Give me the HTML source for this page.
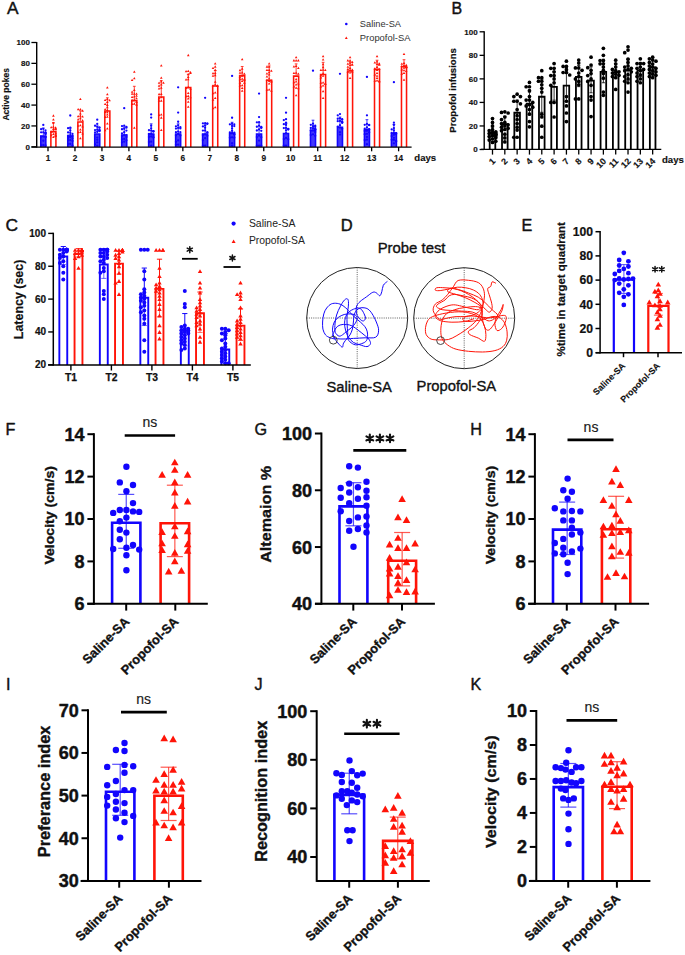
<!DOCTYPE html>
<html><head><meta charset="utf-8"><style>
html,body{margin:0;padding:0;background:#fff;}
svg{display:block;}
text{font-family:"Liberation Sans", sans-serif;}
</style></head><body>
<svg width="685" height="955" viewBox="0 0 685 955">
<rect width="685" height="955" fill="#fff"/>
<text x="6.9" y="14.2" font-size="17.3" font-weight="normal" text-anchor="start" fill="#111" stroke="#111" stroke-width="0.45" stroke-linejoin="round">A</text>
<line x1="36.7" y1="42" x2="36.7" y2="147.4" stroke="#000" stroke-width="1.4"/>
<line x1="31.4" y1="146.8" x2="36.7" y2="146.8" stroke="#000" stroke-width="1.3"/>
<text x="29.9" y="149.5" font-size="8" font-weight="bold" text-anchor="end" fill="#111" stroke="#111" stroke-width="0.15" stroke-linejoin="round">0</text>
<line x1="31.4" y1="125.94" x2="36.7" y2="125.94" stroke="#000" stroke-width="1.3"/>
<text x="29.9" y="128.64" font-size="8" font-weight="bold" text-anchor="end" fill="#111" stroke="#111" stroke-width="0.15" stroke-linejoin="round">20</text>
<line x1="31.4" y1="105.08" x2="36.7" y2="105.08" stroke="#000" stroke-width="1.3"/>
<text x="29.9" y="107.78" font-size="8" font-weight="bold" text-anchor="end" fill="#111" stroke="#111" stroke-width="0.15" stroke-linejoin="round">40</text>
<line x1="31.4" y1="84.22" x2="36.7" y2="84.22" stroke="#000" stroke-width="1.3"/>
<text x="29.9" y="86.92" font-size="8" font-weight="bold" text-anchor="end" fill="#111" stroke="#111" stroke-width="0.15" stroke-linejoin="round">60</text>
<line x1="31.4" y1="63.36" x2="36.7" y2="63.36" stroke="#000" stroke-width="1.3"/>
<text x="29.9" y="66.06" font-size="8" font-weight="bold" text-anchor="end" fill="#111" stroke="#111" stroke-width="0.15" stroke-linejoin="round">80</text>
<line x1="31.4" y1="42.5" x2="36.7" y2="42.5" stroke="#000" stroke-width="1.3"/>
<text x="29.9" y="45.2" font-size="8" font-weight="bold" text-anchor="end" fill="#111" stroke="#111" stroke-width="0.15" stroke-linejoin="round">100</text>
<text x="9.2" y="94.3" font-size="8.5" font-weight="bold" text-anchor="middle" fill="#111" transform="rotate(-90 9.2 94.3)" stroke="#111" stroke-width="0.15" stroke-linejoin="round">Active pokes</text>
<line x1="48" y1="147.1" x2="48" y2="151.3" stroke="#000" stroke-width="1.3"/>
<text x="48" y="160.8" font-size="8.3" font-weight="bold" text-anchor="middle" fill="#111" stroke="#111" stroke-width="0.15" stroke-linejoin="round">1</text>
<rect x="40.77" y="136.1" width="5.05" height="11" fill="#1205fd" fill-opacity="0.8"/>
<path d="M40.77 147.1V136.1H45.82V147.1" fill="none" stroke="#1205fd" stroke-width="1.55" stroke-linejoin="miter"/>
<circle cx="43.3" cy="124.9" r="1.15" fill="#1205fd"/>
<circle cx="43.3" cy="128.83" r="1.15" fill="#1205fd"/>
<circle cx="41.1" cy="129.27" r="1.15" fill="#1205fd"/>
<circle cx="45.5" cy="130.33" r="1.15" fill="#1205fd"/>
<circle cx="43.3" cy="132.34" r="1.15" fill="#1205fd"/>
<circle cx="41.1" cy="132.37" r="1.15" fill="#1205fd"/>
<circle cx="45.5" cy="132.41" r="1.15" fill="#1205fd"/>
<circle cx="45.5" cy="132.85" r="1.15" fill="#1205fd"/>
<circle cx="45.5" cy="133.02" r="1.15" fill="#1205fd"/>
<circle cx="45.5" cy="133.87" r="1.15" fill="#1205fd"/>
<circle cx="45.5" cy="134.24" r="1.15" fill="#1205fd"/>
<circle cx="43.3" cy="136.57" r="1.15" fill="#1205fd"/>
<circle cx="41.1" cy="136.65" r="1.15" fill="#1205fd"/>
<circle cx="45.5" cy="136.82" r="1.15" fill="#1205fd"/>
<circle cx="45.5" cy="137.17" r="1.15" fill="#1205fd"/>
<circle cx="43.3" cy="140.76" r="1.15" fill="#1205fd"/>
<circle cx="43.3" cy="145.06" r="1.15" fill="#1205fd"/>
<circle cx="41.1" cy="145.21" r="1.15" fill="#1205fd"/>
<circle cx="45.5" cy="145.51" r="1.15" fill="#1205fd"/>
<line x1="43.3" y1="135.33" x2="43.3" y2="128.03" stroke="#1205fd" stroke-width="0.8"/>
<line x1="41.9" y1="128.03" x2="44.7" y2="128.03" stroke="#1205fd" stroke-width="0.8"/>
<path d="M52.1 116.65L53.4 114.37L54.7 116.65Z" fill="#ff1408"/>
<path d="M52.1 120.52L53.4 118.23L54.7 120.52Z" fill="#ff1408"/>
<path d="M52.1 124L53.4 121.71L54.7 124Z" fill="#ff1408"/>
<path d="M52.1 127.77L53.4 125.48L54.7 127.77Z" fill="#ff1408"/>
<path d="M49.9 128.27L51.2 125.98L52.5 128.27Z" fill="#ff1408"/>
<path d="M54.3 128.51L55.6 126.22L56.9 128.51Z" fill="#ff1408"/>
<path d="M54.3 129.36L55.6 127.07L56.9 129.36Z" fill="#ff1408"/>
<path d="M52.1 129.93L53.4 127.64L54.7 129.93Z" fill="#ff1408"/>
<path d="M54.3 129.95L55.6 127.66L56.9 129.95Z" fill="#ff1408"/>
<path d="M54.3 130.33L55.6 128.04L56.9 130.33Z" fill="#ff1408"/>
<path d="M52.1 132.29L53.4 130L54.7 132.29Z" fill="#ff1408"/>
<path d="M49.9 132.7L51.2 130.41L52.5 132.7Z" fill="#ff1408"/>
<path d="M54.3 134.28L55.6 131.99L56.9 134.28Z" fill="#ff1408"/>
<path d="M52.1 135.11L53.4 132.82L54.7 135.11Z" fill="#ff1408"/>
<path d="M49.9 136.13L51.2 133.84L52.5 136.13Z" fill="#ff1408"/>
<path d="M54.3 136.27L55.6 133.99L56.9 136.27Z" fill="#ff1408"/>
<path d="M54.3 136.4L55.6 134.11L56.9 136.4Z" fill="#ff1408"/>
<path d="M54.3 136.92L55.6 134.63L56.9 136.92Z" fill="#ff1408"/>
<path d="M52.1 137.92L53.4 135.64L54.7 137.92Z" fill="#ff1408"/>
<path d="M50.88 147.1V131.62H55.92V147.1" fill="none" stroke="#ff1408" stroke-width="1.55" stroke-linejoin="miter"/>
<line x1="53.4" y1="130.84" x2="53.4" y2="122.5" stroke="#ff1408" stroke-width="0.8"/>
<line x1="52" y1="122.5" x2="54.8" y2="122.5" stroke="#ff1408" stroke-width="0.8"/>
<line x1="74.97" y1="147.1" x2="74.97" y2="151.3" stroke="#000" stroke-width="1.3"/>
<text x="74.97" y="160.8" font-size="8.3" font-weight="bold" text-anchor="middle" fill="#111" stroke="#111" stroke-width="0.15" stroke-linejoin="round">2</text>
<rect x="67.75" y="136.1" width="5.05" height="11" fill="#1205fd" fill-opacity="0.8"/>
<path d="M67.75 147.1V136.1H72.79V147.1" fill="none" stroke="#1205fd" stroke-width="1.55" stroke-linejoin="miter"/>
<circle cx="70.27" cy="115.51" r="1.15" fill="#1205fd"/>
<circle cx="70.27" cy="127.7" r="1.15" fill="#1205fd"/>
<circle cx="68.07" cy="128.2" r="1.15" fill="#1205fd"/>
<circle cx="70.27" cy="130.49" r="1.15" fill="#1205fd"/>
<circle cx="68.07" cy="132.42" r="1.15" fill="#1205fd"/>
<circle cx="70.27" cy="132.84" r="1.15" fill="#1205fd"/>
<circle cx="72.47" cy="133.9" r="1.15" fill="#1205fd"/>
<circle cx="70.27" cy="135.04" r="1.15" fill="#1205fd"/>
<circle cx="68.07" cy="135.69" r="1.15" fill="#1205fd"/>
<circle cx="72.47" cy="135.95" r="1.15" fill="#1205fd"/>
<circle cx="70.27" cy="137.21" r="1.15" fill="#1205fd"/>
<circle cx="68.07" cy="137.94" r="1.15" fill="#1205fd"/>
<circle cx="72.47" cy="138.37" r="1.15" fill="#1205fd"/>
<circle cx="70.27" cy="140.05" r="1.15" fill="#1205fd"/>
<circle cx="68.07" cy="140.1" r="1.15" fill="#1205fd"/>
<circle cx="72.47" cy="140.92" r="1.15" fill="#1205fd"/>
<circle cx="70.27" cy="143.88" r="1.15" fill="#1205fd"/>
<circle cx="68.07" cy="144.03" r="1.15" fill="#1205fd"/>
<circle cx="72.47" cy="145.76" r="1.15" fill="#1205fd"/>
<line x1="70.27" y1="135.33" x2="70.27" y2="128.03" stroke="#1205fd" stroke-width="0.8"/>
<line x1="68.87" y1="128.03" x2="71.67" y2="128.03" stroke="#1205fd" stroke-width="0.8"/>
<path d="M79.07 99.97L80.37 97.68L81.67 99.97Z" fill="#ff1408"/>
<path d="M79.07 110.35L80.37 108.06L81.67 110.35Z" fill="#ff1408"/>
<path d="M76.87 110.37L78.17 108.08L79.47 110.37Z" fill="#ff1408"/>
<path d="M81.27 111.64L82.57 109.35L83.87 111.64Z" fill="#ff1408"/>
<path d="M79.07 114.5L80.37 112.21L81.67 114.5Z" fill="#ff1408"/>
<path d="M79.07 116.81L80.37 114.52L81.67 116.81Z" fill="#ff1408"/>
<path d="M76.87 117.26L78.17 114.97L79.47 117.26Z" fill="#ff1408"/>
<path d="M81.27 117.56L82.57 115.28L83.87 117.56Z" fill="#ff1408"/>
<path d="M79.07 119.37L80.37 117.08L81.67 119.37Z" fill="#ff1408"/>
<path d="M76.87 120.39L78.17 118.11L79.47 120.39Z" fill="#ff1408"/>
<path d="M81.27 121.4L82.57 119.11L83.87 121.4Z" fill="#ff1408"/>
<path d="M79.07 126.17L80.37 123.88L81.67 126.17Z" fill="#ff1408"/>
<path d="M76.87 126.82L78.17 124.53L79.47 126.82Z" fill="#ff1408"/>
<path d="M81.27 127.5L82.57 125.21L83.87 127.5Z" fill="#ff1408"/>
<path d="M79.07 130.46L80.37 128.18L81.67 130.46Z" fill="#ff1408"/>
<path d="M79.07 132.94L80.37 130.66L81.67 132.94Z" fill="#ff1408"/>
<path d="M76.87 133.23L78.17 130.94L79.47 133.23Z" fill="#ff1408"/>
<path d="M81.27 134.55L82.57 132.27L83.87 134.55Z" fill="#ff1408"/>
<path d="M79.07 139.34L80.37 137.06L81.67 139.34Z" fill="#ff1408"/>
<path d="M77.85 147.1V122.02H82.89V147.1" fill="none" stroke="#ff1408" stroke-width="1.55" stroke-linejoin="miter"/>
<line x1="80.37" y1="121.25" x2="80.37" y2="110.82" stroke="#ff1408" stroke-width="0.8"/>
<line x1="78.97" y1="110.82" x2="81.77" y2="110.82" stroke="#ff1408" stroke-width="0.8"/>
<line x1="101.94" y1="147.1" x2="101.94" y2="151.3" stroke="#000" stroke-width="1.3"/>
<text x="101.94" y="160.8" font-size="8.3" font-weight="bold" text-anchor="middle" fill="#111" stroke="#111" stroke-width="0.15" stroke-linejoin="round">3</text>
<rect x="94.72" y="134.02" width="5.05" height="13.08" fill="#1205fd" fill-opacity="0.8"/>
<path d="M94.72 147.1V134.02H99.76V147.1" fill="none" stroke="#1205fd" stroke-width="1.55" stroke-linejoin="miter"/>
<circle cx="97.24" cy="119.68" r="1.15" fill="#1205fd"/>
<circle cx="97.24" cy="123.93" r="1.15" fill="#1205fd"/>
<circle cx="95.04" cy="125.75" r="1.15" fill="#1205fd"/>
<circle cx="97.24" cy="126.81" r="1.15" fill="#1205fd"/>
<circle cx="99.44" cy="127.53" r="1.15" fill="#1205fd"/>
<circle cx="99.44" cy="127.66" r="1.15" fill="#1205fd"/>
<circle cx="97.24" cy="129.63" r="1.15" fill="#1205fd"/>
<circle cx="95.04" cy="130.04" r="1.15" fill="#1205fd"/>
<circle cx="99.44" cy="130.15" r="1.15" fill="#1205fd"/>
<circle cx="99.44" cy="130.21" r="1.15" fill="#1205fd"/>
<circle cx="99.44" cy="130.7" r="1.15" fill="#1205fd"/>
<circle cx="99.44" cy="131.15" r="1.15" fill="#1205fd"/>
<circle cx="97.24" cy="131.81" r="1.15" fill="#1205fd"/>
<circle cx="95.04" cy="132.32" r="1.15" fill="#1205fd"/>
<circle cx="97.24" cy="137.54" r="1.15" fill="#1205fd"/>
<circle cx="97.24" cy="139.78" r="1.15" fill="#1205fd"/>
<circle cx="97.24" cy="142.4" r="1.15" fill="#1205fd"/>
<circle cx="95.04" cy="144.34" r="1.15" fill="#1205fd"/>
<circle cx="97.24" cy="145.76" r="1.15" fill="#1205fd"/>
<line x1="97.24" y1="133.24" x2="97.24" y2="125.94" stroke="#1205fd" stroke-width="0.8"/>
<line x1="95.84" y1="125.94" x2="98.64" y2="125.94" stroke="#1205fd" stroke-width="0.8"/>
<path d="M106.04 88.49L107.34 86.21L108.64 88.49Z" fill="#ff1408"/>
<path d="M106.04 95.32L107.34 93.03L108.64 95.32Z" fill="#ff1408"/>
<path d="M106.04 99.97L107.34 97.68L108.64 99.97Z" fill="#ff1408"/>
<path d="M103.84 101.01L105.14 98.72L106.44 101.01Z" fill="#ff1408"/>
<path d="M108.24 101.23L109.54 98.94L110.84 101.23Z" fill="#ff1408"/>
<path d="M106.04 103.01L107.34 100.72L108.64 103.01Z" fill="#ff1408"/>
<path d="M103.84 104.93L105.14 102.64L106.44 104.93Z" fill="#ff1408"/>
<path d="M106.04 105.91L107.34 103.62L108.64 105.91Z" fill="#ff1408"/>
<path d="M106.04 108.19L107.34 105.9L108.64 108.19Z" fill="#ff1408"/>
<path d="M103.84 110.23L105.14 107.95L106.44 110.23Z" fill="#ff1408"/>
<path d="M106.04 111.17L107.34 108.88L108.64 111.17Z" fill="#ff1408"/>
<path d="M103.84 112.94L105.14 110.65L106.44 112.94Z" fill="#ff1408"/>
<path d="M106.04 113.28L107.34 110.99L108.64 113.28Z" fill="#ff1408"/>
<path d="M106.04 115.59L107.34 113.3L108.64 115.59Z" fill="#ff1408"/>
<path d="M106.04 117.78L107.34 115.5L108.64 117.78Z" fill="#ff1408"/>
<path d="M103.84 118.06L105.14 115.77L106.44 118.06Z" fill="#ff1408"/>
<path d="M106.04 124.57L107.34 122.28L108.64 124.57Z" fill="#ff1408"/>
<path d="M106.04 129.57L107.34 127.29L108.64 129.57Z" fill="#ff1408"/>
<path d="M103.84 131.2L105.14 128.92L106.44 131.2Z" fill="#ff1408"/>
<path d="M104.82 147.1V111.07H109.86V147.1" fill="none" stroke="#ff1408" stroke-width="1.55" stroke-linejoin="miter"/>
<line x1="107.34" y1="110.3" x2="107.34" y2="97.78" stroke="#ff1408" stroke-width="0.8"/>
<line x1="105.94" y1="97.78" x2="108.74" y2="97.78" stroke="#ff1408" stroke-width="0.8"/>
<line x1="128.91" y1="147.1" x2="128.91" y2="151.3" stroke="#000" stroke-width="1.3"/>
<text x="128.91" y="160.8" font-size="8.3" font-weight="bold" text-anchor="middle" fill="#111" stroke="#111" stroke-width="0.15" stroke-linejoin="round">4</text>
<rect x="121.69" y="135.06" width="5.05" height="12.04" fill="#1205fd" fill-opacity="0.8"/>
<path d="M121.69 147.1V135.06H126.73V147.1" fill="none" stroke="#1205fd" stroke-width="1.55" stroke-linejoin="miter"/>
<circle cx="124.21" cy="108.21" r="1.15" fill="#1205fd"/>
<circle cx="124.21" cy="125.72" r="1.15" fill="#1205fd"/>
<circle cx="122.01" cy="126.08" r="1.15" fill="#1205fd"/>
<circle cx="126.41" cy="126.92" r="1.15" fill="#1205fd"/>
<circle cx="126.41" cy="127.69" r="1.15" fill="#1205fd"/>
<circle cx="124.21" cy="128.76" r="1.15" fill="#1205fd"/>
<circle cx="122.01" cy="129.27" r="1.15" fill="#1205fd"/>
<circle cx="126.41" cy="130.6" r="1.15" fill="#1205fd"/>
<circle cx="124.21" cy="132.27" r="1.15" fill="#1205fd"/>
<circle cx="122.01" cy="133.45" r="1.15" fill="#1205fd"/>
<circle cx="124.21" cy="135.07" r="1.15" fill="#1205fd"/>
<circle cx="126.41" cy="135.15" r="1.15" fill="#1205fd"/>
<circle cx="122.01" cy="136.02" r="1.15" fill="#1205fd"/>
<circle cx="126.41" cy="136.88" r="1.15" fill="#1205fd"/>
<circle cx="124.21" cy="138.88" r="1.15" fill="#1205fd"/>
<circle cx="122.01" cy="139.43" r="1.15" fill="#1205fd"/>
<circle cx="126.41" cy="140.28" r="1.15" fill="#1205fd"/>
<circle cx="124.21" cy="141.69" r="1.15" fill="#1205fd"/>
<circle cx="122.01" cy="142.34" r="1.15" fill="#1205fd"/>
<line x1="124.21" y1="134.28" x2="124.21" y2="126.98" stroke="#1205fd" stroke-width="0.8"/>
<line x1="122.81" y1="126.98" x2="125.61" y2="126.98" stroke="#1205fd" stroke-width="0.8"/>
<path d="M133.01 72.85L134.31 70.56L135.61 72.85Z" fill="#ff1408"/>
<path d="M133.01 79.2L134.31 76.91L135.61 79.2Z" fill="#ff1408"/>
<path d="M130.81 81.08L132.11 78.79L133.41 81.08Z" fill="#ff1408"/>
<path d="M133.01 90.99L134.31 88.7L135.61 90.99Z" fill="#ff1408"/>
<path d="M130.81 92.72L132.11 90.43L133.41 92.72Z" fill="#ff1408"/>
<path d="M133.01 94.77L134.31 92.48L135.61 94.77Z" fill="#ff1408"/>
<path d="M135.21 94.8L136.51 92.51L137.81 94.8Z" fill="#ff1408"/>
<path d="M130.81 94.87L132.11 92.58L133.41 94.87Z" fill="#ff1408"/>
<path d="M135.21 96.82L136.51 94.54L137.81 96.82Z" fill="#ff1408"/>
<path d="M133.01 97.48L134.31 95.2L135.61 97.48Z" fill="#ff1408"/>
<path d="M130.81 98L132.11 95.71L133.41 98Z" fill="#ff1408"/>
<path d="M135.21 99.35L136.51 97.07L137.81 99.35Z" fill="#ff1408"/>
<path d="M133.01 101L134.31 98.71L135.61 101Z" fill="#ff1408"/>
<path d="M130.81 101.15L132.11 98.86L133.41 101.15Z" fill="#ff1408"/>
<path d="M135.21 102.92L136.51 100.63L137.81 102.92Z" fill="#ff1408"/>
<path d="M133.01 104.66L134.31 102.37L135.61 104.66Z" fill="#ff1408"/>
<path d="M130.81 105.05L132.11 102.76L133.41 105.05Z" fill="#ff1408"/>
<path d="M135.21 105.65L136.51 103.36L137.81 105.65Z" fill="#ff1408"/>
<path d="M133.01 128.83L134.31 126.54L135.61 128.83Z" fill="#ff1408"/>
<path d="M131.78 147.1V100.64H136.84V147.1" fill="none" stroke="#ff1408" stroke-width="1.55" stroke-linejoin="miter"/>
<line x1="134.31" y1="99.87" x2="134.31" y2="86.31" stroke="#ff1408" stroke-width="0.8"/>
<line x1="132.91" y1="86.31" x2="135.71" y2="86.31" stroke="#ff1408" stroke-width="0.8"/>
<line x1="155.88" y1="147.1" x2="155.88" y2="151.3" stroke="#000" stroke-width="1.3"/>
<text x="155.88" y="160.8" font-size="8.3" font-weight="bold" text-anchor="middle" fill="#111" stroke="#111" stroke-width="0.15" stroke-linejoin="round">5</text>
<rect x="148.66" y="134.02" width="5.05" height="13.08" fill="#1205fd" fill-opacity="0.8"/>
<path d="M148.66 147.1V134.02H153.71V147.1" fill="none" stroke="#1205fd" stroke-width="1.55" stroke-linejoin="miter"/>
<circle cx="151.18" cy="114.47" r="1.15" fill="#1205fd"/>
<circle cx="151.18" cy="117.6" r="1.15" fill="#1205fd"/>
<circle cx="151.18" cy="125.67" r="1.15" fill="#1205fd"/>
<circle cx="151.18" cy="128.32" r="1.15" fill="#1205fd"/>
<circle cx="148.98" cy="130.25" r="1.15" fill="#1205fd"/>
<circle cx="151.18" cy="130.57" r="1.15" fill="#1205fd"/>
<circle cx="153.38" cy="131.12" r="1.15" fill="#1205fd"/>
<circle cx="153.38" cy="131.41" r="1.15" fill="#1205fd"/>
<circle cx="153.38" cy="131.45" r="1.15" fill="#1205fd"/>
<circle cx="151.18" cy="133.71" r="1.15" fill="#1205fd"/>
<circle cx="148.98" cy="133.99" r="1.15" fill="#1205fd"/>
<circle cx="153.38" cy="134.94" r="1.15" fill="#1205fd"/>
<circle cx="151.18" cy="136.48" r="1.15" fill="#1205fd"/>
<circle cx="148.98" cy="136.9" r="1.15" fill="#1205fd"/>
<circle cx="153.38" cy="137.16" r="1.15" fill="#1205fd"/>
<circle cx="153.38" cy="137.4" r="1.15" fill="#1205fd"/>
<circle cx="151.18" cy="141.68" r="1.15" fill="#1205fd"/>
<circle cx="148.98" cy="142.02" r="1.15" fill="#1205fd"/>
<circle cx="151.18" cy="145.76" r="1.15" fill="#1205fd"/>
<line x1="151.18" y1="133.24" x2="151.18" y2="123.85" stroke="#1205fd" stroke-width="0.8"/>
<line x1="149.78" y1="123.85" x2="152.58" y2="123.85" stroke="#1205fd" stroke-width="0.8"/>
<path d="M159.98 66.59L161.28 64.3L162.58 66.59Z" fill="#ff1408"/>
<path d="M159.98 78.7L161.28 76.41L162.58 78.7Z" fill="#ff1408"/>
<path d="M159.98 82.41L161.28 80.12L162.58 82.41Z" fill="#ff1408"/>
<path d="M157.78 83.69L159.08 81.41L160.38 83.69Z" fill="#ff1408"/>
<path d="M162.18 83.73L163.48 81.44L164.78 83.73Z" fill="#ff1408"/>
<path d="M159.98 85.42L161.28 83.14L162.58 85.42Z" fill="#ff1408"/>
<path d="M157.78 86.64L159.08 84.35L160.38 86.64Z" fill="#ff1408"/>
<path d="M159.98 88.81L161.28 86.52L162.58 88.81Z" fill="#ff1408"/>
<path d="M157.78 89.56L159.08 87.27L160.38 89.56Z" fill="#ff1408"/>
<path d="M159.98 94.97L161.28 92.68L162.58 94.97Z" fill="#ff1408"/>
<path d="M157.78 95.16L159.08 92.87L160.38 95.16Z" fill="#ff1408"/>
<path d="M159.98 98.19L161.28 95.91L162.58 98.19Z" fill="#ff1408"/>
<path d="M157.78 99.23L159.08 96.94L160.38 99.23Z" fill="#ff1408"/>
<path d="M159.98 101.63L161.28 99.34L162.58 101.63Z" fill="#ff1408"/>
<path d="M157.78 101.78L159.08 99.49L160.38 101.78Z" fill="#ff1408"/>
<path d="M159.98 115.48L161.28 113.19L162.58 115.48Z" fill="#ff1408"/>
<path d="M157.78 116.03L159.08 113.75L160.38 116.03Z" fill="#ff1408"/>
<path d="M159.98 118.65L161.28 116.37L162.58 118.65Z" fill="#ff1408"/>
<path d="M159.98 130.94L161.28 128.65L162.58 130.94Z" fill="#ff1408"/>
<path d="M158.75 147.1V96.99H163.81V147.1" fill="none" stroke="#ff1408" stroke-width="1.55" stroke-linejoin="miter"/>
<line x1="161.28" y1="96.21" x2="161.28" y2="80.57" stroke="#ff1408" stroke-width="0.8"/>
<line x1="159.88" y1="80.57" x2="162.68" y2="80.57" stroke="#ff1408" stroke-width="0.8"/>
<line x1="182.85" y1="147.1" x2="182.85" y2="151.3" stroke="#000" stroke-width="1.3"/>
<text x="182.85" y="160.8" font-size="8.3" font-weight="bold" text-anchor="middle" fill="#111" stroke="#111" stroke-width="0.15" stroke-linejoin="round">6</text>
<rect x="175.62" y="134.02" width="5.05" height="13.08" fill="#1205fd" fill-opacity="0.8"/>
<path d="M175.62 147.1V134.02H180.68V147.1" fill="none" stroke="#1205fd" stroke-width="1.55" stroke-linejoin="miter"/>
<circle cx="178.15" cy="87.35" r="1.15" fill="#1205fd"/>
<circle cx="178.15" cy="112.62" r="1.15" fill="#1205fd"/>
<circle cx="178.15" cy="121.73" r="1.15" fill="#1205fd"/>
<circle cx="178.15" cy="125.37" r="1.15" fill="#1205fd"/>
<circle cx="175.95" cy="126.37" r="1.15" fill="#1205fd"/>
<circle cx="180.35" cy="127.25" r="1.15" fill="#1205fd"/>
<circle cx="178.15" cy="127.95" r="1.15" fill="#1205fd"/>
<circle cx="180.35" cy="128.45" r="1.15" fill="#1205fd"/>
<circle cx="175.95" cy="128.62" r="1.15" fill="#1205fd"/>
<circle cx="178.15" cy="131.57" r="1.15" fill="#1205fd"/>
<circle cx="175.95" cy="132.18" r="1.15" fill="#1205fd"/>
<circle cx="180.35" cy="132.25" r="1.15" fill="#1205fd"/>
<circle cx="178.15" cy="133.91" r="1.15" fill="#1205fd"/>
<circle cx="175.95" cy="135.24" r="1.15" fill="#1205fd"/>
<circle cx="180.35" cy="135.45" r="1.15" fill="#1205fd"/>
<circle cx="178.15" cy="140.47" r="1.15" fill="#1205fd"/>
<circle cx="175.95" cy="141.85" r="1.15" fill="#1205fd"/>
<circle cx="178.15" cy="144.58" r="1.15" fill="#1205fd"/>
<circle cx="175.95" cy="144.71" r="1.15" fill="#1205fd"/>
<line x1="178.15" y1="133.24" x2="178.15" y2="123.85" stroke="#1205fd" stroke-width="0.8"/>
<line x1="176.75" y1="123.85" x2="179.55" y2="123.85" stroke="#1205fd" stroke-width="0.8"/>
<path d="M186.95 56.16L188.25 53.87L189.55 56.16Z" fill="#ff1408"/>
<path d="M186.95 72.06L188.25 69.77L189.55 72.06Z" fill="#ff1408"/>
<path d="M184.75 72.35L186.05 70.06L187.35 72.35Z" fill="#ff1408"/>
<path d="M189.15 73.22L190.45 70.93L191.75 73.22Z" fill="#ff1408"/>
<path d="M189.15 73.89L190.45 71.6L191.75 73.89Z" fill="#ff1408"/>
<path d="M186.95 75.29L188.25 73L189.55 75.29Z" fill="#ff1408"/>
<path d="M186.95 78.08L188.25 75.79L189.55 78.08Z" fill="#ff1408"/>
<path d="M186.95 80.3L188.25 78.01L189.55 80.3Z" fill="#ff1408"/>
<path d="M184.75 80.5L186.05 78.21L187.35 80.5Z" fill="#ff1408"/>
<path d="M186.95 87.96L188.25 85.67L189.55 87.96Z" fill="#ff1408"/>
<path d="M184.75 88.94L186.05 86.65L187.35 88.94Z" fill="#ff1408"/>
<path d="M189.15 89.75L190.45 87.46L191.75 89.75Z" fill="#ff1408"/>
<path d="M186.95 94.01L188.25 91.72L189.55 94.01Z" fill="#ff1408"/>
<path d="M186.95 96.89L188.25 94.6L189.55 96.89Z" fill="#ff1408"/>
<path d="M184.75 97.36L186.05 95.07L187.35 97.36Z" fill="#ff1408"/>
<path d="M189.15 98.25L190.45 95.96L191.75 98.25Z" fill="#ff1408"/>
<path d="M186.95 99.39L188.25 97.1L189.55 99.39Z" fill="#ff1408"/>
<path d="M186.95 102.69L188.25 100.4L189.55 102.69Z" fill="#ff1408"/>
<path d="M186.95 107.72L188.25 105.43L189.55 107.72Z" fill="#ff1408"/>
<path d="M185.72 147.1V87.6H190.78V147.1" fill="none" stroke="#ff1408" stroke-width="1.55" stroke-linejoin="miter"/>
<line x1="188.25" y1="86.83" x2="188.25" y2="74.31" stroke="#ff1408" stroke-width="0.8"/>
<line x1="186.85" y1="74.31" x2="189.65" y2="74.31" stroke="#ff1408" stroke-width="0.8"/>
<line x1="209.82" y1="147.1" x2="209.82" y2="151.3" stroke="#000" stroke-width="1.3"/>
<text x="209.82" y="160.8" font-size="8.3" font-weight="bold" text-anchor="middle" fill="#111" stroke="#111" stroke-width="0.15" stroke-linejoin="round">7</text>
<rect x="202.59" y="134.02" width="5.05" height="13.08" fill="#1205fd" fill-opacity="0.8"/>
<path d="M202.59 147.1V134.02H207.65V147.1" fill="none" stroke="#1205fd" stroke-width="1.55" stroke-linejoin="miter"/>
<circle cx="205.12" cy="97.78" r="1.15" fill="#1205fd"/>
<circle cx="205.12" cy="123.24" r="1.15" fill="#1205fd"/>
<circle cx="202.92" cy="123.31" r="1.15" fill="#1205fd"/>
<circle cx="207.32" cy="123.55" r="1.15" fill="#1205fd"/>
<circle cx="207.32" cy="123.73" r="1.15" fill="#1205fd"/>
<circle cx="205.12" cy="125.66" r="1.15" fill="#1205fd"/>
<circle cx="202.92" cy="126.44" r="1.15" fill="#1205fd"/>
<circle cx="205.12" cy="127.78" r="1.15" fill="#1205fd"/>
<circle cx="205.12" cy="130.5" r="1.15" fill="#1205fd"/>
<circle cx="202.92" cy="130.57" r="1.15" fill="#1205fd"/>
<circle cx="207.32" cy="132.41" r="1.15" fill="#1205fd"/>
<circle cx="207.32" cy="132.47" r="1.15" fill="#1205fd"/>
<circle cx="205.12" cy="134.45" r="1.15" fill="#1205fd"/>
<circle cx="202.92" cy="135" r="1.15" fill="#1205fd"/>
<circle cx="207.32" cy="135.83" r="1.15" fill="#1205fd"/>
<circle cx="205.12" cy="138.21" r="1.15" fill="#1205fd"/>
<circle cx="202.92" cy="140.05" r="1.15" fill="#1205fd"/>
<circle cx="205.12" cy="145.62" r="1.15" fill="#1205fd"/>
<circle cx="202.92" cy="145.76" r="1.15" fill="#1205fd"/>
<line x1="205.12" y1="133.24" x2="205.12" y2="124.9" stroke="#1205fd" stroke-width="0.8"/>
<line x1="203.72" y1="124.9" x2="206.52" y2="124.9" stroke="#1205fd" stroke-width="0.8"/>
<path d="M213.92 64.5L215.22 62.22L216.52 64.5Z" fill="#ff1408"/>
<path d="M213.92 67.63L215.22 65.35L216.52 67.63Z" fill="#ff1408"/>
<path d="M211.72 68.98L213.02 66.7L214.32 68.98Z" fill="#ff1408"/>
<path d="M213.92 70.91L215.22 68.62L216.52 70.91Z" fill="#ff1408"/>
<path d="M213.92 73.92L215.22 71.63L216.52 73.92Z" fill="#ff1408"/>
<path d="M211.72 74.25L213.02 71.97L214.32 74.25Z" fill="#ff1408"/>
<path d="M213.92 76.13L215.22 73.84L216.52 76.13Z" fill="#ff1408"/>
<path d="M211.72 76.68L213.02 74.39L214.32 76.68Z" fill="#ff1408"/>
<path d="M213.92 82.7L215.22 80.42L216.52 82.7Z" fill="#ff1408"/>
<path d="M213.92 85.48L215.22 83.2L216.52 85.48Z" fill="#ff1408"/>
<path d="M211.72 86.52L213.02 84.23L214.32 86.52Z" fill="#ff1408"/>
<path d="M216.12 86.56L217.42 84.27L218.72 86.56Z" fill="#ff1408"/>
<path d="M216.12 87.12L217.42 84.83L218.72 87.12Z" fill="#ff1408"/>
<path d="M213.92 93.55L215.22 91.26L216.52 93.55Z" fill="#ff1408"/>
<path d="M211.72 94.25L213.02 91.97L214.32 94.25Z" fill="#ff1408"/>
<path d="M213.92 99.06L215.22 96.77L216.52 99.06Z" fill="#ff1408"/>
<path d="M211.72 100.8L213.02 98.51L214.32 100.8Z" fill="#ff1408"/>
<path d="M213.92 108.32L215.22 106.03L216.52 108.32Z" fill="#ff1408"/>
<path d="M211.72 109.34L213.02 107.05L214.32 109.34Z" fill="#ff1408"/>
<path d="M212.69 147.1V86.04H217.75V147.1" fill="none" stroke="#ff1408" stroke-width="1.55" stroke-linejoin="miter"/>
<line x1="215.22" y1="85.26" x2="215.22" y2="70.66" stroke="#ff1408" stroke-width="0.8"/>
<line x1="213.82" y1="70.66" x2="216.62" y2="70.66" stroke="#ff1408" stroke-width="0.8"/>
<line x1="236.79" y1="147.1" x2="236.79" y2="151.3" stroke="#000" stroke-width="1.3"/>
<text x="236.79" y="160.8" font-size="8.3" font-weight="bold" text-anchor="middle" fill="#111" stroke="#111" stroke-width="0.15" stroke-linejoin="round">8</text>
<rect x="229.56" y="133.49" width="5.05" height="13.61" fill="#1205fd" fill-opacity="0.8"/>
<path d="M229.56 147.1V133.49H234.62V147.1" fill="none" stroke="#1205fd" stroke-width="1.55" stroke-linejoin="miter"/>
<circle cx="232.09" cy="75.88" r="1.15" fill="#1205fd"/>
<circle cx="232.09" cy="117.77" r="1.15" fill="#1205fd"/>
<circle cx="232.09" cy="123.76" r="1.15" fill="#1205fd"/>
<circle cx="229.89" cy="124.31" r="1.15" fill="#1205fd"/>
<circle cx="234.29" cy="124.37" r="1.15" fill="#1205fd"/>
<circle cx="232.09" cy="126" r="1.15" fill="#1205fd"/>
<circle cx="234.29" cy="126.1" r="1.15" fill="#1205fd"/>
<circle cx="232.09" cy="128.29" r="1.15" fill="#1205fd"/>
<circle cx="232.09" cy="130.77" r="1.15" fill="#1205fd"/>
<circle cx="229.89" cy="132.35" r="1.15" fill="#1205fd"/>
<circle cx="234.29" cy="132.66" r="1.15" fill="#1205fd"/>
<circle cx="232.09" cy="132.96" r="1.15" fill="#1205fd"/>
<circle cx="234.29" cy="134.32" r="1.15" fill="#1205fd"/>
<circle cx="234.29" cy="134.37" r="1.15" fill="#1205fd"/>
<circle cx="232.09" cy="137.35" r="1.15" fill="#1205fd"/>
<circle cx="229.89" cy="137.66" r="1.15" fill="#1205fd"/>
<circle cx="234.29" cy="137.71" r="1.15" fill="#1205fd"/>
<circle cx="232.09" cy="143.23" r="1.15" fill="#1205fd"/>
<circle cx="232.09" cy="145.76" r="1.15" fill="#1205fd"/>
<line x1="232.09" y1="132.72" x2="232.09" y2="122.29" stroke="#1205fd" stroke-width="0.8"/>
<line x1="230.69" y1="122.29" x2="233.49" y2="122.29" stroke="#1205fd" stroke-width="0.8"/>
<path d="M240.89 60.33L242.19 58.04L243.49 60.33Z" fill="#ff1408"/>
<path d="M240.89 69.82L242.19 67.53L243.49 69.82Z" fill="#ff1408"/>
<path d="M238.69 71.14L239.99 68.85L241.29 71.14Z" fill="#ff1408"/>
<path d="M240.89 73.55L242.19 71.26L243.49 73.55Z" fill="#ff1408"/>
<path d="M238.69 73.79L239.99 71.5L241.29 73.79Z" fill="#ff1408"/>
<path d="M243.09 74.87L244.39 72.58L245.69 74.87Z" fill="#ff1408"/>
<path d="M240.89 76.76L242.19 74.47L243.49 76.76Z" fill="#ff1408"/>
<path d="M238.69 77.82L239.99 75.53L241.29 77.82Z" fill="#ff1408"/>
<path d="M240.89 79.75L242.19 77.46L243.49 79.75Z" fill="#ff1408"/>
<path d="M238.69 80.24L239.99 77.95L241.29 80.24Z" fill="#ff1408"/>
<path d="M243.09 80.26L244.39 77.97L245.69 80.26Z" fill="#ff1408"/>
<path d="M243.09 81.12L244.39 78.84L245.69 81.12Z" fill="#ff1408"/>
<path d="M240.89 82L242.19 79.71L243.49 82Z" fill="#ff1408"/>
<path d="M238.69 83.85L239.99 81.56L241.29 83.85Z" fill="#ff1408"/>
<path d="M243.09 83.85L244.39 81.56L245.69 83.85Z" fill="#ff1408"/>
<path d="M240.89 86.2L242.19 83.91L243.49 86.2Z" fill="#ff1408"/>
<path d="M238.69 86.42L239.99 84.13L241.29 86.42Z" fill="#ff1408"/>
<path d="M240.89 88.94L242.19 86.65L243.49 88.94Z" fill="#ff1408"/>
<path d="M240.89 91.73L242.19 89.44L243.49 91.73Z" fill="#ff1408"/>
<path d="M239.66 147.1V75.61H244.72V147.1" fill="none" stroke="#ff1408" stroke-width="1.55" stroke-linejoin="miter"/>
<line x1="242.19" y1="74.83" x2="242.19" y2="66.49" stroke="#ff1408" stroke-width="0.8"/>
<line x1="240.79" y1="66.49" x2="243.59" y2="66.49" stroke="#ff1408" stroke-width="0.8"/>
<line x1="263.76" y1="147.1" x2="263.76" y2="151.3" stroke="#000" stroke-width="1.3"/>
<text x="263.76" y="160.8" font-size="8.3" font-weight="bold" text-anchor="middle" fill="#111" stroke="#111" stroke-width="0.15" stroke-linejoin="round">9</text>
<rect x="256.53" y="134.02" width="5.05" height="13.08" fill="#1205fd" fill-opacity="0.8"/>
<path d="M256.53 147.1V134.02H261.59V147.1" fill="none" stroke="#1205fd" stroke-width="1.55" stroke-linejoin="miter"/>
<circle cx="259.06" cy="93.61" r="1.15" fill="#1205fd"/>
<circle cx="259.06" cy="117.05" r="1.15" fill="#1205fd"/>
<circle cx="259.06" cy="122.11" r="1.15" fill="#1205fd"/>
<circle cx="256.86" cy="122.32" r="1.15" fill="#1205fd"/>
<circle cx="259.06" cy="125.76" r="1.15" fill="#1205fd"/>
<circle cx="256.86" cy="126.73" r="1.15" fill="#1205fd"/>
<circle cx="261.26" cy="127" r="1.15" fill="#1205fd"/>
<circle cx="261.26" cy="127.68" r="1.15" fill="#1205fd"/>
<circle cx="261.26" cy="127.74" r="1.15" fill="#1205fd"/>
<circle cx="259.06" cy="129.48" r="1.15" fill="#1205fd"/>
<circle cx="256.86" cy="130.52" r="1.15" fill="#1205fd"/>
<circle cx="261.26" cy="130.81" r="1.15" fill="#1205fd"/>
<circle cx="259.06" cy="135.72" r="1.15" fill="#1205fd"/>
<circle cx="256.86" cy="137.07" r="1.15" fill="#1205fd"/>
<circle cx="261.26" cy="137.16" r="1.15" fill="#1205fd"/>
<circle cx="259.06" cy="140.54" r="1.15" fill="#1205fd"/>
<circle cx="259.06" cy="145.76" r="1.15" fill="#1205fd"/>
<circle cx="256.86" cy="145.76" r="1.15" fill="#1205fd"/>
<circle cx="261.26" cy="145.76" r="1.15" fill="#1205fd"/>
<line x1="259.06" y1="133.24" x2="259.06" y2="122.81" stroke="#1205fd" stroke-width="0.8"/>
<line x1="257.66" y1="122.81" x2="260.46" y2="122.81" stroke="#1205fd" stroke-width="0.8"/>
<path d="M267.86 64.5L269.16 62.22L270.46 64.5Z" fill="#ff1408"/>
<path d="M267.86 67.63L269.16 65.35L270.46 67.63Z" fill="#ff1408"/>
<path d="M265.66 67.63L266.96 65.35L268.26 67.63Z" fill="#ff1408"/>
<path d="M267.86 70.88L269.16 68.59L270.46 70.88Z" fill="#ff1408"/>
<path d="M265.66 71L266.96 68.71L268.26 71Z" fill="#ff1408"/>
<path d="M270.06 71.72L271.36 69.43L272.66 71.72Z" fill="#ff1408"/>
<path d="M267.86 73.19L269.16 70.9L270.46 73.19Z" fill="#ff1408"/>
<path d="M265.66 74.58L266.96 72.3L268.26 74.58Z" fill="#ff1408"/>
<path d="M267.86 75.58L269.16 73.3L270.46 75.58Z" fill="#ff1408"/>
<path d="M265.66 77.49L266.96 75.21L268.26 77.49Z" fill="#ff1408"/>
<path d="M267.86 79.57L269.16 77.28L270.46 79.57Z" fill="#ff1408"/>
<path d="M265.66 81.05L266.96 78.76L268.26 81.05Z" fill="#ff1408"/>
<path d="M270.06 81.64L271.36 79.35L272.66 81.64Z" fill="#ff1408"/>
<path d="M267.86 81.97L269.16 79.69L270.46 81.97Z" fill="#ff1408"/>
<path d="M270.06 82.79L271.36 80.5L272.66 82.79Z" fill="#ff1408"/>
<path d="M267.86 84.56L269.16 82.28L270.46 84.56Z" fill="#ff1408"/>
<path d="M267.86 90.5L269.16 88.21L270.46 90.5Z" fill="#ff1408"/>
<path d="M265.66 90.73L266.96 88.44L268.26 90.73Z" fill="#ff1408"/>
<path d="M270.06 91.69L271.36 89.4L272.66 91.69Z" fill="#ff1408"/>
<path d="M266.63 147.1V80.3H271.69V147.1" fill="none" stroke="#ff1408" stroke-width="1.55" stroke-linejoin="miter"/>
<line x1="269.16" y1="79.53" x2="269.16" y2="65.97" stroke="#ff1408" stroke-width="0.8"/>
<line x1="267.76" y1="65.97" x2="270.56" y2="65.97" stroke="#ff1408" stroke-width="0.8"/>
<line x1="290.73" y1="147.1" x2="290.73" y2="151.3" stroke="#000" stroke-width="1.3"/>
<text x="290.73" y="160.8" font-size="8.3" font-weight="bold" text-anchor="middle" fill="#111" stroke="#111" stroke-width="0.15" stroke-linejoin="round">10</text>
<rect x="283.5" y="133.49" width="5.05" height="13.61" fill="#1205fd" fill-opacity="0.8"/>
<path d="M283.5 147.1V133.49H288.56V147.1" fill="none" stroke="#1205fd" stroke-width="1.55" stroke-linejoin="miter"/>
<circle cx="286.03" cy="97.78" r="1.15" fill="#1205fd"/>
<circle cx="286.03" cy="112.69" r="1.15" fill="#1205fd"/>
<circle cx="286.03" cy="119.13" r="1.15" fill="#1205fd"/>
<circle cx="283.83" cy="120.07" r="1.15" fill="#1205fd"/>
<circle cx="286.03" cy="122.76" r="1.15" fill="#1205fd"/>
<circle cx="283.83" cy="124.16" r="1.15" fill="#1205fd"/>
<circle cx="286.03" cy="124.96" r="1.15" fill="#1205fd"/>
<circle cx="286.03" cy="127.93" r="1.15" fill="#1205fd"/>
<circle cx="283.83" cy="128.05" r="1.15" fill="#1205fd"/>
<circle cx="288.23" cy="128.8" r="1.15" fill="#1205fd"/>
<circle cx="288.23" cy="129.11" r="1.15" fill="#1205fd"/>
<circle cx="288.23" cy="129.51" r="1.15" fill="#1205fd"/>
<circle cx="286.03" cy="130.28" r="1.15" fill="#1205fd"/>
<circle cx="286.03" cy="133.23" r="1.15" fill="#1205fd"/>
<circle cx="286.03" cy="137.99" r="1.15" fill="#1205fd"/>
<circle cx="283.83" cy="139.04" r="1.15" fill="#1205fd"/>
<circle cx="288.23" cy="139.13" r="1.15" fill="#1205fd"/>
<circle cx="286.03" cy="145.76" r="1.15" fill="#1205fd"/>
<circle cx="283.83" cy="145.76" r="1.15" fill="#1205fd"/>
<line x1="286.03" y1="132.72" x2="286.03" y2="123.33" stroke="#1205fd" stroke-width="0.8"/>
<line x1="284.63" y1="123.33" x2="287.43" y2="123.33" stroke="#1205fd" stroke-width="0.8"/>
<path d="M294.83 58.25L296.13 55.96L297.43 58.25Z" fill="#ff1408"/>
<path d="M294.83 61.38L296.13 59.09L297.43 61.38Z" fill="#ff1408"/>
<path d="M292.63 61.38L293.93 59.09L295.23 61.38Z" fill="#ff1408"/>
<path d="M297.03 61.38L298.33 59.09L299.63 61.38Z" fill="#ff1408"/>
<path d="M294.83 66.98L296.13 64.69L297.43 66.98Z" fill="#ff1408"/>
<path d="M292.63 67.42L293.93 65.13L295.23 67.42Z" fill="#ff1408"/>
<path d="M297.03 69.06L298.33 66.77L299.63 69.06Z" fill="#ff1408"/>
<path d="M294.83 73.83L296.13 71.54L297.43 73.83Z" fill="#ff1408"/>
<path d="M292.63 74.11L293.93 71.82L295.23 74.11Z" fill="#ff1408"/>
<path d="M297.03 74.81L298.33 72.53L299.63 74.81Z" fill="#ff1408"/>
<path d="M294.83 80.16L296.13 77.87L297.43 80.16Z" fill="#ff1408"/>
<path d="M294.83 82.61L296.13 80.33L297.43 82.61Z" fill="#ff1408"/>
<path d="M292.63 83.37L293.93 81.08L295.23 83.37Z" fill="#ff1408"/>
<path d="M297.03 84.5L298.33 82.21L299.63 84.5Z" fill="#ff1408"/>
<path d="M294.83 85.44L296.13 83.15L297.43 85.44Z" fill="#ff1408"/>
<path d="M292.63 87.46L293.93 85.17L295.23 87.46Z" fill="#ff1408"/>
<path d="M294.83 88.84L296.13 86.56L297.43 88.84Z" fill="#ff1408"/>
<path d="M297.03 89.37L298.33 87.08L299.63 89.37Z" fill="#ff1408"/>
<path d="M294.83 96.32L296.13 94.04L297.43 96.32Z" fill="#ff1408"/>
<path d="M293.6 147.1V76.13H298.66V147.1" fill="none" stroke="#ff1408" stroke-width="1.55" stroke-linejoin="miter"/>
<line x1="296.13" y1="75.35" x2="296.13" y2="63.88" stroke="#ff1408" stroke-width="0.8"/>
<line x1="294.73" y1="63.88" x2="297.53" y2="63.88" stroke="#ff1408" stroke-width="0.8"/>
<line x1="317.7" y1="147.1" x2="317.7" y2="151.3" stroke="#000" stroke-width="1.3"/>
<text x="317.7" y="160.8" font-size="8.3" font-weight="bold" text-anchor="middle" fill="#111" stroke="#111" stroke-width="0.15" stroke-linejoin="round">11</text>
<rect x="310.47" y="130.37" width="5.05" height="16.73" fill="#1205fd" fill-opacity="0.8"/>
<path d="M310.47 147.1V130.37H315.53V147.1" fill="none" stroke="#1205fd" stroke-width="1.55" stroke-linejoin="miter"/>
<circle cx="313" cy="70.66" r="1.15" fill="#1205fd"/>
<circle cx="313" cy="123.66" r="1.15" fill="#1205fd"/>
<circle cx="310.8" cy="124.8" r="1.15" fill="#1205fd"/>
<circle cx="315.2" cy="125.66" r="1.15" fill="#1205fd"/>
<circle cx="313" cy="126.15" r="1.15" fill="#1205fd"/>
<circle cx="315.2" cy="126.76" r="1.15" fill="#1205fd"/>
<circle cx="310.8" cy="128.02" r="1.15" fill="#1205fd"/>
<circle cx="313" cy="128.27" r="1.15" fill="#1205fd"/>
<circle cx="315.2" cy="128.41" r="1.15" fill="#1205fd"/>
<circle cx="315.2" cy="129.22" r="1.15" fill="#1205fd"/>
<circle cx="315.2" cy="129.59" r="1.15" fill="#1205fd"/>
<circle cx="315.2" cy="129.59" r="1.15" fill="#1205fd"/>
<circle cx="315.2" cy="130.03" r="1.15" fill="#1205fd"/>
<circle cx="313" cy="130.41" r="1.15" fill="#1205fd"/>
<circle cx="310.8" cy="130.52" r="1.15" fill="#1205fd"/>
<circle cx="315.2" cy="132.02" r="1.15" fill="#1205fd"/>
<circle cx="313" cy="134.29" r="1.15" fill="#1205fd"/>
<circle cx="310.8" cy="135.05" r="1.15" fill="#1205fd"/>
<circle cx="315.2" cy="135.79" r="1.15" fill="#1205fd"/>
<line x1="313" y1="129.59" x2="313" y2="120.2" stroke="#1205fd" stroke-width="0.8"/>
<line x1="311.6" y1="120.2" x2="314.4" y2="120.2" stroke="#1205fd" stroke-width="0.8"/>
<path d="M321.8 57.2L323.1 54.92L324.4 57.2Z" fill="#ff1408"/>
<path d="M321.8 60.45L323.1 58.16L324.4 60.45Z" fill="#ff1408"/>
<path d="M321.8 65.26L323.1 62.97L324.4 65.26Z" fill="#ff1408"/>
<path d="M321.8 68.14L323.1 65.86L324.4 68.14Z" fill="#ff1408"/>
<path d="M321.8 70.84L323.1 68.55L324.4 70.84Z" fill="#ff1408"/>
<path d="M319.6 70.94L320.9 68.66L322.2 70.94Z" fill="#ff1408"/>
<path d="M324 71.07L325.3 68.78L326.6 71.07Z" fill="#ff1408"/>
<path d="M321.8 74.39L323.1 72.1L324.4 74.39Z" fill="#ff1408"/>
<path d="M319.6 76.17L320.9 73.88L322.2 76.17Z" fill="#ff1408"/>
<path d="M321.8 76.67L323.1 74.38L324.4 76.67Z" fill="#ff1408"/>
<path d="M319.6 78.44L320.9 76.15L322.2 78.44Z" fill="#ff1408"/>
<path d="M321.8 83.47L323.1 81.19L324.4 83.47Z" fill="#ff1408"/>
<path d="M319.6 83.8L320.9 81.51L322.2 83.8Z" fill="#ff1408"/>
<path d="M324 84.48L325.3 82.19L326.6 84.48Z" fill="#ff1408"/>
<path d="M324 84.88L325.3 82.6L326.6 84.88Z" fill="#ff1408"/>
<path d="M321.8 86.48L323.1 84.2L324.4 86.48Z" fill="#ff1408"/>
<path d="M319.6 87.5L320.9 85.22L322.2 87.5Z" fill="#ff1408"/>
<path d="M321.8 92.34L323.1 90.05L324.4 92.34Z" fill="#ff1408"/>
<path d="M321.8 99.06L323.1 96.77L324.4 99.06Z" fill="#ff1408"/>
<path d="M320.57 147.1V74.57H325.62V147.1" fill="none" stroke="#ff1408" stroke-width="1.55" stroke-linejoin="miter"/>
<line x1="323.1" y1="73.79" x2="323.1" y2="62.32" stroke="#ff1408" stroke-width="0.8"/>
<line x1="321.7" y1="62.32" x2="324.5" y2="62.32" stroke="#ff1408" stroke-width="0.8"/>
<line x1="344.67" y1="147.1" x2="344.67" y2="151.3" stroke="#000" stroke-width="1.3"/>
<text x="344.67" y="160.8" font-size="8.3" font-weight="bold" text-anchor="middle" fill="#111" stroke="#111" stroke-width="0.15" stroke-linejoin="round">12</text>
<rect x="337.44" y="127.24" width="5.05" height="19.86" fill="#1205fd" fill-opacity="0.8"/>
<path d="M337.44 147.1V127.24H342.5V147.1" fill="none" stroke="#1205fd" stroke-width="1.55" stroke-linejoin="miter"/>
<circle cx="339.97" cy="73.79" r="1.15" fill="#1205fd"/>
<circle cx="339.97" cy="114.04" r="1.15" fill="#1205fd"/>
<circle cx="337.77" cy="115.32" r="1.15" fill="#1205fd"/>
<circle cx="339.97" cy="118.43" r="1.15" fill="#1205fd"/>
<circle cx="337.77" cy="118.77" r="1.15" fill="#1205fd"/>
<circle cx="342.17" cy="119.17" r="1.15" fill="#1205fd"/>
<circle cx="342.17" cy="119.64" r="1.15" fill="#1205fd"/>
<circle cx="339.97" cy="120.98" r="1.15" fill="#1205fd"/>
<circle cx="337.77" cy="121.16" r="1.15" fill="#1205fd"/>
<circle cx="342.17" cy="121.98" r="1.15" fill="#1205fd"/>
<circle cx="342.17" cy="121.98" r="1.15" fill="#1205fd"/>
<circle cx="342.17" cy="122.55" r="1.15" fill="#1205fd"/>
<circle cx="342.17" cy="122.73" r="1.15" fill="#1205fd"/>
<circle cx="339.97" cy="125.13" r="1.15" fill="#1205fd"/>
<circle cx="337.77" cy="126.62" r="1.15" fill="#1205fd"/>
<circle cx="339.97" cy="127.58" r="1.15" fill="#1205fd"/>
<circle cx="342.17" cy="128.69" r="1.15" fill="#1205fd"/>
<circle cx="339.97" cy="132.19" r="1.15" fill="#1205fd"/>
<circle cx="339.97" cy="134.59" r="1.15" fill="#1205fd"/>
<line x1="339.97" y1="126.46" x2="339.97" y2="117.07" stroke="#1205fd" stroke-width="0.8"/>
<line x1="338.57" y1="117.07" x2="341.37" y2="117.07" stroke="#1205fd" stroke-width="0.8"/>
<path d="M348.77 58.25L350.07 55.96L351.37 58.25Z" fill="#ff1408"/>
<path d="M348.77 61.38L350.07 59.09L351.37 61.38Z" fill="#ff1408"/>
<path d="M346.57 61.38L347.87 59.09L349.17 61.38Z" fill="#ff1408"/>
<path d="M350.97 63.01L352.27 60.72L353.57 63.01Z" fill="#ff1408"/>
<path d="M348.77 63.74L350.07 61.45L351.37 63.74Z" fill="#ff1408"/>
<path d="M346.57 64.74L347.87 62.45L349.17 64.74Z" fill="#ff1408"/>
<path d="M350.97 65.45L352.27 63.16L353.57 65.45Z" fill="#ff1408"/>
<path d="M350.97 65.59L352.27 63.3L353.57 65.59Z" fill="#ff1408"/>
<path d="M348.77 66.06L350.07 63.77L351.37 66.06Z" fill="#ff1408"/>
<path d="M346.57 67.68L347.87 65.39L349.17 67.68Z" fill="#ff1408"/>
<path d="M348.77 68.88L350.07 66.6L351.37 68.88Z" fill="#ff1408"/>
<path d="M346.57 70.03L347.87 67.74L349.17 70.03Z" fill="#ff1408"/>
<path d="M350.97 70.68L352.27 68.39L353.57 70.68Z" fill="#ff1408"/>
<path d="M348.77 71.12L350.07 68.83L351.37 71.12Z" fill="#ff1408"/>
<path d="M350.97 71.24L352.27 68.95L353.57 71.24Z" fill="#ff1408"/>
<path d="M346.57 72.7L347.87 70.41L349.17 72.7Z" fill="#ff1408"/>
<path d="M350.97 72.72L352.27 70.43L353.57 72.72Z" fill="#ff1408"/>
<path d="M348.77 73.57L350.07 71.29L351.37 73.57Z" fill="#ff1408"/>
<path d="M348.77 79.07L350.07 76.79L351.37 79.07Z" fill="#ff1408"/>
<path d="M347.54 147.1V70.91H352.59V147.1" fill="none" stroke="#ff1408" stroke-width="1.55" stroke-linejoin="miter"/>
<line x1="350.07" y1="70.14" x2="350.07" y2="61.8" stroke="#ff1408" stroke-width="0.8"/>
<line x1="348.67" y1="61.8" x2="351.47" y2="61.8" stroke="#ff1408" stroke-width="0.8"/>
<line x1="371.64" y1="147.1" x2="371.64" y2="151.3" stroke="#000" stroke-width="1.3"/>
<text x="371.64" y="160.8" font-size="8.3" font-weight="bold" text-anchor="middle" fill="#111" stroke="#111" stroke-width="0.15" stroke-linejoin="round">13</text>
<rect x="364.41" y="129.84" width="5.05" height="17.26" fill="#1205fd" fill-opacity="0.8"/>
<path d="M364.41 147.1V129.84H369.47V147.1" fill="none" stroke="#1205fd" stroke-width="1.55" stroke-linejoin="miter"/>
<circle cx="366.94" cy="76.92" r="1.15" fill="#1205fd"/>
<circle cx="366.94" cy="115.34" r="1.15" fill="#1205fd"/>
<circle cx="366.94" cy="123.92" r="1.15" fill="#1205fd"/>
<circle cx="364.74" cy="124.8" r="1.15" fill="#1205fd"/>
<circle cx="369.14" cy="124.82" r="1.15" fill="#1205fd"/>
<circle cx="369.14" cy="125.19" r="1.15" fill="#1205fd"/>
<circle cx="366.94" cy="127.52" r="1.15" fill="#1205fd"/>
<circle cx="364.74" cy="128.65" r="1.15" fill="#1205fd"/>
<circle cx="369.14" cy="129.03" r="1.15" fill="#1205fd"/>
<circle cx="369.14" cy="129.48" r="1.15" fill="#1205fd"/>
<circle cx="366.94" cy="130.81" r="1.15" fill="#1205fd"/>
<circle cx="364.74" cy="130.9" r="1.15" fill="#1205fd"/>
<circle cx="369.14" cy="132.34" r="1.15" fill="#1205fd"/>
<circle cx="366.94" cy="133.79" r="1.15" fill="#1205fd"/>
<circle cx="364.74" cy="134.2" r="1.15" fill="#1205fd"/>
<circle cx="366.94" cy="136.99" r="1.15" fill="#1205fd"/>
<circle cx="366.94" cy="139.71" r="1.15" fill="#1205fd"/>
<circle cx="364.74" cy="140.06" r="1.15" fill="#1205fd"/>
<circle cx="366.94" cy="144.15" r="1.15" fill="#1205fd"/>
<line x1="366.94" y1="129.07" x2="366.94" y2="119.68" stroke="#1205fd" stroke-width="0.8"/>
<line x1="365.54" y1="119.68" x2="368.34" y2="119.68" stroke="#1205fd" stroke-width="0.8"/>
<path d="M375.74 57.2L377.04 54.92L378.34 57.2Z" fill="#ff1408"/>
<path d="M375.74 62.42L377.04 60.13L378.34 62.42Z" fill="#ff1408"/>
<path d="M373.54 63.48L374.84 61.19L376.14 63.48Z" fill="#ff1408"/>
<path d="M377.94 64.51L379.24 62.22L380.54 64.51Z" fill="#ff1408"/>
<path d="M375.74 65.03L377.04 62.74L378.34 65.03Z" fill="#ff1408"/>
<path d="M377.94 65.49L379.24 63.2L380.54 65.49Z" fill="#ff1408"/>
<path d="M377.94 65.51L379.24 63.22L380.54 65.51Z" fill="#ff1408"/>
<path d="M375.74 68.05L377.04 65.76L378.34 68.05Z" fill="#ff1408"/>
<path d="M373.54 69.51L374.84 67.22L376.14 69.51Z" fill="#ff1408"/>
<path d="M377.94 70.07L379.24 67.78L380.54 70.07Z" fill="#ff1408"/>
<path d="M375.74 70.96L377.04 68.67L378.34 70.96Z" fill="#ff1408"/>
<path d="M375.74 73.92L377.04 71.63L378.34 73.92Z" fill="#ff1408"/>
<path d="M373.54 75.61L374.84 73.32L376.14 75.61Z" fill="#ff1408"/>
<path d="M375.74 76.83L377.04 74.54L378.34 76.83Z" fill="#ff1408"/>
<path d="M375.74 79.08L377.04 76.8L378.34 79.08Z" fill="#ff1408"/>
<path d="M375.74 81.48L377.04 79.19L378.34 81.48Z" fill="#ff1408"/>
<path d="M373.54 81.86L374.84 79.58L376.14 81.86Z" fill="#ff1408"/>
<path d="M377.94 81.9L379.24 79.62L380.54 81.9Z" fill="#ff1408"/>
<path d="M377.94 82.38L379.24 80.1L380.54 82.38Z" fill="#ff1408"/>
<path d="M374.51 147.1V69.35H379.56V147.1" fill="none" stroke="#ff1408" stroke-width="1.55" stroke-linejoin="miter"/>
<line x1="377.04" y1="68.58" x2="377.04" y2="60.23" stroke="#ff1408" stroke-width="0.8"/>
<line x1="375.64" y1="60.23" x2="378.44" y2="60.23" stroke="#ff1408" stroke-width="0.8"/>
<line x1="398.61" y1="147.1" x2="398.61" y2="151.3" stroke="#000" stroke-width="1.3"/>
<text x="398.61" y="160.8" font-size="8.3" font-weight="bold" text-anchor="middle" fill="#111" stroke="#111" stroke-width="0.15" stroke-linejoin="round">14</text>
<rect x="391.38" y="133.49" width="5.05" height="13.61" fill="#1205fd" fill-opacity="0.8"/>
<path d="M391.38 147.1V133.49H396.44V147.1" fill="none" stroke="#1205fd" stroke-width="1.55" stroke-linejoin="miter"/>
<circle cx="393.91" cy="82.13" r="1.15" fill="#1205fd"/>
<circle cx="393.91" cy="122.69" r="1.15" fill="#1205fd"/>
<circle cx="393.91" cy="124.95" r="1.15" fill="#1205fd"/>
<circle cx="393.91" cy="128.04" r="1.15" fill="#1205fd"/>
<circle cx="391.71" cy="129.45" r="1.15" fill="#1205fd"/>
<circle cx="393.91" cy="130.35" r="1.15" fill="#1205fd"/>
<circle cx="393.91" cy="132.68" r="1.15" fill="#1205fd"/>
<circle cx="391.71" cy="132.87" r="1.15" fill="#1205fd"/>
<circle cx="396.11" cy="133.14" r="1.15" fill="#1205fd"/>
<circle cx="396.11" cy="133.26" r="1.15" fill="#1205fd"/>
<circle cx="396.11" cy="134.05" r="1.15" fill="#1205fd"/>
<circle cx="393.91" cy="134.8" r="1.15" fill="#1205fd"/>
<circle cx="391.71" cy="136.09" r="1.15" fill="#1205fd"/>
<circle cx="393.91" cy="137.79" r="1.15" fill="#1205fd"/>
<circle cx="391.71" cy="139.8" r="1.15" fill="#1205fd"/>
<circle cx="393.91" cy="139.91" r="1.15" fill="#1205fd"/>
<circle cx="396.11" cy="140.98" r="1.15" fill="#1205fd"/>
<circle cx="396.11" cy="141.48" r="1.15" fill="#1205fd"/>
<circle cx="393.91" cy="143.31" r="1.15" fill="#1205fd"/>
<line x1="393.91" y1="132.72" x2="393.91" y2="124.38" stroke="#1205fd" stroke-width="0.8"/>
<line x1="392.51" y1="124.38" x2="395.31" y2="124.38" stroke="#1205fd" stroke-width="0.8"/>
<path d="M402.71 55.12L404.01 52.83L405.31 55.12Z" fill="#ff1408"/>
<path d="M402.71 64.05L404.01 61.76L405.31 64.05Z" fill="#ff1408"/>
<path d="M400.51 64.81L401.81 62.52L403.11 64.81Z" fill="#ff1408"/>
<path d="M404.91 66.11L406.21 63.82L407.51 66.11Z" fill="#ff1408"/>
<path d="M402.71 66.37L404.01 64.09L405.31 66.37Z" fill="#ff1408"/>
<path d="M400.51 66.92L401.81 64.64L403.11 66.92Z" fill="#ff1408"/>
<path d="M404.91 67.29L406.21 65.01L407.51 67.29Z" fill="#ff1408"/>
<path d="M404.91 67.44L406.21 65.15L407.51 67.44Z" fill="#ff1408"/>
<path d="M404.91 67.55L406.21 65.26L407.51 67.55Z" fill="#ff1408"/>
<path d="M404.91 67.83L406.21 65.55L407.51 67.83Z" fill="#ff1408"/>
<path d="M404.91 67.98L406.21 65.7L407.51 67.98Z" fill="#ff1408"/>
<path d="M404.91 68.37L406.21 66.08L407.51 68.37Z" fill="#ff1408"/>
<path d="M402.71 68.68L404.01 66.39L405.31 68.68Z" fill="#ff1408"/>
<path d="M400.51 70.48L401.81 68.19L403.11 70.48Z" fill="#ff1408"/>
<path d="M402.71 71.37L404.01 69.09L405.31 71.37Z" fill="#ff1408"/>
<path d="M404.91 72.02L406.21 69.74L407.51 72.02Z" fill="#ff1408"/>
<path d="M402.71 74.01L404.01 71.72L405.31 74.01Z" fill="#ff1408"/>
<path d="M400.51 74.64L401.81 72.35L403.11 74.64Z" fill="#ff1408"/>
<path d="M402.71 80.74L404.01 78.45L405.31 80.74Z" fill="#ff1408"/>
<path d="M401.48 147.1V66.74H406.54V147.1" fill="none" stroke="#ff1408" stroke-width="1.55" stroke-linejoin="miter"/>
<line x1="404.01" y1="65.97" x2="404.01" y2="59.71" stroke="#ff1408" stroke-width="0.8"/>
<line x1="402.61" y1="59.71" x2="405.41" y2="59.71" stroke="#ff1408" stroke-width="0.8"/>
<line x1="31.4" y1="147.1" x2="411.6" y2="147.1" stroke="#000" stroke-width="1.4"/>
<text x="414.3" y="160.6" font-size="9.6" font-weight="bold" text-anchor="start" fill="#111" stroke="#111" stroke-width="0.15" stroke-linejoin="round">days</text>
<circle cx="346.3" cy="24" r="1.3" fill="#1205fd"/>
<text x="359.8" y="27.3" font-size="9.4" font-weight="normal" text-anchor="start" fill="#333" textLength="41.2" lengthAdjust="spacingAndGlyphs">Saline-SA</text>
<path d="M344.9 39.03L346.3 36.57L347.7 39.03Z" fill="#ff1408"/>
<text x="359.8" y="40.8" font-size="9.4" font-weight="normal" text-anchor="start" fill="#333" textLength="50.6" lengthAdjust="spacingAndGlyphs">Propofol-SA</text>
<text x="451.6" y="14.4" font-size="16" font-weight="normal" text-anchor="start" fill="#111" stroke="#111" stroke-width="0.4" stroke-linejoin="round">B</text>
<line x1="484.2" y1="31.3" x2="484.2" y2="150.1" stroke="#000" stroke-width="1.4"/>
<line x1="479.6" y1="149.5" x2="484.2" y2="149.5" stroke="#000" stroke-width="1.3"/>
<text x="477.6" y="152.3" font-size="8" font-weight="bold" text-anchor="end" fill="#111" stroke="#111" stroke-width="0.15" stroke-linejoin="round">0</text>
<line x1="479.6" y1="125.96" x2="484.2" y2="125.96" stroke="#000" stroke-width="1.3"/>
<text x="477.6" y="128.76" font-size="8" font-weight="bold" text-anchor="end" fill="#111" stroke="#111" stroke-width="0.15" stroke-linejoin="round">20</text>
<line x1="479.6" y1="102.42" x2="484.2" y2="102.42" stroke="#000" stroke-width="1.3"/>
<text x="477.6" y="105.22" font-size="8" font-weight="bold" text-anchor="end" fill="#111" stroke="#111" stroke-width="0.15" stroke-linejoin="round">40</text>
<line x1="479.6" y1="78.88" x2="484.2" y2="78.88" stroke="#000" stroke-width="1.3"/>
<text x="477.6" y="81.68" font-size="8" font-weight="bold" text-anchor="end" fill="#111" stroke="#111" stroke-width="0.15" stroke-linejoin="round">60</text>
<line x1="479.6" y1="55.34" x2="484.2" y2="55.34" stroke="#000" stroke-width="1.3"/>
<text x="477.6" y="58.14" font-size="8" font-weight="bold" text-anchor="end" fill="#111" stroke="#111" stroke-width="0.15" stroke-linejoin="round">80</text>
<line x1="479.6" y1="31.8" x2="484.2" y2="31.8" stroke="#000" stroke-width="1.3"/>
<text x="477.6" y="34.6" font-size="8" font-weight="bold" text-anchor="end" fill="#111" stroke="#111" stroke-width="0.15" stroke-linejoin="round">100</text>
<text x="456.2" y="90.4" font-size="9.3" font-weight="bold" text-anchor="middle" fill="#111" transform="rotate(-90 456.2 90.4)" textLength="84.5" lengthAdjust="spacingAndGlyphs" stroke="#111" stroke-width="0.2" stroke-linejoin="round">Propofol infusions</text>
<line x1="492.5" y1="149.4" x2="492.5" y2="154.6" stroke="#000" stroke-width="1.3"/>
<text x="495.9" y="161.8" font-size="8.8" font-weight="bold" text-anchor="end" fill="#111" transform="rotate(-45 495.9 161.8)" stroke="#111" stroke-width="0.15" stroke-linejoin="round">1</text>
<circle cx="492.5" cy="118.54" r="1.85" fill="#000"/>
<circle cx="492.5" cy="122.43" r="1.85" fill="#000"/>
<circle cx="492.5" cy="125.96" r="1.85" fill="#000"/>
<circle cx="492.5" cy="129.49" r="1.85" fill="#000"/>
<circle cx="489.2" cy="130.67" r="1.85" fill="#000"/>
<circle cx="495.8" cy="131.84" r="1.85" fill="#000"/>
<circle cx="492.5" cy="132.43" r="1.85" fill="#000"/>
<circle cx="495.8" cy="133.02" r="1.85" fill="#000"/>
<circle cx="489.2" cy="133.61" r="1.85" fill="#000"/>
<circle cx="495.8" cy="134.2" r="1.85" fill="#000"/>
<circle cx="495.8" cy="134.79" r="1.85" fill="#000"/>
<circle cx="492.5" cy="135.38" r="1.85" fill="#000"/>
<circle cx="495.8" cy="135.96" r="1.85" fill="#000"/>
<circle cx="489.2" cy="136.55" r="1.85" fill="#000"/>
<circle cx="495.8" cy="137.73" r="1.85" fill="#000"/>
<circle cx="492.5" cy="138.91" r="1.85" fill="#000"/>
<circle cx="489.2" cy="140.08" r="1.85" fill="#000"/>
<circle cx="495.8" cy="141.26" r="1.85" fill="#000"/>
<circle cx="492.5" cy="142.44" r="1.85" fill="#000"/>
<path d="M489.7 149.4V132.86H495.3V149.4" fill="none" stroke="#000" stroke-width="1.8" stroke-linejoin="miter"/>
<line x1="492.5" y1="136.67" x2="492.5" y2="127.25" stroke="#000" stroke-width="0.8"/>
<line x1="490.9" y1="127.25" x2="494.1" y2="127.25" stroke="#000" stroke-width="0.8"/>
<line x1="490.9" y1="136.67" x2="494.1" y2="136.67" stroke="#000" stroke-width="0.8"/>
<line x1="504.82" y1="149.4" x2="504.82" y2="154.6" stroke="#000" stroke-width="1.3"/>
<text x="508.22" y="161.8" font-size="8.8" font-weight="bold" text-anchor="end" fill="#111" transform="rotate(-45 508.22 161.8)" stroke="#111" stroke-width="0.15" stroke-linejoin="round">2</text>
<circle cx="504.82" cy="111.84" r="1.85" fill="#000"/>
<circle cx="501.52" cy="112.42" r="1.85" fill="#000"/>
<circle cx="508.12" cy="113.01" r="1.85" fill="#000"/>
<circle cx="504.82" cy="117.01" r="1.85" fill="#000"/>
<circle cx="501.52" cy="119.6" r="1.85" fill="#000"/>
<circle cx="504.82" cy="122.43" r="1.85" fill="#000"/>
<circle cx="501.52" cy="123.61" r="1.85" fill="#000"/>
<circle cx="508.12" cy="124.78" r="1.85" fill="#000"/>
<circle cx="504.82" cy="125.96" r="1.85" fill="#000"/>
<circle cx="501.52" cy="127.14" r="1.85" fill="#000"/>
<circle cx="508.12" cy="128.31" r="1.85" fill="#000"/>
<circle cx="504.82" cy="129.49" r="1.85" fill="#000"/>
<circle cx="501.52" cy="130.67" r="1.85" fill="#000"/>
<circle cx="504.82" cy="134.2" r="1.85" fill="#000"/>
<circle cx="504.82" cy="137.97" r="1.85" fill="#000"/>
<circle cx="504.82" cy="141.97" r="1.85" fill="#000"/>
<path d="M502.02 149.4V124.15H507.62V149.4" fill="none" stroke="#000" stroke-width="1.8" stroke-linejoin="miter"/>
<line x1="504.82" y1="130.31" x2="504.82" y2="116.19" stroke="#000" stroke-width="0.8"/>
<line x1="503.22" y1="116.19" x2="506.42" y2="116.19" stroke="#000" stroke-width="0.8"/>
<line x1="503.22" y1="130.31" x2="506.42" y2="130.31" stroke="#000" stroke-width="0.8"/>
<line x1="517.14" y1="149.4" x2="517.14" y2="154.6" stroke="#000" stroke-width="1.3"/>
<text x="520.54" y="161.8" font-size="8.8" font-weight="bold" text-anchor="end" fill="#111" transform="rotate(-45 520.54 161.8)" stroke="#111" stroke-width="0.15" stroke-linejoin="round">3</text>
<circle cx="517.14" cy="94.18" r="1.85" fill="#000"/>
<circle cx="513.84" cy="96.53" r="1.85" fill="#000"/>
<circle cx="520.44" cy="96.53" r="1.85" fill="#000"/>
<circle cx="517.14" cy="101.24" r="1.85" fill="#000"/>
<circle cx="513.84" cy="101.24" r="1.85" fill="#000"/>
<circle cx="520.44" cy="103.83" r="1.85" fill="#000"/>
<circle cx="517.14" cy="109.48" r="1.85" fill="#000"/>
<circle cx="517.14" cy="115.72" r="1.85" fill="#000"/>
<circle cx="517.14" cy="119.6" r="1.85" fill="#000"/>
<circle cx="517.14" cy="123.61" r="1.85" fill="#000"/>
<circle cx="517.14" cy="127.14" r="1.85" fill="#000"/>
<circle cx="517.14" cy="130.08" r="1.85" fill="#000"/>
<circle cx="517.14" cy="137.26" r="1.85" fill="#000"/>
<circle cx="513.84" cy="137.26" r="1.85" fill="#000"/>
<path d="M514.34 149.4V112.74H519.94V149.4" fill="none" stroke="#000" stroke-width="1.8" stroke-linejoin="miter"/>
<line x1="517.14" y1="123.61" x2="517.14" y2="100.07" stroke="#000" stroke-width="0.8"/>
<line x1="515.54" y1="100.07" x2="518.74" y2="100.07" stroke="#000" stroke-width="0.8"/>
<line x1="515.54" y1="123.61" x2="518.74" y2="123.61" stroke="#000" stroke-width="0.8"/>
<line x1="529.46" y1="149.4" x2="529.46" y2="154.6" stroke="#000" stroke-width="1.3"/>
<text x="532.86" y="161.8" font-size="8.8" font-weight="bold" text-anchor="end" fill="#111" transform="rotate(-45 532.86 161.8)" stroke="#111" stroke-width="0.15" stroke-linejoin="round">4</text>
<circle cx="529.46" cy="82.41" r="1.85" fill="#000"/>
<circle cx="529.46" cy="86.77" r="1.85" fill="#000"/>
<circle cx="526.16" cy="86.77" r="1.85" fill="#000"/>
<circle cx="529.46" cy="90.65" r="1.85" fill="#000"/>
<circle cx="529.46" cy="96.53" r="1.85" fill="#000"/>
<circle cx="529.46" cy="100.07" r="1.85" fill="#000"/>
<circle cx="526.16" cy="100.07" r="1.85" fill="#000"/>
<circle cx="532.76" cy="102.42" r="1.85" fill="#000"/>
<circle cx="529.46" cy="104.77" r="1.85" fill="#000"/>
<circle cx="526.16" cy="105.95" r="1.85" fill="#000"/>
<circle cx="532.76" cy="107.13" r="1.85" fill="#000"/>
<circle cx="529.46" cy="109.48" r="1.85" fill="#000"/>
<circle cx="529.46" cy="114.19" r="1.85" fill="#000"/>
<circle cx="529.46" cy="121.61" r="1.85" fill="#000"/>
<circle cx="529.46" cy="126.78" r="1.85" fill="#000"/>
<path d="M526.66 149.4V103.56H532.26V149.4" fill="none" stroke="#000" stroke-width="1.8" stroke-linejoin="miter"/>
<line x1="529.46" y1="113.25" x2="529.46" y2="92.06" stroke="#000" stroke-width="0.8"/>
<line x1="527.86" y1="92.06" x2="531.06" y2="92.06" stroke="#000" stroke-width="0.8"/>
<line x1="527.86" y1="113.25" x2="531.06" y2="113.25" stroke="#000" stroke-width="0.8"/>
<line x1="541.78" y1="149.4" x2="541.78" y2="154.6" stroke="#000" stroke-width="1.3"/>
<text x="545.18" y="161.8" font-size="8.8" font-weight="bold" text-anchor="end" fill="#111" transform="rotate(-45 545.18 161.8)" stroke="#111" stroke-width="0.15" stroke-linejoin="round">5</text>
<circle cx="541.78" cy="70.64" r="1.85" fill="#000"/>
<circle cx="541.78" cy="77.7" r="1.85" fill="#000"/>
<circle cx="538.48" cy="77.7" r="1.85" fill="#000"/>
<circle cx="541.78" cy="81.23" r="1.85" fill="#000"/>
<circle cx="538.48" cy="81.23" r="1.85" fill="#000"/>
<circle cx="541.78" cy="84.77" r="1.85" fill="#000"/>
<circle cx="541.78" cy="88.3" r="1.85" fill="#000"/>
<circle cx="541.78" cy="92.06" r="1.85" fill="#000"/>
<circle cx="541.78" cy="114.19" r="1.85" fill="#000"/>
<circle cx="541.78" cy="117.01" r="1.85" fill="#000"/>
<circle cx="541.78" cy="126.2" r="1.85" fill="#000"/>
<circle cx="541.78" cy="137.26" r="1.85" fill="#000"/>
<path d="M538.98 149.4V96.73H544.58V149.4" fill="none" stroke="#000" stroke-width="1.8" stroke-linejoin="miter"/>
<line x1="541.78" y1="112.31" x2="541.78" y2="79.35" stroke="#000" stroke-width="0.8"/>
<line x1="540.18" y1="79.35" x2="543.38" y2="79.35" stroke="#000" stroke-width="0.8"/>
<line x1="540.18" y1="112.31" x2="543.38" y2="112.31" stroke="#000" stroke-width="0.8"/>
<line x1="554.1" y1="149.4" x2="554.1" y2="154.6" stroke="#000" stroke-width="1.3"/>
<text x="557.5" y="161.8" font-size="8.8" font-weight="bold" text-anchor="end" fill="#111" transform="rotate(-45 557.5 161.8)" stroke="#111" stroke-width="0.15" stroke-linejoin="round">6</text>
<circle cx="554.1" cy="63.58" r="1.85" fill="#000"/>
<circle cx="554.1" cy="68.29" r="1.85" fill="#000"/>
<circle cx="550.8" cy="68.29" r="1.85" fill="#000"/>
<circle cx="554.1" cy="71.82" r="1.85" fill="#000"/>
<circle cx="554.1" cy="75.58" r="1.85" fill="#000"/>
<circle cx="550.8" cy="75.58" r="1.85" fill="#000"/>
<circle cx="554.1" cy="78.88" r="1.85" fill="#000"/>
<circle cx="554.1" cy="82.76" r="1.85" fill="#000"/>
<circle cx="550.8" cy="85.35" r="1.85" fill="#000"/>
<circle cx="554.1" cy="102.42" r="1.85" fill="#000"/>
<circle cx="550.8" cy="102.42" r="1.85" fill="#000"/>
<circle cx="554.1" cy="117.01" r="1.85" fill="#000"/>
<path d="M551.3 149.4V86.96H556.9V149.4" fill="none" stroke="#000" stroke-width="1.8" stroke-linejoin="miter"/>
<line x1="554.1" y1="100.18" x2="554.1" y2="71.94" stroke="#000" stroke-width="0.8"/>
<line x1="552.5" y1="71.94" x2="555.7" y2="71.94" stroke="#000" stroke-width="0.8"/>
<line x1="552.5" y1="100.18" x2="555.7" y2="100.18" stroke="#000" stroke-width="0.8"/>
<line x1="566.42" y1="149.4" x2="566.42" y2="154.6" stroke="#000" stroke-width="1.3"/>
<text x="569.82" y="161.8" font-size="8.8" font-weight="bold" text-anchor="end" fill="#111" transform="rotate(-45 569.82 161.8)" stroke="#111" stroke-width="0.15" stroke-linejoin="round">7</text>
<circle cx="566.42" cy="61.22" r="1.85" fill="#000"/>
<circle cx="566.42" cy="66.4" r="1.85" fill="#000"/>
<circle cx="563.12" cy="66.4" r="1.85" fill="#000"/>
<circle cx="566.42" cy="69.7" r="1.85" fill="#000"/>
<circle cx="566.42" cy="72.52" r="1.85" fill="#000"/>
<circle cx="563.12" cy="72.52" r="1.85" fill="#000"/>
<circle cx="569.72" cy="75" r="1.85" fill="#000"/>
<circle cx="566.42" cy="96.53" r="1.85" fill="#000"/>
<circle cx="566.42" cy="101.24" r="1.85" fill="#000"/>
<circle cx="566.42" cy="105.95" r="1.85" fill="#000"/>
<circle cx="566.42" cy="113.01" r="1.85" fill="#000"/>
<circle cx="566.42" cy="121.61" r="1.85" fill="#000"/>
<path d="M563.62 149.4V85.67H569.22V149.4" fill="none" stroke="#000" stroke-width="1.8" stroke-linejoin="miter"/>
<line x1="566.42" y1="101.24" x2="566.42" y2="68.29" stroke="#000" stroke-width="0.8"/>
<line x1="564.82" y1="68.29" x2="568.02" y2="68.29" stroke="#000" stroke-width="0.8"/>
<line x1="564.82" y1="101.24" x2="568.02" y2="101.24" stroke="#000" stroke-width="0.8"/>
<line x1="578.74" y1="149.4" x2="578.74" y2="154.6" stroke="#000" stroke-width="1.3"/>
<text x="582.14" y="161.8" font-size="8.8" font-weight="bold" text-anchor="end" fill="#111" transform="rotate(-45 582.14 161.8)" stroke="#111" stroke-width="0.15" stroke-linejoin="round">8</text>
<circle cx="578.74" cy="60.05" r="1.85" fill="#000"/>
<circle cx="578.74" cy="63.11" r="1.85" fill="#000"/>
<circle cx="578.74" cy="67.93" r="1.85" fill="#000"/>
<circle cx="575.44" cy="67.93" r="1.85" fill="#000"/>
<circle cx="582.04" cy="70.29" r="1.85" fill="#000"/>
<circle cx="578.74" cy="72.99" r="1.85" fill="#000"/>
<circle cx="578.74" cy="76.53" r="1.85" fill="#000"/>
<circle cx="575.44" cy="78.88" r="1.85" fill="#000"/>
<circle cx="578.74" cy="81.47" r="1.85" fill="#000"/>
<circle cx="578.74" cy="84.77" r="1.85" fill="#000"/>
<circle cx="578.74" cy="98.89" r="1.85" fill="#000"/>
<circle cx="575.44" cy="98.89" r="1.85" fill="#000"/>
<path d="M575.94 149.4V76.96H581.54V149.4" fill="none" stroke="#000" stroke-width="1.8" stroke-linejoin="miter"/>
<line x1="578.74" y1="86.65" x2="578.74" y2="65.46" stroke="#000" stroke-width="0.8"/>
<line x1="577.14" y1="65.46" x2="580.34" y2="65.46" stroke="#000" stroke-width="0.8"/>
<line x1="577.14" y1="86.65" x2="580.34" y2="86.65" stroke="#000" stroke-width="0.8"/>
<line x1="591.06" y1="149.4" x2="591.06" y2="154.6" stroke="#000" stroke-width="1.3"/>
<text x="594.46" y="161.8" font-size="8.8" font-weight="bold" text-anchor="end" fill="#111" transform="rotate(-45 594.46 161.8)" stroke="#111" stroke-width="0.15" stroke-linejoin="round">9</text>
<circle cx="591.06" cy="57.22" r="1.85" fill="#000"/>
<circle cx="591.06" cy="64.99" r="1.85" fill="#000"/>
<circle cx="587.76" cy="67.7" r="1.85" fill="#000"/>
<circle cx="591.06" cy="70.29" r="1.85" fill="#000"/>
<circle cx="591.06" cy="73.58" r="1.85" fill="#000"/>
<circle cx="587.76" cy="75.58" r="1.85" fill="#000"/>
<circle cx="591.06" cy="78.88" r="1.85" fill="#000"/>
<circle cx="587.76" cy="81.47" r="1.85" fill="#000"/>
<circle cx="591.06" cy="85.35" r="1.85" fill="#000"/>
<circle cx="591.06" cy="96.53" r="1.85" fill="#000"/>
<circle cx="591.06" cy="100.07" r="1.85" fill="#000"/>
<circle cx="591.06" cy="116.54" r="1.85" fill="#000"/>
<path d="M588.26 149.4V80.72H593.86V149.4" fill="none" stroke="#000" stroke-width="1.8" stroke-linejoin="miter"/>
<line x1="591.06" y1="92.77" x2="591.06" y2="66.87" stroke="#000" stroke-width="0.8"/>
<line x1="589.46" y1="66.87" x2="592.66" y2="66.87" stroke="#000" stroke-width="0.8"/>
<line x1="589.46" y1="92.77" x2="592.66" y2="92.77" stroke="#000" stroke-width="0.8"/>
<line x1="603.38" y1="149.4" x2="603.38" y2="154.6" stroke="#000" stroke-width="1.3"/>
<text x="606.78" y="161.8" font-size="8.8" font-weight="bold" text-anchor="end" fill="#111" transform="rotate(-45 606.78 161.8)" stroke="#111" stroke-width="0.15" stroke-linejoin="round">10</text>
<circle cx="603.38" cy="48.28" r="1.85" fill="#000"/>
<circle cx="603.38" cy="55.34" r="1.85" fill="#000"/>
<circle cx="603.38" cy="60.52" r="1.85" fill="#000"/>
<circle cx="600.08" cy="60.52" r="1.85" fill="#000"/>
<circle cx="603.38" cy="63.81" r="1.85" fill="#000"/>
<circle cx="600.08" cy="63.81" r="1.85" fill="#000"/>
<circle cx="603.38" cy="67.11" r="1.85" fill="#000"/>
<circle cx="603.38" cy="70.29" r="1.85" fill="#000"/>
<circle cx="603.38" cy="73.58" r="1.85" fill="#000"/>
<circle cx="603.38" cy="78.17" r="1.85" fill="#000"/>
<circle cx="603.38" cy="92.06" r="1.85" fill="#000"/>
<circle cx="603.38" cy="95.36" r="1.85" fill="#000"/>
<path d="M600.58 149.4V71.89H606.18V149.4" fill="none" stroke="#000" stroke-width="1.8" stroke-linejoin="miter"/>
<line x1="603.38" y1="82.76" x2="603.38" y2="59.22" stroke="#000" stroke-width="0.8"/>
<line x1="601.78" y1="59.22" x2="604.98" y2="59.22" stroke="#000" stroke-width="0.8"/>
<line x1="601.78" y1="82.76" x2="604.98" y2="82.76" stroke="#000" stroke-width="0.8"/>
<line x1="615.7" y1="149.4" x2="615.7" y2="154.6" stroke="#000" stroke-width="1.3"/>
<text x="619.1" y="161.8" font-size="8.8" font-weight="bold" text-anchor="end" fill="#111" transform="rotate(-45 619.1 161.8)" stroke="#111" stroke-width="0.15" stroke-linejoin="round">11</text>
<circle cx="615.7" cy="60.17" r="1.85" fill="#000"/>
<circle cx="615.7" cy="63.81" r="1.85" fill="#000"/>
<circle cx="615.7" cy="67.11" r="1.85" fill="#000"/>
<circle cx="612.4" cy="69.46" r="1.85" fill="#000"/>
<circle cx="615.7" cy="70.64" r="1.85" fill="#000"/>
<circle cx="619" cy="71.82" r="1.85" fill="#000"/>
<circle cx="612.4" cy="72.99" r="1.85" fill="#000"/>
<circle cx="615.7" cy="74.17" r="1.85" fill="#000"/>
<circle cx="619" cy="75.35" r="1.85" fill="#000"/>
<circle cx="612.4" cy="76.53" r="1.85" fill="#000"/>
<circle cx="615.7" cy="77.7" r="1.85" fill="#000"/>
<circle cx="615.7" cy="89.47" r="1.85" fill="#000"/>
<path d="M612.9 149.4V72.13H618.5V149.4" fill="none" stroke="#000" stroke-width="1.8" stroke-linejoin="miter"/>
<line x1="615.7" y1="78.29" x2="615.7" y2="64.17" stroke="#000" stroke-width="0.8"/>
<line x1="614.1" y1="64.17" x2="617.3" y2="64.17" stroke="#000" stroke-width="0.8"/>
<line x1="614.1" y1="78.29" x2="617.3" y2="78.29" stroke="#000" stroke-width="0.8"/>
<line x1="628.02" y1="149.4" x2="628.02" y2="154.6" stroke="#000" stroke-width="1.3"/>
<text x="631.42" y="161.8" font-size="8.8" font-weight="bold" text-anchor="end" fill="#111" transform="rotate(-45 631.42 161.8)" stroke="#111" stroke-width="0.15" stroke-linejoin="round">12</text>
<circle cx="628.02" cy="46.75" r="1.85" fill="#000"/>
<circle cx="628.02" cy="50.04" r="1.85" fill="#000"/>
<circle cx="624.72" cy="52.63" r="1.85" fill="#000"/>
<circle cx="628.02" cy="59.22" r="1.85" fill="#000"/>
<circle cx="628.02" cy="62.4" r="1.85" fill="#000"/>
<circle cx="628.02" cy="65.93" r="1.85" fill="#000"/>
<circle cx="624.72" cy="67.11" r="1.85" fill="#000"/>
<circle cx="631.32" cy="68.29" r="1.85" fill="#000"/>
<circle cx="628.02" cy="69.46" r="1.85" fill="#000"/>
<circle cx="624.72" cy="70.64" r="1.85" fill="#000"/>
<circle cx="631.32" cy="71.82" r="1.85" fill="#000"/>
<circle cx="628.02" cy="74.64" r="1.85" fill="#000"/>
<circle cx="624.72" cy="76.53" r="1.85" fill="#000"/>
<circle cx="628.02" cy="78.88" r="1.85" fill="#000"/>
<circle cx="624.72" cy="81.23" r="1.85" fill="#000"/>
<circle cx="628.02" cy="82.76" r="1.85" fill="#000"/>
<circle cx="628.02" cy="92.06" r="1.85" fill="#000"/>
<path d="M625.22 149.4V70.36H630.82V149.4" fill="none" stroke="#000" stroke-width="1.8" stroke-linejoin="miter"/>
<line x1="628.02" y1="80.06" x2="628.02" y2="58.87" stroke="#000" stroke-width="0.8"/>
<line x1="626.42" y1="58.87" x2="629.62" y2="58.87" stroke="#000" stroke-width="0.8"/>
<line x1="626.42" y1="80.06" x2="629.62" y2="80.06" stroke="#000" stroke-width="0.8"/>
<line x1="640.34" y1="149.4" x2="640.34" y2="154.6" stroke="#000" stroke-width="1.3"/>
<text x="643.74" y="161.8" font-size="8.8" font-weight="bold" text-anchor="end" fill="#111" transform="rotate(-45 643.74 161.8)" stroke="#111" stroke-width="0.15" stroke-linejoin="round">13</text>
<circle cx="640.34" cy="58.87" r="1.85" fill="#000"/>
<circle cx="640.34" cy="63.58" r="1.85" fill="#000"/>
<circle cx="637.04" cy="63.58" r="1.85" fill="#000"/>
<circle cx="643.64" cy="63.58" r="1.85" fill="#000"/>
<circle cx="640.34" cy="67.11" r="1.85" fill="#000"/>
<circle cx="637.04" cy="68.29" r="1.85" fill="#000"/>
<circle cx="643.64" cy="69.46" r="1.85" fill="#000"/>
<circle cx="640.34" cy="70.64" r="1.85" fill="#000"/>
<circle cx="637.04" cy="72.99" r="1.85" fill="#000"/>
<circle cx="640.34" cy="74.76" r="1.85" fill="#000"/>
<circle cx="637.04" cy="76.53" r="1.85" fill="#000"/>
<circle cx="640.34" cy="78.88" r="1.85" fill="#000"/>
<circle cx="637.04" cy="81.23" r="1.85" fill="#000"/>
<circle cx="640.34" cy="82.76" r="1.85" fill="#000"/>
<path d="M637.54 149.4V70.36H643.14V149.4" fill="none" stroke="#000" stroke-width="1.8" stroke-linejoin="miter"/>
<line x1="640.34" y1="76.53" x2="640.34" y2="62.4" stroke="#000" stroke-width="0.8"/>
<line x1="638.74" y1="62.4" x2="641.94" y2="62.4" stroke="#000" stroke-width="0.8"/>
<line x1="638.74" y1="76.53" x2="641.94" y2="76.53" stroke="#000" stroke-width="0.8"/>
<line x1="652.66" y1="149.4" x2="652.66" y2="154.6" stroke="#000" stroke-width="1.3"/>
<text x="656.06" y="161.8" font-size="8.8" font-weight="bold" text-anchor="end" fill="#111" transform="rotate(-45 656.06 161.8)" stroke="#111" stroke-width="0.15" stroke-linejoin="round">14</text>
<circle cx="652.66" cy="57.22" r="1.85" fill="#000"/>
<circle cx="649.36" cy="58.87" r="1.85" fill="#000"/>
<circle cx="652.66" cy="60.05" r="1.85" fill="#000"/>
<circle cx="655.96" cy="61.22" r="1.85" fill="#000"/>
<circle cx="649.36" cy="62.4" r="1.85" fill="#000"/>
<circle cx="652.66" cy="64.05" r="1.85" fill="#000"/>
<circle cx="649.36" cy="65.93" r="1.85" fill="#000"/>
<circle cx="652.66" cy="67.11" r="1.85" fill="#000"/>
<circle cx="655.96" cy="68.29" r="1.85" fill="#000"/>
<circle cx="649.36" cy="69.46" r="1.85" fill="#000"/>
<circle cx="652.66" cy="70.64" r="1.85" fill="#000"/>
<circle cx="655.96" cy="71.82" r="1.85" fill="#000"/>
<circle cx="649.36" cy="72.99" r="1.85" fill="#000"/>
<circle cx="652.66" cy="74.17" r="1.85" fill="#000"/>
<circle cx="655.96" cy="75.35" r="1.85" fill="#000"/>
<circle cx="649.36" cy="76.53" r="1.85" fill="#000"/>
<circle cx="652.66" cy="77.7" r="1.85" fill="#000"/>
<path d="M649.86 149.4V67.42H655.46V149.4" fill="none" stroke="#000" stroke-width="1.8" stroke-linejoin="miter"/>
<line x1="652.66" y1="72.41" x2="652.66" y2="60.64" stroke="#000" stroke-width="0.8"/>
<line x1="651.06" y1="60.64" x2="654.26" y2="60.64" stroke="#000" stroke-width="0.8"/>
<line x1="651.06" y1="72.41" x2="654.26" y2="72.41" stroke="#000" stroke-width="0.8"/>
<line x1="481" y1="149.4" x2="661.3" y2="149.4" stroke="#000" stroke-width="1.4"/>
<text x="662" y="163.2" font-size="9.6" font-weight="bold" text-anchor="start" fill="#111" stroke="#111" stroke-width="0.15" stroke-linejoin="round">days</text>
<text x="5.4" y="230.7" font-size="17.4" font-weight="normal" text-anchor="start" fill="#111" stroke="#111" stroke-width="0.45" stroke-linejoin="round">C</text>
<line x1="53.3" y1="232.7" x2="53.3" y2="365.6" stroke="#000" stroke-width="1.5"/>
<line x1="48.2" y1="364.8" x2="53.3" y2="364.8" stroke="#000" stroke-width="1.4"/>
<text x="46" y="368.3" font-size="10" font-weight="bold" text-anchor="end" fill="#111" stroke="#111" stroke-width="0.2" stroke-linejoin="round">20</text>
<line x1="48.2" y1="331.95" x2="53.3" y2="331.95" stroke="#000" stroke-width="1.4"/>
<text x="46" y="335.45" font-size="10" font-weight="bold" text-anchor="end" fill="#111" stroke="#111" stroke-width="0.2" stroke-linejoin="round">40</text>
<line x1="48.2" y1="299.1" x2="53.3" y2="299.1" stroke="#000" stroke-width="1.4"/>
<text x="46" y="302.6" font-size="10" font-weight="bold" text-anchor="end" fill="#111" stroke="#111" stroke-width="0.2" stroke-linejoin="round">60</text>
<line x1="48.2" y1="266.25" x2="53.3" y2="266.25" stroke="#000" stroke-width="1.4"/>
<text x="46" y="269.75" font-size="10" font-weight="bold" text-anchor="end" fill="#111" stroke="#111" stroke-width="0.2" stroke-linejoin="round">80</text>
<line x1="48.2" y1="233.4" x2="53.3" y2="233.4" stroke="#000" stroke-width="1.4"/>
<text x="46" y="236.9" font-size="10" font-weight="bold" text-anchor="end" fill="#111" stroke="#111" stroke-width="0.2" stroke-linejoin="round">100</text>
<text x="23" y="299.4" font-size="12" font-weight="bold" text-anchor="middle" fill="#111" transform="rotate(-90 23 299.4)" textLength="79.5" lengthAdjust="spacingAndGlyphs" stroke="#111" stroke-width="0.2" stroke-linejoin="round">Latency (sec)</text>
<line x1="70.9" y1="364.9" x2="70.9" y2="370.5" stroke="#000" stroke-width="1.4"/>
<text x="70.9" y="381.4" font-size="10.3" font-weight="bold" text-anchor="middle" fill="#111" stroke="#111" stroke-width="0.25" stroke-linejoin="round">T1</text>
<circle cx="63.3" cy="249.83" r="2" fill="#1205fd"/>
<circle cx="59.9" cy="249.83" r="2" fill="#1205fd"/>
<circle cx="66.7" cy="249.83" r="2" fill="#1205fd"/>
<circle cx="66.7" cy="249.83" r="2" fill="#1205fd"/>
<circle cx="66.7" cy="249.83" r="2" fill="#1205fd"/>
<circle cx="66.7" cy="249.83" r="2" fill="#1205fd"/>
<circle cx="66.7" cy="249.83" r="2" fill="#1205fd"/>
<circle cx="66.7" cy="249.83" r="2" fill="#1205fd"/>
<circle cx="66.7" cy="251.47" r="2" fill="#1205fd"/>
<circle cx="63.3" cy="253.11" r="2" fill="#1205fd"/>
<circle cx="59.9" cy="254.75" r="2" fill="#1205fd"/>
<circle cx="63.3" cy="256.39" r="2" fill="#1205fd"/>
<circle cx="59.9" cy="258.04" r="2" fill="#1205fd"/>
<circle cx="63.3" cy="261.32" r="2" fill="#1205fd"/>
<circle cx="59.9" cy="262.97" r="2" fill="#1205fd"/>
<circle cx="63.3" cy="266.25" r="2" fill="#1205fd"/>
<circle cx="63.3" cy="272.82" r="2" fill="#1205fd"/>
<circle cx="63.3" cy="279.39" r="2" fill="#1205fd"/>
<path d="M59.35 364.9V256.52H67.25V364.9" fill="none" stroke="#1205fd" stroke-width="1.9" stroke-linejoin="miter"/>
<line x1="63.3" y1="255.57" x2="63.3" y2="246.54" stroke="#1205fd" stroke-width="1"/>
<line x1="60.7" y1="246.54" x2="65.9" y2="246.54" stroke="#1205fd" stroke-width="1"/>
<line x1="63.3" y1="255.57" x2="63.3" y2="264.61" stroke="#1205fd" stroke-width="1" opacity="0.6"/>
<line x1="60.7" y1="264.61" x2="65.9" y2="264.61" stroke="#1205fd" stroke-width="1" opacity="0.6"/>
<path d="M76.3 251.76L78.5 247.89L80.7 251.76Z" fill="#ff1408"/>
<path d="M72.9 251.76L75.1 247.89L77.3 251.76Z" fill="#ff1408"/>
<path d="M79.7 251.76L81.9 247.89L84.1 251.76Z" fill="#ff1408"/>
<path d="M79.7 251.76L81.9 247.89L84.1 251.76Z" fill="#ff1408"/>
<path d="M79.7 251.76L81.9 247.89L84.1 251.76Z" fill="#ff1408"/>
<path d="M79.7 251.76L81.9 247.89L84.1 251.76Z" fill="#ff1408"/>
<path d="M79.7 251.76L81.9 247.89L84.1 251.76Z" fill="#ff1408"/>
<path d="M79.7 251.76L81.9 247.89L84.1 251.76Z" fill="#ff1408"/>
<path d="M79.7 251.76L81.9 247.89L84.1 251.76Z" fill="#ff1408"/>
<path d="M79.7 251.76L81.9 247.89L84.1 251.76Z" fill="#ff1408"/>
<path d="M79.7 253.4L81.9 249.53L84.1 253.4Z" fill="#ff1408"/>
<path d="M76.3 255.05L78.5 251.17L80.7 255.05Z" fill="#ff1408"/>
<path d="M72.9 255.05L75.1 251.17L77.3 255.05Z" fill="#ff1408"/>
<path d="M79.7 256.69L81.9 252.82L84.1 256.69Z" fill="#ff1408"/>
<path d="M76.3 258.33L78.5 254.46L80.7 258.33Z" fill="#ff1408"/>
<path d="M72.9 259.97L75.1 256.1L77.3 259.97Z" fill="#ff1408"/>
<path d="M76.3 269.83L78.5 265.96L80.7 269.83Z" fill="#ff1408"/>
<path d="M74.55 364.9V253.73H82.45V364.9" fill="none" stroke="#ff1408" stroke-width="1.9" stroke-linejoin="miter"/>
<line x1="78.5" y1="252.78" x2="78.5" y2="248.68" stroke="#ff1408" stroke-width="1"/>
<line x1="75.9" y1="248.68" x2="81.1" y2="248.68" stroke="#ff1408" stroke-width="1"/>
<line x1="78.5" y1="252.78" x2="78.5" y2="256.89" stroke="#ff1408" stroke-width="1" opacity="0.6"/>
<line x1="75.9" y1="256.89" x2="81.1" y2="256.89" stroke="#ff1408" stroke-width="1" opacity="0.6"/>
<line x1="111.4" y1="364.9" x2="111.4" y2="370.5" stroke="#000" stroke-width="1.4"/>
<text x="111.4" y="381.4" font-size="10.3" font-weight="bold" text-anchor="middle" fill="#111" stroke="#111" stroke-width="0.25" stroke-linejoin="round">T2</text>
<circle cx="103.8" cy="249.83" r="2" fill="#1205fd"/>
<circle cx="100.4" cy="249.83" r="2" fill="#1205fd"/>
<circle cx="107.2" cy="249.83" r="2" fill="#1205fd"/>
<circle cx="107.2" cy="249.83" r="2" fill="#1205fd"/>
<circle cx="107.2" cy="249.83" r="2" fill="#1205fd"/>
<circle cx="107.2" cy="251.47" r="2" fill="#1205fd"/>
<circle cx="103.8" cy="253.11" r="2" fill="#1205fd"/>
<circle cx="100.4" cy="253.11" r="2" fill="#1205fd"/>
<circle cx="107.2" cy="254.75" r="2" fill="#1205fd"/>
<circle cx="103.8" cy="256.39" r="2" fill="#1205fd"/>
<circle cx="100.4" cy="256.39" r="2" fill="#1205fd"/>
<circle cx="107.2" cy="258.04" r="2" fill="#1205fd"/>
<circle cx="103.8" cy="259.68" r="2" fill="#1205fd"/>
<circle cx="100.4" cy="261.32" r="2" fill="#1205fd"/>
<circle cx="103.8" cy="262.97" r="2" fill="#1205fd"/>
<circle cx="103.8" cy="267.89" r="2" fill="#1205fd"/>
<circle cx="103.8" cy="271.18" r="2" fill="#1205fd"/>
<circle cx="100.4" cy="272.82" r="2" fill="#1205fd"/>
<circle cx="103.8" cy="290.89" r="2" fill="#1205fd"/>
<circle cx="103.8" cy="294.17" r="2" fill="#1205fd"/>
<circle cx="103.8" cy="299.1" r="2" fill="#1205fd"/>
<path d="M99.85 364.9V264.57H107.75V364.9" fill="none" stroke="#1205fd" stroke-width="1.9" stroke-linejoin="miter"/>
<line x1="103.8" y1="263.62" x2="103.8" y2="248.84" stroke="#1205fd" stroke-width="1"/>
<line x1="101.2" y1="248.84" x2="106.4" y2="248.84" stroke="#1205fd" stroke-width="1"/>
<line x1="103.8" y1="263.62" x2="103.8" y2="278.4" stroke="#1205fd" stroke-width="1" opacity="0.6"/>
<line x1="101.2" y1="278.4" x2="106.4" y2="278.4" stroke="#1205fd" stroke-width="1" opacity="0.6"/>
<path d="M116.8 251.76L119 247.89L121.2 251.76Z" fill="#ff1408"/>
<path d="M113.4 251.76L115.6 247.89L117.8 251.76Z" fill="#ff1408"/>
<path d="M120.2 251.76L122.4 247.89L124.6 251.76Z" fill="#ff1408"/>
<path d="M120.2 251.76L122.4 247.89L124.6 251.76Z" fill="#ff1408"/>
<path d="M120.2 251.76L122.4 247.89L124.6 251.76Z" fill="#ff1408"/>
<path d="M120.2 251.76L122.4 247.89L124.6 251.76Z" fill="#ff1408"/>
<path d="M120.2 253.4L122.4 249.53L124.6 253.4Z" fill="#ff1408"/>
<path d="M116.8 255.05L119 251.17L121.2 255.05Z" fill="#ff1408"/>
<path d="M113.4 256.69L115.6 252.82L117.8 256.69Z" fill="#ff1408"/>
<path d="M116.8 258.33L119 254.46L121.2 258.33Z" fill="#ff1408"/>
<path d="M113.4 259.97L115.6 256.1L117.8 259.97Z" fill="#ff1408"/>
<path d="M116.8 261.62L119 257.74L121.2 261.62Z" fill="#ff1408"/>
<path d="M116.8 264.9L119 261.03L121.2 264.9Z" fill="#ff1408"/>
<path d="M116.8 268.19L119 264.31L121.2 268.19Z" fill="#ff1408"/>
<path d="M116.8 274.76L119 270.88L121.2 274.76Z" fill="#ff1408"/>
<path d="M116.8 282.97L119 279.1L121.2 282.97Z" fill="#ff1408"/>
<path d="M113.4 284.61L115.6 280.74L117.8 284.61Z" fill="#ff1408"/>
<path d="M116.8 296.11L119 292.24L121.2 296.11Z" fill="#ff1408"/>
<path d="M115.05 364.9V263.59H122.95V364.9" fill="none" stroke="#ff1408" stroke-width="1.9" stroke-linejoin="miter"/>
<line x1="119" y1="262.64" x2="119" y2="251.14" stroke="#ff1408" stroke-width="1"/>
<line x1="116.4" y1="251.14" x2="121.6" y2="251.14" stroke="#ff1408" stroke-width="1"/>
<line x1="119" y1="262.64" x2="119" y2="274.13" stroke="#ff1408" stroke-width="1" opacity="0.6"/>
<line x1="116.4" y1="274.13" x2="121.6" y2="274.13" stroke="#ff1408" stroke-width="1" opacity="0.6"/>
<line x1="151.9" y1="364.9" x2="151.9" y2="370.5" stroke="#000" stroke-width="1.4"/>
<text x="151.9" y="381.4" font-size="10.3" font-weight="bold" text-anchor="middle" fill="#111" stroke="#111" stroke-width="0.25" stroke-linejoin="round">T3</text>
<circle cx="144.3" cy="249.83" r="2" fill="#1205fd"/>
<circle cx="140.9" cy="249.83" r="2" fill="#1205fd"/>
<circle cx="147.7" cy="249.83" r="2" fill="#1205fd"/>
<circle cx="144.3" cy="271.18" r="2" fill="#1205fd"/>
<circle cx="144.3" cy="279.39" r="2" fill="#1205fd"/>
<circle cx="144.3" cy="289.25" r="2" fill="#1205fd"/>
<circle cx="144.3" cy="292.53" r="2" fill="#1205fd"/>
<circle cx="140.9" cy="294.17" r="2" fill="#1205fd"/>
<circle cx="144.3" cy="295.81" r="2" fill="#1205fd"/>
<circle cx="140.9" cy="297.46" r="2" fill="#1205fd"/>
<circle cx="144.3" cy="299.1" r="2" fill="#1205fd"/>
<circle cx="140.9" cy="300.74" r="2" fill="#1205fd"/>
<circle cx="144.3" cy="302.38" r="2" fill="#1205fd"/>
<circle cx="144.3" cy="305.67" r="2" fill="#1205fd"/>
<circle cx="140.9" cy="307.31" r="2" fill="#1205fd"/>
<circle cx="144.3" cy="310.6" r="2" fill="#1205fd"/>
<circle cx="140.9" cy="312.24" r="2" fill="#1205fd"/>
<circle cx="144.3" cy="315.52" r="2" fill="#1205fd"/>
<circle cx="144.3" cy="318.81" r="2" fill="#1205fd"/>
<circle cx="144.3" cy="323.74" r="2" fill="#1205fd"/>
<circle cx="144.3" cy="340.16" r="2" fill="#1205fd"/>
<circle cx="144.3" cy="351.66" r="2" fill="#1205fd"/>
<path d="M140.35 364.9V297.75H148.25V364.9" fill="none" stroke="#1205fd" stroke-width="1.9" stroke-linejoin="miter"/>
<line x1="144.3" y1="296.8" x2="144.3" y2="268.06" stroke="#1205fd" stroke-width="1"/>
<line x1="141.7" y1="268.06" x2="146.9" y2="268.06" stroke="#1205fd" stroke-width="1"/>
<line x1="144.3" y1="296.8" x2="144.3" y2="325.54" stroke="#1205fd" stroke-width="1" opacity="0.6"/>
<line x1="141.7" y1="325.54" x2="146.9" y2="325.54" stroke="#1205fd" stroke-width="1" opacity="0.6"/>
<path d="M157.3 251.76L159.5 247.89L161.7 251.76Z" fill="#ff1408"/>
<path d="M153.9 251.76L156.1 247.89L158.3 251.76Z" fill="#ff1408"/>
<path d="M160.7 251.76L162.9 247.89L165.1 251.76Z" fill="#ff1408"/>
<path d="M160.7 251.76L162.9 247.89L165.1 251.76Z" fill="#ff1408"/>
<path d="M157.3 269.83L159.5 265.96L161.7 269.83Z" fill="#ff1408"/>
<path d="M157.3 278.04L159.5 274.17L161.7 278.04Z" fill="#ff1408"/>
<path d="M157.3 284.61L159.5 280.74L161.7 284.61Z" fill="#ff1408"/>
<path d="M153.9 286.25L156.1 282.38L158.3 286.25Z" fill="#ff1408"/>
<path d="M157.3 287.9L159.5 284.02L161.7 287.9Z" fill="#ff1408"/>
<path d="M153.9 289.54L156.1 285.67L158.3 289.54Z" fill="#ff1408"/>
<path d="M157.3 291.18L159.5 287.31L161.7 291.18Z" fill="#ff1408"/>
<path d="M153.9 292.82L156.1 288.95L158.3 292.82Z" fill="#ff1408"/>
<path d="M157.3 294.47L159.5 290.59L161.7 294.47Z" fill="#ff1408"/>
<path d="M157.3 297.75L159.5 293.88L161.7 297.75Z" fill="#ff1408"/>
<path d="M157.3 301.04L159.5 297.16L161.7 301.04Z" fill="#ff1408"/>
<path d="M157.3 305.96L159.5 302.09L161.7 305.96Z" fill="#ff1408"/>
<path d="M157.3 310.89L159.5 307.02L161.7 310.89Z" fill="#ff1408"/>
<path d="M157.3 317.46L159.5 313.59L161.7 317.46Z" fill="#ff1408"/>
<path d="M157.3 327.32L159.5 323.44L161.7 327.32Z" fill="#ff1408"/>
<path d="M157.3 333.89L159.5 330.01L161.7 333.89Z" fill="#ff1408"/>
<path d="M157.3 340.46L159.5 336.58L161.7 340.46Z" fill="#ff1408"/>
<path d="M155.55 364.9V288.88H163.45V364.9" fill="none" stroke="#ff1408" stroke-width="1.9" stroke-linejoin="miter"/>
<line x1="159.5" y1="287.93" x2="159.5" y2="259.19" stroke="#ff1408" stroke-width="1"/>
<line x1="156.9" y1="259.19" x2="162.1" y2="259.19" stroke="#ff1408" stroke-width="1"/>
<line x1="159.5" y1="287.93" x2="159.5" y2="316.67" stroke="#ff1408" stroke-width="1" opacity="0.6"/>
<line x1="156.9" y1="316.67" x2="162.1" y2="316.67" stroke="#ff1408" stroke-width="1" opacity="0.6"/>
<line x1="192.4" y1="364.9" x2="192.4" y2="370.5" stroke="#000" stroke-width="1.4"/>
<text x="192.4" y="381.4" font-size="10.3" font-weight="bold" text-anchor="middle" fill="#111" stroke="#111" stroke-width="0.25" stroke-linejoin="round">T4</text>
<circle cx="184.8" cy="290.89" r="2" fill="#1205fd"/>
<circle cx="184.8" cy="304.03" r="2" fill="#1205fd"/>
<circle cx="184.8" cy="307.31" r="2" fill="#1205fd"/>
<circle cx="184.8" cy="325.38" r="2" fill="#1205fd"/>
<circle cx="181.4" cy="327.02" r="2" fill="#1205fd"/>
<circle cx="184.8" cy="328.67" r="2" fill="#1205fd"/>
<circle cx="188.2" cy="328.67" r="2" fill="#1205fd"/>
<circle cx="181.4" cy="330.31" r="2" fill="#1205fd"/>
<circle cx="188.2" cy="330.31" r="2" fill="#1205fd"/>
<circle cx="184.8" cy="331.95" r="2" fill="#1205fd"/>
<circle cx="188.2" cy="331.95" r="2" fill="#1205fd"/>
<circle cx="181.4" cy="333.59" r="2" fill="#1205fd"/>
<circle cx="188.2" cy="333.59" r="2" fill="#1205fd"/>
<circle cx="184.8" cy="335.24" r="2" fill="#1205fd"/>
<circle cx="181.4" cy="336.88" r="2" fill="#1205fd"/>
<circle cx="184.8" cy="338.52" r="2" fill="#1205fd"/>
<circle cx="181.4" cy="340.16" r="2" fill="#1205fd"/>
<circle cx="184.8" cy="341.81" r="2" fill="#1205fd"/>
<circle cx="181.4" cy="343.45" r="2" fill="#1205fd"/>
<circle cx="184.8" cy="345.09" r="2" fill="#1205fd"/>
<circle cx="184.8" cy="348.38" r="2" fill="#1205fd"/>
<circle cx="181.4" cy="350.02" r="2" fill="#1205fd"/>
<path d="M180.85 364.9V330.6H188.75V364.9" fill="none" stroke="#1205fd" stroke-width="1.9" stroke-linejoin="miter"/>
<line x1="184.8" y1="329.65" x2="184.8" y2="313.55" stroke="#1205fd" stroke-width="1"/>
<line x1="182.2" y1="313.55" x2="187.4" y2="313.55" stroke="#1205fd" stroke-width="1"/>
<line x1="184.8" y1="329.65" x2="184.8" y2="345.75" stroke="#1205fd" stroke-width="1" opacity="0.6"/>
<line x1="182.2" y1="345.75" x2="187.4" y2="345.75" stroke="#1205fd" stroke-width="1" opacity="0.6"/>
<path d="M197.8 273.11L200 269.24L202.2 273.11Z" fill="#ff1408"/>
<path d="M197.8 284.61L200 280.74L202.2 284.61Z" fill="#ff1408"/>
<path d="M197.8 289.54L200 285.67L202.2 289.54Z" fill="#ff1408"/>
<path d="M197.8 294.47L200 290.59L202.2 294.47Z" fill="#ff1408"/>
<path d="M197.8 301.04L200 297.16L202.2 301.04Z" fill="#ff1408"/>
<path d="M197.8 304.32L200 300.45L202.2 304.32Z" fill="#ff1408"/>
<path d="M197.8 307.61L200 303.73L202.2 307.61Z" fill="#ff1408"/>
<path d="M194.4 309.25L196.6 305.38L198.8 309.25Z" fill="#ff1408"/>
<path d="M197.8 310.89L200 307.02L202.2 310.89Z" fill="#ff1408"/>
<path d="M194.4 312.53L196.6 308.66L198.8 312.53Z" fill="#ff1408"/>
<path d="M197.8 314.18L200 310.3L202.2 314.18Z" fill="#ff1408"/>
<path d="M194.4 315.82L196.6 311.95L198.8 315.82Z" fill="#ff1408"/>
<path d="M197.8 317.46L200 313.59L202.2 317.46Z" fill="#ff1408"/>
<path d="M194.4 319.1L196.6 315.23L198.8 319.1Z" fill="#ff1408"/>
<path d="M197.8 322.39L200 318.52L202.2 322.39Z" fill="#ff1408"/>
<path d="M194.4 324.03L196.6 320.16L198.8 324.03Z" fill="#ff1408"/>
<path d="M197.8 325.67L200 321.8L202.2 325.67Z" fill="#ff1408"/>
<path d="M194.4 327.32L196.6 323.44L198.8 327.32Z" fill="#ff1408"/>
<path d="M197.8 330.6L200 326.73L202.2 330.6Z" fill="#ff1408"/>
<path d="M197.8 338.81L200 334.94L202.2 338.81Z" fill="#ff1408"/>
<path d="M197.8 343.74L200 339.87L202.2 343.74Z" fill="#ff1408"/>
<path d="M196.05 364.9V313.19H203.95V364.9" fill="none" stroke="#ff1408" stroke-width="1.9" stroke-linejoin="miter"/>
<line x1="200" y1="312.24" x2="200" y2="292.04" stroke="#ff1408" stroke-width="1"/>
<line x1="197.4" y1="292.04" x2="202.6" y2="292.04" stroke="#ff1408" stroke-width="1"/>
<line x1="200" y1="312.24" x2="200" y2="332.44" stroke="#ff1408" stroke-width="1" opacity="0.6"/>
<line x1="197.4" y1="332.44" x2="202.6" y2="332.44" stroke="#ff1408" stroke-width="1" opacity="0.6"/>
<line x1="232.9" y1="364.9" x2="232.9" y2="370.5" stroke="#000" stroke-width="1.4"/>
<text x="232.9" y="381.4" font-size="10.3" font-weight="bold" text-anchor="middle" fill="#111" stroke="#111" stroke-width="0.25" stroke-linejoin="round">T5</text>
<circle cx="225.3" cy="328.67" r="2" fill="#1205fd"/>
<circle cx="221.9" cy="328.67" r="2" fill="#1205fd"/>
<circle cx="228.7" cy="330.31" r="2" fill="#1205fd"/>
<circle cx="225.3" cy="331.95" r="2" fill="#1205fd"/>
<circle cx="221.9" cy="333.59" r="2" fill="#1205fd"/>
<circle cx="225.3" cy="335.24" r="2" fill="#1205fd"/>
<circle cx="225.3" cy="338.52" r="2" fill="#1205fd"/>
<circle cx="221.9" cy="340.16" r="2" fill="#1205fd"/>
<circle cx="225.3" cy="343.45" r="2" fill="#1205fd"/>
<circle cx="225.3" cy="346.73" r="2" fill="#1205fd"/>
<circle cx="221.9" cy="348.38" r="2" fill="#1205fd"/>
<circle cx="225.3" cy="350.02" r="2" fill="#1205fd"/>
<circle cx="221.9" cy="351.66" r="2" fill="#1205fd"/>
<circle cx="225.3" cy="353.3" r="2" fill="#1205fd"/>
<circle cx="221.9" cy="354.94" r="2" fill="#1205fd"/>
<circle cx="225.3" cy="356.59" r="2" fill="#1205fd"/>
<circle cx="221.9" cy="358.23" r="2" fill="#1205fd"/>
<circle cx="225.3" cy="359.87" r="2" fill="#1205fd"/>
<circle cx="221.9" cy="361.51" r="2" fill="#1205fd"/>
<circle cx="225.3" cy="363.16" r="2" fill="#1205fd"/>
<circle cx="228.7" cy="363.16" r="2" fill="#1205fd"/>
<path d="M221.35 364.9V349.49H229.25V364.9" fill="none" stroke="#1205fd" stroke-width="1.9" stroke-linejoin="miter"/>
<line x1="225.3" y1="348.54" x2="225.3" y2="333.76" stroke="#1205fd" stroke-width="1"/>
<line x1="222.7" y1="333.76" x2="227.9" y2="333.76" stroke="#1205fd" stroke-width="1"/>
<line x1="225.3" y1="348.54" x2="225.3" y2="363.32" stroke="#1205fd" stroke-width="1" opacity="0.6"/>
<line x1="222.7" y1="363.32" x2="227.9" y2="363.32" stroke="#1205fd" stroke-width="1" opacity="0.6"/>
<path d="M238.3 284.61L240.5 280.74L242.7 284.61Z" fill="#ff1408"/>
<path d="M238.3 294.47L240.5 290.59L242.7 294.47Z" fill="#ff1408"/>
<path d="M234.9 296.11L237.1 292.24L239.3 296.11Z" fill="#ff1408"/>
<path d="M238.3 297.75L240.5 293.88L242.7 297.75Z" fill="#ff1408"/>
<path d="M238.3 301.04L240.5 297.16L242.7 301.04Z" fill="#ff1408"/>
<path d="M238.3 309.25L240.5 305.38L242.7 309.25Z" fill="#ff1408"/>
<path d="M238.3 317.46L240.5 313.59L242.7 317.46Z" fill="#ff1408"/>
<path d="M238.3 320.75L240.5 316.87L242.7 320.75Z" fill="#ff1408"/>
<path d="M234.9 322.39L237.1 318.52L239.3 322.39Z" fill="#ff1408"/>
<path d="M238.3 324.03L240.5 320.16L242.7 324.03Z" fill="#ff1408"/>
<path d="M234.9 325.67L237.1 321.8L239.3 325.67Z" fill="#ff1408"/>
<path d="M238.3 327.32L240.5 323.44L242.7 327.32Z" fill="#ff1408"/>
<path d="M234.9 328.96L237.1 325.09L239.3 328.96Z" fill="#ff1408"/>
<path d="M238.3 330.6L240.5 326.73L242.7 330.6Z" fill="#ff1408"/>
<path d="M234.9 332.24L237.1 328.37L239.3 332.24Z" fill="#ff1408"/>
<path d="M238.3 333.89L240.5 330.01L242.7 333.89Z" fill="#ff1408"/>
<path d="M234.9 335.53L237.1 331.66L239.3 335.53Z" fill="#ff1408"/>
<path d="M238.3 337.17L240.5 333.3L242.7 337.17Z" fill="#ff1408"/>
<path d="M234.9 338.81L237.1 334.94L239.3 338.81Z" fill="#ff1408"/>
<path d="M238.3 340.46L240.5 336.58L242.7 340.46Z" fill="#ff1408"/>
<path d="M238.3 345.38L240.5 341.51L242.7 345.38Z" fill="#ff1408"/>
<path d="M236.55 364.9V325.67H244.45V364.9" fill="none" stroke="#ff1408" stroke-width="1.9" stroke-linejoin="miter"/>
<line x1="240.5" y1="324.72" x2="240.5" y2="308.96" stroke="#ff1408" stroke-width="1"/>
<line x1="237.9" y1="308.96" x2="243.1" y2="308.96" stroke="#ff1408" stroke-width="1"/>
<line x1="240.5" y1="324.72" x2="240.5" y2="340.49" stroke="#ff1408" stroke-width="1" opacity="0.6"/>
<line x1="237.9" y1="340.49" x2="243.1" y2="340.49" stroke="#ff1408" stroke-width="1" opacity="0.6"/>
<line x1="48.1" y1="364.9" x2="250.8" y2="364.9" stroke="#000" stroke-width="1.5"/>
<path d="M189.8 246.7L189.8 252.7M187.2 248.2L192.4 251.2M192.4 248.2L187.2 251.2" stroke="#111" stroke-width="1.5" stroke-linecap="round" fill="none"/>
<line x1="182" y1="258.8" x2="197.7" y2="258.8" stroke="#000" stroke-width="1.8"/>
<path d="M232.4 255L232.4 261M229.8 256.5L235 259.5M235 256.5L229.8 259.5" stroke="#111" stroke-width="1.5" stroke-linecap="round" fill="none"/>
<line x1="223.5" y1="267" x2="240.6" y2="267" stroke="#000" stroke-width="1.8"/>
<circle cx="233.6" cy="223.6" r="2.1" fill="#1205fd"/>
<text x="248.9" y="227.3" font-size="10.6" font-weight="normal" text-anchor="start" fill="#222" textLength="46.5" lengthAdjust="spacingAndGlyphs">Saline-SA</text>
<path d="M231.6 242.96L233.6 239.44L235.6 242.96Z" fill="#ff1408"/>
<text x="248.9" y="244.4" font-size="10.6" font-weight="normal" text-anchor="start" fill="#222" textLength="56" lengthAdjust="spacingAndGlyphs">Propofol-SA</text>
<text x="340.8" y="231.1" font-size="16.5" font-weight="normal" text-anchor="start" fill="#111" stroke="#111" stroke-width="0.45" stroke-linejoin="round">D</text>
<text x="411.6" y="252.8" font-size="14.6" font-weight="normal" text-anchor="middle" fill="#111" textLength="67.8" lengthAdjust="spacingAndGlyphs" stroke="#111" stroke-width="0.35" stroke-linejoin="round">Probe test</text>
<circle cx="357.2" cy="318.0" r="50.5" fill="none" stroke="#222" stroke-width="1.0"/>
<line x1="306.7" y1="318" x2="407.7" y2="318" stroke="#333" stroke-width="0.8" stroke-dasharray="1 1.2"/>
<line x1="357.2" y1="267.5" x2="357.2" y2="368.5" stroke="#333" stroke-width="0.8" stroke-dasharray="1 1.2"/>
<circle cx="464.2" cy="318.2" r="50.5" fill="none" stroke="#222" stroke-width="1.0"/>
<line x1="413.7" y1="318.2" x2="514.7" y2="318.2" stroke="#333" stroke-width="0.8" stroke-dasharray="1 1.2"/>
<line x1="464.2" y1="267.7" x2="464.2" y2="368.7" stroke="#333" stroke-width="0.8" stroke-dasharray="1 1.2"/>
<text x="359.2" y="392.3" font-size="14.8" font-weight="normal" text-anchor="middle" fill="#111" textLength="65.5" lengthAdjust="spacingAndGlyphs" stroke="#111" stroke-width="0.35" stroke-linejoin="round">Saline-SA</text>
<text x="456.3" y="391.4" font-size="14.8" font-weight="normal" text-anchor="middle" fill="#111" textLength="79.5" lengthAdjust="spacingAndGlyphs" stroke="#111" stroke-width="0.35" stroke-linejoin="round">Propofol-SA</text>
<path d="M387.4 281.4C386.7 282.0 384.3 283.5 383.3 285.3C382.4 287.0 382.4 289.9 381.8 291.7C381.2 293.4 380.7 295.6 379.8 295.8C378.9 296.0 377.5 293.4 376.3 292.8C375.1 292.3 374.5 291.6 372.8 292.3C371.2 292.9 368.5 295.4 366.4 296.9C364.2 298.5 361.6 300.1 360.0 301.6C358.4 303.1 357.5 304.2 356.8 305.7C356.2 307.2 356.0 308.9 356.1 310.6C356.2 312.3 356.5 314.1 357.3 315.6C358.0 317.1 359.5 318.8 360.5 319.7C361.6 320.6 362.6 321.1 363.5 320.9C364.3 320.7 365.3 319.5 365.5 318.5C365.6 317.6 365.3 316.5 364.6 315.0C364.0 313.6 362.8 310.9 361.7 309.8C360.6 308.6 359.6 308.1 358.2 308.0C356.8 307.9 355.0 308.6 353.5 309.2C352.1 309.8 350.6 310.6 349.5 311.5C348.3 312.5 347.3 313.6 346.5 315.0C345.8 316.5 345.1 318.3 344.8 320.3C344.5 322.2 344.5 324.6 344.8 326.7C345.1 328.9 345.9 331.3 346.5 333.1C347.2 335.0 347.7 336.3 348.9 337.8C350.0 339.4 351.7 341.3 353.5 342.5C355.4 343.6 357.7 344.1 360.0 344.8C362.2 345.5 365.2 346.8 367.0 346.6C368.7 346.4 370.2 344.9 370.5 343.6C370.8 342.4 369.8 340.4 368.7 339.0C367.7 337.5 365.8 336.4 364.1 334.9C362.3 333.4 360.2 331.7 358.2 330.2C356.3 328.8 354.3 327.1 352.4 326.1C350.4 325.2 348.6 324.6 346.5 324.4C344.5 324.2 341.9 324.4 340.1 325.0C338.4 325.5 337.1 326.6 336.0 327.9C335.0 329.1 334.3 331.2 333.7 332.6C333.1 333.9 332.1 335.1 332.5 336.1C332.9 337.0 334.3 337.9 336.0 338.4C337.8 338.9 340.1 339.0 343.0 339.0C345.9 339.0 349.8 338.6 353.5 338.4C357.2 338.2 361.5 338.0 365.2 337.8C368.9 337.6 373.5 338.5 375.7 337.2C378.0 336.0 378.6 332.7 378.6 330.2C378.7 327.7 377.4 324.8 376.3 322.0C375.2 319.3 373.6 316.0 372.2 313.9C370.9 311.7 369.5 310.2 368.1 309.2C366.8 308.2 365.4 308.0 364.1 307.8C362.7 307.6 361.2 307.6 360.0 308.0C358.7 308.5 357.4 309.2 356.5 310.4C355.5 311.5 354.6 313.3 354.1 315.0C353.6 316.8 353.8 318.5 353.5 320.9C353.2 323.2 353.0 326.7 352.4 329.1C351.8 331.4 350.9 333.3 350.0 334.9C349.2 336.4 348.2 337.0 347.1 338.4C346.0 339.8 344.4 341.6 343.6 343.1C342.8 344.5 343.1 346.9 342.4 347.2C341.8 347.4 340.6 345.9 339.5 344.8C338.5 343.7 337.0 342.2 336.0 340.7C335.0 339.3 334.3 338.0 333.7 336.1C333.1 334.1 332.4 331.4 332.5 329.1C332.6 326.7 333.3 324.0 334.3 322.0C335.2 320.1 336.7 318.6 338.4 317.4C340.0 316.1 342.3 315.0 344.2 314.5C346.1 313.9 348.2 313.8 350.0 313.9C351.9 314.0 354.1 314.3 355.3 315.0C356.5 315.8 357.0 317.2 357.0 318.5C357.0 319.9 356.3 321.7 355.3 323.2C354.3 324.8 352.7 326.5 351.2 327.9C349.7 329.2 348.0 330.2 346.5 331.4C345.1 332.6 343.7 334.1 342.4 334.9C341.2 335.7 340.1 336.4 338.9 336.1C337.8 335.7 336.1 334.3 335.4 332.6C334.8 330.8 334.7 328.5 334.9 325.5C335.0 322.6 335.7 318.2 336.6 315.0C337.5 311.9 338.9 309.2 340.1 306.9C341.3 304.5 342.5 302.4 343.6 301.0C344.7 299.7 345.8 298.8 346.5 298.7C347.3 298.6 348.0 299.1 348.3 300.4C348.6 301.8 348.5 304.4 348.3 306.9C348.1 309.3 347.3 312.1 347.1 315.0C346.9 318.0 347.0 321.5 347.1 324.4C347.2 327.3 347.6 330.2 347.7 332.6C347.8 334.9 347.5 336.8 347.9 338.4C348.3 340.0 348.8 340.8 350.0 341.9C351.3 343.0 353.3 344.5 355.3 344.8C357.2 345.1 359.9 344.3 361.7 343.6C363.6 343.0 365.4 342.2 366.4 340.7C367.4 339.3 367.6 336.8 367.6 334.9C367.6 332.9 367.2 330.8 366.4 329.1C365.6 327.3 364.3 325.9 362.9 324.4C361.4 322.8 359.4 321.3 357.6 319.7C355.9 318.2 353.9 316.6 352.4 315.0C350.8 313.5 349.8 311.9 348.3 310.4C346.7 308.8 344.9 306.9 343.0 305.7C341.2 304.5 339.1 303.6 337.2 303.4C335.2 303.1 333.1 303.2 331.4 303.9C329.6 304.7 327.9 306.4 326.7 308.0C325.4 309.7 324.4 311.5 323.8 313.9C323.1 316.2 322.7 319.5 322.6 322.0C322.5 324.6 322.5 326.9 322.9 329.1C323.4 331.2 324.3 333.4 325.5 334.9C326.7 336.4 328.6 337.1 330.2 337.8C331.7 338.5 334.1 338.8 334.9 339.0" fill="none" stroke="#1205fd" stroke-width="1.0" stroke-linejoin="round"/>
<path d="M496.0 283.3C495.4 283.1 493.0 281.4 492.1 281.9C491.2 282.4 491.5 285.3 490.7 286.4C490.0 287.5 488.0 287.3 487.7 288.6C487.4 289.9 488.4 292.2 489.1 294.4C489.7 296.7 490.9 299.7 491.4 302.0C491.9 304.4 492.5 306.6 492.1 308.3C491.8 310.0 490.5 312.1 489.3 312.2C488.2 312.3 486.6 310.2 485.2 309.0C483.8 307.8 482.6 306.4 481.0 304.8C479.4 303.2 477.6 301.0 475.5 299.3C473.4 297.5 470.9 295.8 468.5 294.4C466.2 293.0 464.2 291.9 461.6 291.0C459.1 290.0 456.1 289.1 453.3 288.6C450.5 288.1 447.7 287.9 445.0 287.8C442.2 287.6 438.2 287.3 436.6 287.8C435.1 288.2 434.8 289.8 435.5 290.3C436.2 290.7 438.5 290.8 440.8 290.5C443.1 290.3 446.4 289.4 449.1 288.9C451.9 288.3 454.7 287.4 457.4 287.2C460.2 287.0 463.1 287.3 465.8 287.8C468.4 288.2 471.1 288.9 473.4 290.0C475.7 291.1 478.1 292.6 479.6 294.4C481.2 296.2 482.2 298.7 482.7 300.7C483.2 302.6 482.9 304.5 482.4 306.2C481.9 307.9 481.3 309.6 479.6 311.1C478.0 312.6 475.2 314.3 472.7 315.2C470.2 316.1 467.2 316.4 464.4 316.6C461.6 316.8 458.8 316.4 456.1 316.6C453.3 316.8 450.3 317.5 447.7 318.0C445.2 318.5 442.7 319.6 440.8 319.4C439.0 319.2 437.9 318.1 436.6 316.6C435.4 315.1 433.4 312.4 433.2 310.4C432.9 308.3 433.8 305.9 435.3 304.1C436.8 302.4 440.1 301.6 442.2 300.0C444.3 298.3 445.9 296.6 447.7 294.4C449.6 292.2 451.6 289.1 453.3 286.8C455.0 284.5 455.6 281.6 458.1 280.5C460.7 279.5 465.2 279.9 468.5 280.3C471.9 280.6 475.8 281.3 478.3 282.6C480.7 283.9 482.1 286.0 483.1 288.2C484.1 290.4 484.5 293.0 484.5 295.8C484.5 298.6 483.6 301.9 483.1 304.8C482.6 307.7 481.7 310.3 481.7 313.1C481.7 316.0 482.4 319.5 483.1 322.2C483.8 324.8 484.8 327.8 485.9 329.1C486.9 330.4 488.1 330.5 489.3 329.8C490.6 329.1 492.1 326.9 493.5 324.9C494.9 323.0 496.3 320.3 497.7 318.0C499.1 315.7 500.9 313.3 501.8 311.1C502.8 308.8 503.3 304.6 503.2 304.4C503.1 304.2 502.2 307.6 501.1 309.7C500.1 311.7 498.0 314.3 497.0 316.6C495.9 318.9 494.9 321.2 494.9 323.5C494.9 325.9 495.8 329.7 497.0 330.5C498.1 331.3 500.4 329.8 501.8 328.4C503.2 327.0 504.6 324.2 505.3 322.2C506.0 320.1 506.6 317.4 506.0 316.3C505.4 315.2 503.7 315.3 501.8 315.5C500.0 315.7 497.4 316.9 494.9 317.3C492.4 317.7 489.3 317.8 486.6 317.7C483.8 317.6 481.0 316.9 478.3 316.6C475.5 316.3 472.2 315.8 469.9 315.9C467.6 316.0 465.5 316.6 464.4 317.3C463.2 318.0 462.5 319.4 463.0 320.1C463.5 320.8 465.1 321.3 467.2 321.5C469.2 321.6 472.7 321.1 475.5 320.8C478.3 320.4 481.0 320.1 483.8 319.4C486.6 318.7 489.6 317.0 492.1 316.6C494.7 316.3 497.0 316.3 499.1 317.3C501.1 318.3 503.3 320.4 504.6 322.9C505.9 325.3 506.8 329.0 507.1 331.9C507.4 334.8 507.3 337.8 506.7 340.2C506.0 342.6 505.2 344.7 503.2 346.4C501.3 348.2 498.4 349.7 494.9 350.6C491.4 351.5 486.8 351.9 482.4 352.0C478.0 352.1 472.9 351.7 468.5 351.3C464.2 350.8 459.5 350.2 456.1 349.2C452.6 348.2 450.1 346.8 447.7 345.0C445.4 343.3 443.3 341.2 442.2 338.8C441.0 336.4 440.8 333.5 440.8 330.5C440.8 327.5 441.3 323.5 442.2 320.8C443.1 318.0 444.3 315.7 446.4 313.8C448.4 312.0 451.7 310.7 454.7 309.7C457.7 308.6 460.9 308.1 464.4 307.6C467.9 307.1 472.7 306.5 475.5 306.6C478.3 306.7 479.9 307.1 481.0 308.3C482.2 309.5 482.6 311.8 482.4 313.8C482.2 315.9 481.0 318.5 479.6 320.8C478.3 323.1 475.9 326.0 474.1 327.7C472.2 329.4 469.2 330.0 468.5 331.2C467.9 332.3 468.3 333.5 469.9 334.6C471.5 335.8 475.8 337.0 478.3 338.1C480.7 339.2 483.2 341.9 484.5 341.3C485.8 340.7 485.9 337.1 485.9 334.6C485.9 332.1 485.3 328.9 484.5 326.3C483.7 323.8 482.5 321.2 481.0 319.4C479.5 317.5 477.8 316.4 475.5 315.2C473.2 314.1 469.9 313.0 467.2 312.4C464.4 311.9 461.6 311.8 458.8 311.8C456.1 311.8 453.3 312.1 450.5 312.4C447.7 312.8 445.2 313.1 442.2 313.8C439.2 314.5 434.9 315.5 432.5 316.6C430.1 317.8 428.8 318.9 427.6 320.8C426.5 322.6 425.8 325.4 425.5 327.7C425.3 330.0 425.3 332.7 426.2 334.6C427.2 336.5 428.9 338.2 431.1 339.1C433.3 340.0 436.5 339.8 439.4 339.9C442.3 340.0 445.7 340.1 448.4 339.5C451.2 338.8 453.2 337.6 456.1 336.0C459.0 334.4 462.6 332.1 465.8 329.8C468.9 327.5 472.5 324.6 474.8 322.2C477.1 319.7 478.5 317.5 479.6 315.2C480.8 312.9 482.0 310.5 481.7 308.3C481.5 306.1 480.0 303.8 478.3 302.0C476.5 300.3 473.9 298.9 471.3 297.9C468.8 296.8 465.8 296.4 463.0 295.8C460.2 295.2 457.0 294.4 454.7 294.4C452.4 294.4 450.7 294.9 449.1 295.8C447.5 296.7 446.8 298.6 445.0 300.0C443.1 301.4 439.4 303.0 438.0 304.1C436.6 305.3 436.0 306.0 436.6 306.9C437.3 307.8 439.9 309.1 442.2 309.7C444.5 310.3 447.3 310.1 450.5 310.4C453.7 310.6 457.9 310.8 461.6 311.1C465.3 311.4 469.5 311.2 472.7 312.2C475.9 313.1 478.5 315.2 481.0 316.6C483.6 318.0 485.9 320.3 488.0 320.8C490.0 321.2 491.9 320.3 493.5 319.4C495.1 318.5 497.9 316.8 497.7 315.2C497.4 313.6 494.2 311.8 492.1 309.7C490.0 307.6 487.5 304.8 485.2 302.7C482.9 300.7 481.0 298.8 478.3 297.2C475.5 295.6 471.8 294.3 468.5 293.0C465.3 291.8 461.8 290.4 458.8 289.6C455.8 288.8 452.4 287.8 450.5 288.2C448.7 288.5 446.8 290.6 447.7 291.6C448.7 292.7 453.1 293.4 456.1 294.4C459.1 295.5 462.8 296.6 465.8 297.9C468.8 299.2 471.7 300.7 474.1 302.0C476.5 303.4 479.6 304.9 480.3 306.2C481.0 307.5 480.0 309.3 478.3 309.7C476.5 310.0 472.7 308.9 469.9 308.3C467.2 307.7 464.4 306.8 461.6 306.2C458.8 305.6 456.1 304.7 453.3 304.8C450.5 304.9 447.5 305.9 445.0 306.9C442.4 307.9 439.6 309.4 438.0 311.1C436.4 312.7 434.8 315.0 435.3 316.6C435.7 318.2 438.0 319.8 440.8 320.8C443.6 321.7 448.0 322.0 451.9 322.2C455.8 322.3 460.7 322.0 464.4 321.5C468.1 320.9 472.5 319.2 474.1 318.7" fill="none" stroke="#ff1408" stroke-width="1.0" stroke-linejoin="round"/>
<circle cx="333.3" cy="340.2" r="3.9" fill="none" stroke="#333" stroke-width="0.9"/>
<circle cx="440.6" cy="340.6" r="3.9" fill="none" stroke="#333" stroke-width="0.9"/>
<text x="521.4" y="230.7" font-size="16.2" font-weight="normal" text-anchor="start" fill="#111" stroke="#111" stroke-width="0.4" stroke-linejoin="round">E</text>
<line x1="600.1" y1="230.95" x2="600.1" y2="353.45" stroke="#000" stroke-width="1.5"/>
<line x1="595.5" y1="352.7" x2="600.1" y2="352.7" stroke="#000" stroke-width="1.5"/>
<text x="593.1" y="357.09" font-size="12.2" font-weight="bold" text-anchor="end" fill="#111" stroke="#111" stroke-width="0.2" stroke-linejoin="round">0</text>
<line x1="595.5" y1="328.5" x2="600.1" y2="328.5" stroke="#000" stroke-width="1.5"/>
<text x="593.1" y="332.89" font-size="12.2" font-weight="bold" text-anchor="end" fill="#111" stroke="#111" stroke-width="0.2" stroke-linejoin="round">20</text>
<line x1="595.5" y1="304.3" x2="600.1" y2="304.3" stroke="#000" stroke-width="1.5"/>
<text x="593.1" y="308.69" font-size="12.2" font-weight="bold" text-anchor="end" fill="#111" stroke="#111" stroke-width="0.2" stroke-linejoin="round">40</text>
<line x1="595.5" y1="280.1" x2="600.1" y2="280.1" stroke="#000" stroke-width="1.5"/>
<text x="593.1" y="284.49" font-size="12.2" font-weight="bold" text-anchor="end" fill="#111" stroke="#111" stroke-width="0.2" stroke-linejoin="round">60</text>
<line x1="595.5" y1="255.9" x2="600.1" y2="255.9" stroke="#000" stroke-width="1.5"/>
<text x="593.1" y="260.29" font-size="12.2" font-weight="bold" text-anchor="end" fill="#111" stroke="#111" stroke-width="0.2" stroke-linejoin="round">80</text>
<line x1="595.5" y1="231.7" x2="600.1" y2="231.7" stroke="#000" stroke-width="1.5"/>
<text x="593.1" y="236.09" font-size="12.2" font-weight="bold" text-anchor="end" fill="#111" stroke="#111" stroke-width="0.2" stroke-linejoin="round">100</text>
<text x="565.3" y="289.3" font-size="11.2" font-weight="bold" text-anchor="middle" fill="#111" transform="rotate(-90 565.3 289.3)" textLength="134.5" lengthAdjust="spacingAndGlyphs" stroke="#111" stroke-width="0.2" stroke-linejoin="round">%time in target quadrant</text>
<circle cx="623.8" cy="252.8" r="2.4" fill="#1205fd"/>
<circle cx="619.2" cy="260" r="2.4" fill="#1205fd"/>
<circle cx="628.4" cy="261.3" r="2.4" fill="#1205fd"/>
<circle cx="619.2" cy="265.5" r="2.4" fill="#1205fd"/>
<circle cx="628.4" cy="266.5" r="2.4" fill="#1205fd"/>
<circle cx="623.8" cy="268.9" r="2.4" fill="#1205fd"/>
<circle cx="619.2" cy="270.9" r="2.4" fill="#1205fd"/>
<circle cx="614.8" cy="274" r="2.4" fill="#1205fd"/>
<circle cx="628.4" cy="273.2" r="2.4" fill="#1205fd"/>
<circle cx="619.2" cy="278.4" r="2.4" fill="#1205fd"/>
<circle cx="623.8" cy="279.5" r="2.4" fill="#1205fd"/>
<circle cx="628.4" cy="279" r="2.4" fill="#1205fd"/>
<circle cx="633" cy="278.6" r="2.4" fill="#1205fd"/>
<circle cx="614.8" cy="280.1" r="2.4" fill="#1205fd"/>
<circle cx="619.2" cy="283.6" r="2.4" fill="#1205fd"/>
<circle cx="628.4" cy="285.3" r="2.4" fill="#1205fd"/>
<circle cx="623.8" cy="289.3" r="2.4" fill="#1205fd"/>
<circle cx="619.2" cy="292.8" r="2.4" fill="#1205fd"/>
<circle cx="628.4" cy="294.3" r="2.4" fill="#1205fd"/>
<circle cx="623.8" cy="296.8" r="2.4" fill="#1205fd"/>
<circle cx="623.8" cy="304.9" r="2.4" fill="#1205fd"/>
<path d="M613.8 352.7V279.6H634V352.7" fill="none" stroke="#1205fd" stroke-width="2.2" stroke-linejoin="miter"/>
<line x1="623.9" y1="264.6" x2="623.9" y2="293.4" stroke="#1205fd" stroke-width="1" opacity="0.7"/>
<line x1="619.4" y1="264.6" x2="628.4" y2="264.6" stroke="#1205fd" stroke-width="1" opacity="0.7"/>
<line x1="619.4" y1="293.4" x2="628.4" y2="293.4" stroke="#1205fd" stroke-width="1" opacity="0.7"/>
<path d="M655.5 286.56L658.3 281.64L661.1 286.56Z" fill="#ff1408"/>
<path d="M652.1 293.56L654.9 288.64L657.7 293.56Z" fill="#ff1408"/>
<path d="M655.5 292.36L658.3 287.44L661.1 292.36Z" fill="#ff1408"/>
<path d="M654.6 298.16L657.4 293.24L660.2 298.16Z" fill="#ff1408"/>
<path d="M657.2 295.86L660 290.94L662.8 295.86Z" fill="#ff1408"/>
<path d="M646.5 304.46L649.3 299.54L652.1 304.46Z" fill="#ff1408"/>
<path d="M664.9 304.46L667.7 299.54L670.5 304.46Z" fill="#ff1408"/>
<path d="M657.2 303.26L660 298.34L662.8 303.26Z" fill="#ff1408"/>
<path d="M652.1 307.36L654.9 302.44L657.7 307.36Z" fill="#ff1408"/>
<path d="M657.2 307.86L660 302.94L662.8 307.86Z" fill="#ff1408"/>
<path d="M657.2 311.36L660 306.44L662.8 311.36Z" fill="#ff1408"/>
<path d="M654.6 314.26L657.4 309.34L660.2 314.26Z" fill="#ff1408"/>
<path d="M657.2 317.66L660 312.74L662.8 317.66Z" fill="#ff1408"/>
<path d="M654.6 321.16L657.4 316.24L660.2 321.16Z" fill="#ff1408"/>
<path d="M657.2 326.86L660 321.94L662.8 326.86Z" fill="#ff1408"/>
<path d="M654.6 329.76L657.4 324.84L660.2 329.76Z" fill="#ff1408"/>
<path d="M648.3 352.7V305.9H668.5V352.7" fill="none" stroke="#ff1408" stroke-width="2.2" stroke-linejoin="miter"/>
<line x1="658.4" y1="293.4" x2="658.4" y2="315.2" stroke="#ff1408" stroke-width="1" opacity="0.7"/>
<line x1="653.9" y1="293.4" x2="662.9" y2="293.4" stroke="#ff1408" stroke-width="1" opacity="0.7"/>
<line x1="653.9" y1="315.2" x2="662.9" y2="315.2" stroke="#ff1408" stroke-width="1" opacity="0.7"/>
<line x1="595.7" y1="352.7" x2="682" y2="352.7" stroke="#000" stroke-width="1.5"/>
<line x1="623.5" y1="352.7" x2="623.5" y2="357.2" stroke="#000" stroke-width="1.5"/>
<line x1="658" y1="352.7" x2="658" y2="357.2" stroke="#000" stroke-width="1.5"/>
<path d="M655.05 266.5L655.05 272.1M652.63 267.9L657.47 270.7M657.47 267.9L652.63 270.7" stroke="#111" stroke-width="1.51" stroke-linecap="round" fill="none"/>
<path d="M661.75 266.5L661.75 272.1M659.33 267.9L664.17 270.7M664.17 267.9L659.33 270.7" stroke="#111" stroke-width="1.51" stroke-linecap="round" fill="none"/>
<text x="625.9" y="366.5" font-size="8.9" font-weight="bold" text-anchor="end" fill="#111" transform="rotate(-45 625.9 366.5)" stroke="#111" stroke-width="0.15" stroke-linejoin="round">Saline-SA</text>
<text x="660.6" y="366.5" font-size="8.9" font-weight="bold" text-anchor="end" fill="#111" transform="rotate(-45 660.6 366.5)" stroke="#111" stroke-width="0.15" stroke-linejoin="round">Propofol-SA</text>
<text x="5.5" y="434.8" font-size="16.2" font-weight="normal" text-anchor="start" fill="#111" stroke="#111" stroke-width="0.4" stroke-linejoin="round">F</text>
<line x1="93.9" y1="433.2" x2="93.9" y2="604.8" stroke="#000" stroke-width="2"/>
<line x1="87.4" y1="603.8" x2="93.9" y2="603.8" stroke="#000" stroke-width="2"/>
<text x="84.6" y="610.28" font-size="18" font-weight="bold" text-anchor="end" fill="#111" stroke="#111" stroke-width="0.45" stroke-linejoin="round">6</text>
<line x1="87.4" y1="561.4" x2="93.9" y2="561.4" stroke="#000" stroke-width="2"/>
<text x="84.6" y="567.88" font-size="18" font-weight="bold" text-anchor="end" fill="#111" stroke="#111" stroke-width="0.45" stroke-linejoin="round">8</text>
<line x1="87.4" y1="519" x2="93.9" y2="519" stroke="#000" stroke-width="2"/>
<text x="84.6" y="525.48" font-size="18" font-weight="bold" text-anchor="end" fill="#111" stroke="#111" stroke-width="0.45" stroke-linejoin="round">10</text>
<line x1="87.4" y1="476.6" x2="93.9" y2="476.6" stroke="#000" stroke-width="2"/>
<text x="84.6" y="483.08" font-size="18" font-weight="bold" text-anchor="end" fill="#111" stroke="#111" stroke-width="0.45" stroke-linejoin="round">12</text>
<line x1="87.4" y1="434.2" x2="93.9" y2="434.2" stroke="#000" stroke-width="2"/>
<text x="84.6" y="440.68" font-size="18" font-weight="bold" text-anchor="end" fill="#111" stroke="#111" stroke-width="0.45" stroke-linejoin="round">14</text>
<text x="53.8" y="515.3" font-size="13" font-weight="bold" text-anchor="middle" fill="#111" transform="rotate(-90 53.8 515.3)" textLength="98.5" lengthAdjust="spacingAndGlyphs" stroke="#111" stroke-width="0.35" stroke-linejoin="round">Velocity (cm/s)</text>
<circle cx="126.4" cy="466.7" r="3.2" fill="#1205fd"/>
<circle cx="119.8" cy="482.4" r="3.2" fill="#1205fd"/>
<circle cx="133" cy="485" r="3.2" fill="#1205fd"/>
<circle cx="126.4" cy="491.2" r="3.2" fill="#1205fd"/>
<circle cx="133" cy="503.1" r="3.2" fill="#1205fd"/>
<circle cx="113.2" cy="512.9" r="3.2" fill="#1205fd"/>
<circle cx="119.8" cy="510" r="3.2" fill="#1205fd"/>
<circle cx="126.4" cy="510" r="3.2" fill="#1205fd"/>
<circle cx="133" cy="511.4" r="3.2" fill="#1205fd"/>
<circle cx="139.2" cy="511.9" r="3.2" fill="#1205fd"/>
<circle cx="126.4" cy="517.6" r="3.2" fill="#1205fd"/>
<circle cx="119.8" cy="521.3" r="3.2" fill="#1205fd"/>
<circle cx="119.8" cy="529.8" r="3.2" fill="#1205fd"/>
<circle cx="126.4" cy="532.6" r="3.2" fill="#1205fd"/>
<circle cx="119.8" cy="539.2" r="3.2" fill="#1205fd"/>
<circle cx="113.2" cy="549" r="3.2" fill="#1205fd"/>
<circle cx="126.4" cy="547.7" r="3.2" fill="#1205fd"/>
<circle cx="133" cy="544.9" r="3.2" fill="#1205fd"/>
<circle cx="139.2" cy="549.6" r="3.2" fill="#1205fd"/>
<circle cx="126.4" cy="555.2" r="3.2" fill="#1205fd"/>
<circle cx="126.4" cy="570.3" r="3.2" fill="#1205fd"/>
<path d="M112.1 603.8V522.8H140.4V603.8" fill="none" stroke="#1205fd" stroke-width="2.6" stroke-linejoin="miter"/>
<line x1="126.25" y1="494.4" x2="126.25" y2="548.3" stroke="#1205fd" stroke-width="1.2" opacity="0.7"/>
<line x1="118.25" y1="494.4" x2="134.25" y2="494.4" stroke="#1205fd" stroke-width="1.2" opacity="0.7"/>
<line x1="118.25" y1="548.3" x2="134.25" y2="548.3" stroke="#1205fd" stroke-width="1.2" opacity="0.7"/>
<path d="M171 465.34L174.8 458.66L178.6 465.34Z" fill="#ff1408"/>
<path d="M171 472.84L174.8 466.16L178.6 472.84Z" fill="#ff1408"/>
<path d="M158.3 477.64L162.1 470.96L165.9 477.64Z" fill="#ff1408"/>
<path d="M183.8 477.64L187.6 470.96L191.4 477.64Z" fill="#ff1408"/>
<path d="M171 485.14L174.8 478.46L178.6 485.14Z" fill="#ff1408"/>
<path d="M171 495.44L174.8 488.76L178.6 495.44Z" fill="#ff1408"/>
<path d="M183.8 504.54L187.6 497.86L191.4 504.54Z" fill="#ff1408"/>
<path d="M171 508.64L174.8 501.96L178.6 508.64Z" fill="#ff1408"/>
<path d="M171 529.34L174.8 522.66L178.6 529.34Z" fill="#ff1408"/>
<path d="M158.3 535.04L162.1 528.36L165.9 535.04Z" fill="#ff1408"/>
<path d="M183.8 534.14L187.6 527.46L191.4 534.14Z" fill="#ff1408"/>
<path d="M171 538.84L174.8 532.16L178.6 538.84Z" fill="#ff1408"/>
<path d="M158.3 546.34L162.1 539.66L165.9 546.34Z" fill="#ff1408"/>
<path d="M183.8 547.24L187.6 540.56L191.4 547.24Z" fill="#ff1408"/>
<path d="M158.3 552.94L162.1 546.26L165.9 552.94Z" fill="#ff1408"/>
<path d="M183.8 553.84L187.6 547.16L191.4 553.84Z" fill="#ff1408"/>
<path d="M171 555.74L174.8 549.06L178.6 555.74Z" fill="#ff1408"/>
<path d="M171 564.24L174.8 557.56L178.6 564.24Z" fill="#ff1408"/>
<path d="M164.9 574.54L168.7 567.86L172.5 574.54Z" fill="#ff1408"/>
<path d="M177.6 573.64L181.4 566.96L185.2 573.64Z" fill="#ff1408"/>
<path d="M160.6 603.8V523.2H189.1V603.8" fill="none" stroke="#ff1408" stroke-width="2.6" stroke-linejoin="miter"/>
<line x1="174.85" y1="485.2" x2="174.85" y2="556.6" stroke="#ff1408" stroke-width="1.2" opacity="0.7"/>
<line x1="166.85" y1="485.2" x2="182.85" y2="485.2" stroke="#ff1408" stroke-width="1.2" opacity="0.7"/>
<line x1="166.85" y1="556.6" x2="182.85" y2="556.6" stroke="#ff1408" stroke-width="1.2" opacity="0.7"/>
<line x1="87.3" y1="603.8" x2="207.8" y2="603.8" stroke="#000" stroke-width="2"/>
<line x1="126.2" y1="603.8" x2="126.2" y2="610.6" stroke="#000" stroke-width="2"/>
<line x1="175.3" y1="603.8" x2="175.3" y2="610.6" stroke="#000" stroke-width="2"/>
<text x="149.9" y="427.3" font-size="14" font-weight="normal" text-anchor="middle" fill="#1a1a1a" stroke="#1a1a1a" stroke-width="0.15" stroke-linejoin="round">ns</text>
<line x1="124.7" y1="435.5" x2="175.1" y2="435.5" stroke="#000" stroke-width="2.6"/>
<text x="130.3" y="622.3" font-size="12.9" font-weight="bold" text-anchor="end" fill="#111" transform="rotate(-45 130.3 622.3)" stroke="#111" stroke-width="0.35" stroke-linejoin="round">Saline-SA</text>
<text x="179.4" y="622.3" font-size="12.9" font-weight="bold" text-anchor="end" fill="#111" transform="rotate(-45 179.4 622.3)" stroke="#111" stroke-width="0.35" stroke-linejoin="round">Propofol-SA</text>
<text x="254.6" y="435.3" font-size="16.2" font-weight="normal" text-anchor="start" fill="#111" stroke="#111" stroke-width="0.4" stroke-linejoin="round">G</text>
<line x1="321.4" y1="432.52" x2="321.4" y2="604.8" stroke="#000" stroke-width="2"/>
<line x1="314.9" y1="603.8" x2="321.4" y2="603.8" stroke="#000" stroke-width="2"/>
<text x="312.1" y="610.28" font-size="18" font-weight="bold" text-anchor="end" fill="#111" stroke="#111" stroke-width="0.45" stroke-linejoin="round">40</text>
<line x1="314.9" y1="547.04" x2="321.4" y2="547.04" stroke="#000" stroke-width="2"/>
<text x="312.1" y="553.52" font-size="18" font-weight="bold" text-anchor="end" fill="#111" stroke="#111" stroke-width="0.45" stroke-linejoin="round">60</text>
<line x1="314.9" y1="490.28" x2="321.4" y2="490.28" stroke="#000" stroke-width="2"/>
<text x="312.1" y="496.76" font-size="18" font-weight="bold" text-anchor="end" fill="#111" stroke="#111" stroke-width="0.45" stroke-linejoin="round">80</text>
<line x1="314.9" y1="433.52" x2="321.4" y2="433.52" stroke="#000" stroke-width="2"/>
<text x="312.1" y="440" font-size="18" font-weight="bold" text-anchor="end" fill="#111" stroke="#111" stroke-width="0.45" stroke-linejoin="round">100</text>
<text x="271.2" y="514.3" font-size="15.2" font-weight="bold" text-anchor="middle" fill="#111" transform="rotate(-90 271.2 514.3)" textLength="97" lengthAdjust="spacingAndGlyphs" stroke="#111" stroke-width="0.35" stroke-linejoin="round">Altemaion %</text>
<circle cx="349.2" cy="466.3" r="3.2" fill="#1205fd"/>
<circle cx="357.9" cy="467.6" r="3.2" fill="#1205fd"/>
<circle cx="349.2" cy="483.6" r="3.2" fill="#1205fd"/>
<circle cx="366.5" cy="481.8" r="3.2" fill="#1205fd"/>
<circle cx="340.7" cy="488" r="3.2" fill="#1205fd"/>
<circle cx="357.9" cy="487.2" r="3.2" fill="#1205fd"/>
<circle cx="366.5" cy="490.7" r="3.2" fill="#1205fd"/>
<circle cx="349.2" cy="492.5" r="3.2" fill="#1205fd"/>
<circle cx="340.7" cy="497.8" r="3.2" fill="#1205fd"/>
<circle cx="357.9" cy="498.7" r="3.2" fill="#1205fd"/>
<circle cx="366.5" cy="497.3" r="3.2" fill="#1205fd"/>
<circle cx="349.2" cy="503.2" r="3.2" fill="#1205fd"/>
<circle cx="366.5" cy="505.8" r="3.2" fill="#1205fd"/>
<circle cx="340.7" cy="511.2" r="3.2" fill="#1205fd"/>
<circle cx="366.5" cy="516.5" r="3.2" fill="#1205fd"/>
<circle cx="357.9" cy="517.4" r="3.2" fill="#1205fd"/>
<circle cx="349.2" cy="521" r="3.2" fill="#1205fd"/>
<circle cx="366.5" cy="525.4" r="3.2" fill="#1205fd"/>
<circle cx="349.2" cy="530.7" r="3.2" fill="#1205fd"/>
<circle cx="357.9" cy="529" r="3.2" fill="#1205fd"/>
<circle cx="366.5" cy="532.5" r="3.2" fill="#1205fd"/>
<circle cx="353.5" cy="546.8" r="3.2" fill="#1205fd"/>
<path d="M339.5 603.8V506.4H367.4V603.8" fill="none" stroke="#1205fd" stroke-width="2.6" stroke-linejoin="miter"/>
<line x1="353.45" y1="482.7" x2="353.45" y2="525.8" stroke="#1205fd" stroke-width="1.2" opacity="0.7"/>
<line x1="345.45" y1="482.7" x2="361.45" y2="482.7" stroke="#1205fd" stroke-width="1.2" opacity="0.7"/>
<line x1="345.45" y1="525.8" x2="361.45" y2="525.8" stroke="#1205fd" stroke-width="1.2" opacity="0.7"/>
<path d="M398.3 502.04L402.1 495.36L405.9 502.04Z" fill="#ff1408"/>
<path d="M394.2 520.24L398 513.56L401.8 520.24Z" fill="#ff1408"/>
<path d="M402.7 523.04L406.5 516.36L410.3 523.04Z" fill="#ff1408"/>
<path d="M394.2 540.84L398 534.16L401.8 540.84Z" fill="#ff1408"/>
<path d="M385.8 547.44L389.6 540.76L393.4 547.44Z" fill="#ff1408"/>
<path d="M411.3 546.54L415.1 539.86L418.9 546.54Z" fill="#ff1408"/>
<path d="M394.2 551.04L398 544.36L401.8 551.04Z" fill="#ff1408"/>
<path d="M402.7 551.04L406.5 544.36L410.3 551.04Z" fill="#ff1408"/>
<path d="M385.8 560.74L389.6 554.06L393.4 560.74Z" fill="#ff1408"/>
<path d="M402.7 565.24L406.5 558.56L410.3 565.24Z" fill="#ff1408"/>
<path d="M394.2 569.64L398 562.96L401.8 569.64Z" fill="#ff1408"/>
<path d="M385.8 571.44L389.6 564.76L393.4 571.44Z" fill="#ff1408"/>
<path d="M411.3 572.34L415.1 565.66L418.9 572.34Z" fill="#ff1408"/>
<path d="M385.8 576.44L389.6 569.76L393.4 576.44Z" fill="#ff1408"/>
<path d="M394.2 578.94L398 572.26L401.8 578.94Z" fill="#ff1408"/>
<path d="M402.7 583.04L406.5 576.36L410.3 583.04Z" fill="#ff1408"/>
<path d="M394.2 585.64L398 578.96L401.8 585.64Z" fill="#ff1408"/>
<path d="M394.2 592.84L398 586.16L401.8 592.84Z" fill="#ff1408"/>
<path d="M402.7 594.94L406.5 588.26L410.3 594.94Z" fill="#ff1408"/>
<path d="M411.3 594.54L415.1 587.86L418.9 594.54Z" fill="#ff1408"/>
<path d="M385.8 598.14L389.6 591.46L393.4 598.14Z" fill="#ff1408"/>
<path d="M388.2 603.8V560.8H416.1V603.8" fill="none" stroke="#ff1408" stroke-width="2.6" stroke-linejoin="miter"/>
<line x1="402.15" y1="532.5" x2="402.15" y2="585.9" stroke="#ff1408" stroke-width="1.2" opacity="0.7"/>
<line x1="394.15" y1="532.5" x2="410.15" y2="532.5" stroke="#ff1408" stroke-width="1.2" opacity="0.7"/>
<line x1="394.15" y1="585.9" x2="410.15" y2="585.9" stroke="#ff1408" stroke-width="1.2" opacity="0.7"/>
<line x1="315" y1="603.8" x2="434.9" y2="603.8" stroke="#000" stroke-width="2"/>
<line x1="353.3" y1="603.8" x2="353.3" y2="610.6" stroke="#000" stroke-width="2"/>
<line x1="402" y1="603.8" x2="402" y2="610.6" stroke="#000" stroke-width="2"/>
<path d="M369.8 434.5L369.8 442.3M366.42 436.45L373.18 440.35M373.18 436.45L366.42 440.35" stroke="#111" stroke-width="2.11" stroke-linecap="round" fill="none"/>
<path d="M379.9 434.5L379.9 442.3M376.52 436.45L383.28 440.35M383.28 436.45L376.52 440.35" stroke="#111" stroke-width="2.11" stroke-linecap="round" fill="none"/>
<path d="M390 434.5L390 442.3M386.62 436.45L393.38 440.35M393.38 436.45L386.62 440.35" stroke="#111" stroke-width="2.11" stroke-linecap="round" fill="none"/>
<line x1="353.3" y1="450.4" x2="406.3" y2="450.4" stroke="#000" stroke-width="2.6"/>
<text x="357.5" y="622.3" font-size="12.9" font-weight="bold" text-anchor="end" fill="#111" transform="rotate(-45 357.5 622.3)" stroke="#111" stroke-width="0.35" stroke-linejoin="round">Saline-SA</text>
<text x="406.2" y="622.3" font-size="12.9" font-weight="bold" text-anchor="end" fill="#111" transform="rotate(-45 406.2 622.3)" stroke="#111" stroke-width="0.35" stroke-linejoin="round">Propofol-SA</text>
<text x="470.3" y="434.8" font-size="16.2" font-weight="normal" text-anchor="start" fill="#111" stroke="#111" stroke-width="0.4" stroke-linejoin="round">H</text>
<line x1="534.9" y1="433.2" x2="534.9" y2="604.8" stroke="#000" stroke-width="2"/>
<line x1="528.4" y1="603.8" x2="534.9" y2="603.8" stroke="#000" stroke-width="2"/>
<text x="525.6" y="610.28" font-size="18" font-weight="bold" text-anchor="end" fill="#111" stroke="#111" stroke-width="0.45" stroke-linejoin="round">6</text>
<line x1="528.4" y1="561.4" x2="534.9" y2="561.4" stroke="#000" stroke-width="2"/>
<text x="525.6" y="567.88" font-size="18" font-weight="bold" text-anchor="end" fill="#111" stroke="#111" stroke-width="0.45" stroke-linejoin="round">8</text>
<line x1="528.4" y1="519" x2="534.9" y2="519" stroke="#000" stroke-width="2"/>
<text x="525.6" y="525.48" font-size="18" font-weight="bold" text-anchor="end" fill="#111" stroke="#111" stroke-width="0.45" stroke-linejoin="round">10</text>
<line x1="528.4" y1="476.6" x2="534.9" y2="476.6" stroke="#000" stroke-width="2"/>
<text x="525.6" y="483.08" font-size="18" font-weight="bold" text-anchor="end" fill="#111" stroke="#111" stroke-width="0.45" stroke-linejoin="round">12</text>
<line x1="528.4" y1="434.2" x2="534.9" y2="434.2" stroke="#000" stroke-width="2"/>
<text x="525.6" y="440.68" font-size="18" font-weight="bold" text-anchor="end" fill="#111" stroke="#111" stroke-width="0.45" stroke-linejoin="round">14</text>
<text x="495.2" y="515" font-size="13" font-weight="bold" text-anchor="middle" fill="#111" transform="rotate(-90 495.2 515)" textLength="98.5" lengthAdjust="spacingAndGlyphs" stroke="#111" stroke-width="0.35" stroke-linejoin="round">Velocity (cm/s)</text>
<circle cx="567.6" cy="478.6" r="3.2" fill="#1205fd"/>
<circle cx="563.3" cy="490.3" r="3.2" fill="#1205fd"/>
<circle cx="571.9" cy="491.8" r="3.2" fill="#1205fd"/>
<circle cx="567.6" cy="498.7" r="3.2" fill="#1205fd"/>
<circle cx="554.8" cy="508.2" r="3.2" fill="#1205fd"/>
<circle cx="563.3" cy="511.4" r="3.2" fill="#1205fd"/>
<circle cx="571.9" cy="511" r="3.2" fill="#1205fd"/>
<circle cx="580.4" cy="511.4" r="3.2" fill="#1205fd"/>
<circle cx="563.3" cy="520.4" r="3.2" fill="#1205fd"/>
<circle cx="571.9" cy="520.4" r="3.2" fill="#1205fd"/>
<circle cx="571.9" cy="527.6" r="3.2" fill="#1205fd"/>
<circle cx="580.4" cy="532.6" r="3.2" fill="#1205fd"/>
<circle cx="571.9" cy="534.5" r="3.2" fill="#1205fd"/>
<circle cx="563.3" cy="538.9" r="3.2" fill="#1205fd"/>
<circle cx="554.8" cy="543" r="3.2" fill="#1205fd"/>
<circle cx="563.3" cy="547.7" r="3.2" fill="#1205fd"/>
<circle cx="571.9" cy="551.5" r="3.2" fill="#1205fd"/>
<circle cx="580.4" cy="548.6" r="3.2" fill="#1205fd"/>
<circle cx="554.8" cy="553.4" r="3.2" fill="#1205fd"/>
<circle cx="563.3" cy="554.3" r="3.2" fill="#1205fd"/>
<circle cx="567.6" cy="562.8" r="3.2" fill="#1205fd"/>
<circle cx="567.6" cy="574.1" r="3.2" fill="#1205fd"/>
<path d="M553 603.8V529.6H581.3V603.8" fill="none" stroke="#1205fd" stroke-width="2.6" stroke-linejoin="miter"/>
<line x1="567.15" y1="502.1" x2="567.15" y2="554.5" stroke="#1205fd" stroke-width="1.2" opacity="0.7"/>
<line x1="559.15" y1="502.1" x2="575.15" y2="502.1" stroke="#1205fd" stroke-width="1.2" opacity="0.7"/>
<line x1="559.15" y1="554.5" x2="575.15" y2="554.5" stroke="#1205fd" stroke-width="1.2" opacity="0.7"/>
<path d="M612.2 471.94L616 465.26L619.8 471.94Z" fill="#ff1408"/>
<path d="M608.1 484.54L611.9 477.86L615.7 484.54Z" fill="#ff1408"/>
<path d="M616.5 487.94L620.3 481.26L624.1 487.94Z" fill="#ff1408"/>
<path d="M599.6 503.04L603.4 496.36L607.2 503.04Z" fill="#ff1408"/>
<path d="M625 503.04L628.8 496.36L632.6 503.04Z" fill="#ff1408"/>
<path d="M608.1 508.64L611.9 501.96L615.7 508.64Z" fill="#ff1408"/>
<path d="M612.2 517.14L616 510.46L619.8 517.14Z" fill="#ff1408"/>
<path d="M616.5 523.74L620.3 517.06L624.1 523.74Z" fill="#ff1408"/>
<path d="M599.6 529.34L603.4 522.66L607.2 529.34Z" fill="#ff1408"/>
<path d="M608.1 528.44L611.9 521.76L615.7 528.44Z" fill="#ff1408"/>
<path d="M625 533.14L628.8 526.46L632.6 533.14Z" fill="#ff1408"/>
<path d="M599.6 537.84L603.4 531.16L607.2 537.84Z" fill="#ff1408"/>
<path d="M608.1 535.94L611.9 529.26L615.7 535.94Z" fill="#ff1408"/>
<path d="M616.5 535.04L620.3 528.36L624.1 535.04Z" fill="#ff1408"/>
<path d="M608.1 549.14L611.9 542.46L615.7 549.14Z" fill="#ff1408"/>
<path d="M616.5 554.84L620.3 548.16L624.1 554.84Z" fill="#ff1408"/>
<path d="M625 555.74L628.8 549.06L632.6 555.74Z" fill="#ff1408"/>
<path d="M608.1 559.14L611.9 552.46L615.7 559.14Z" fill="#ff1408"/>
<path d="M603.7 579.84L607.5 573.16L611.3 579.84Z" fill="#ff1408"/>
<path d="M612.2 576.04L616 569.36L619.8 576.04Z" fill="#ff1408"/>
<path d="M620.7 579.34L624.5 572.66L628.3 579.34Z" fill="#ff1408"/>
<path d="M601.9 603.8V529.2H630.3V603.8" fill="none" stroke="#ff1408" stroke-width="2.6" stroke-linejoin="miter"/>
<line x1="616.1" y1="496.3" x2="616.1" y2="558.1" stroke="#ff1408" stroke-width="1.2" opacity="0.7"/>
<line x1="608.1" y1="496.3" x2="624.1" y2="496.3" stroke="#ff1408" stroke-width="1.2" opacity="0.7"/>
<line x1="608.1" y1="558.1" x2="624.1" y2="558.1" stroke="#ff1408" stroke-width="1.2" opacity="0.7"/>
<line x1="528.2" y1="603.8" x2="649.1" y2="603.8" stroke="#000" stroke-width="2"/>
<line x1="566.8" y1="603.8" x2="566.8" y2="610.6" stroke="#000" stroke-width="2"/>
<line x1="615.5" y1="603.8" x2="615.5" y2="610.6" stroke="#000" stroke-width="2"/>
<text x="591" y="432" font-size="14" font-weight="normal" text-anchor="middle" fill="#1a1a1a" stroke="#1a1a1a" stroke-width="0.15" stroke-linejoin="round">ns</text>
<line x1="567.5" y1="439.9" x2="613.5" y2="439.9" stroke="#000" stroke-width="2.6"/>
<text x="571" y="622.3" font-size="12.9" font-weight="bold" text-anchor="end" fill="#111" transform="rotate(-45 571 622.3)" stroke="#111" stroke-width="0.35" stroke-linejoin="round">Saline-SA</text>
<text x="619.7" y="622.3" font-size="12.9" font-weight="bold" text-anchor="end" fill="#111" transform="rotate(-45 619.7 622.3)" stroke="#111" stroke-width="0.35" stroke-linejoin="round">Propofol-SA</text>
<text x="5.9" y="689.8" font-size="16.2" font-weight="normal" text-anchor="start" fill="#111" stroke="#111" stroke-width="0.4" stroke-linejoin="round">I</text>
<line x1="88" y1="709.3" x2="88" y2="881.9" stroke="#000" stroke-width="2"/>
<line x1="81.5" y1="880.9" x2="88" y2="880.9" stroke="#000" stroke-width="2"/>
<text x="78.7" y="887.38" font-size="18" font-weight="bold" text-anchor="end" fill="#111" stroke="#111" stroke-width="0.45" stroke-linejoin="round">30</text>
<line x1="81.5" y1="838.25" x2="88" y2="838.25" stroke="#000" stroke-width="2"/>
<text x="78.7" y="844.73" font-size="18" font-weight="bold" text-anchor="end" fill="#111" stroke="#111" stroke-width="0.45" stroke-linejoin="round">40</text>
<line x1="81.5" y1="795.6" x2="88" y2="795.6" stroke="#000" stroke-width="2"/>
<text x="78.7" y="802.08" font-size="18" font-weight="bold" text-anchor="end" fill="#111" stroke="#111" stroke-width="0.45" stroke-linejoin="round">50</text>
<line x1="81.5" y1="752.95" x2="88" y2="752.95" stroke="#000" stroke-width="2"/>
<text x="78.7" y="759.43" font-size="18" font-weight="bold" text-anchor="end" fill="#111" stroke="#111" stroke-width="0.45" stroke-linejoin="round">60</text>
<line x1="81.5" y1="710.3" x2="88" y2="710.3" stroke="#000" stroke-width="2"/>
<text x="78.7" y="716.78" font-size="18" font-weight="bold" text-anchor="end" fill="#111" stroke="#111" stroke-width="0.45" stroke-linejoin="round">70</text>
<text x="49.6" y="791.4" font-size="16" font-weight="bold" text-anchor="middle" fill="#111" transform="rotate(-90 49.6 791.4)" textLength="131.5" lengthAdjust="spacingAndGlyphs" stroke="#111" stroke-width="0.35" stroke-linejoin="round">Preferance index</text>
<circle cx="124.5" cy="743" r="3.2" fill="#1205fd"/>
<circle cx="115.9" cy="750" r="3.2" fill="#1205fd"/>
<circle cx="124.5" cy="751" r="3.2" fill="#1205fd"/>
<circle cx="107.2" cy="766.9" r="3.2" fill="#1205fd"/>
<circle cx="124.5" cy="764.9" r="3.2" fill="#1205fd"/>
<circle cx="133.2" cy="766.3" r="3.2" fill="#1205fd"/>
<circle cx="124.5" cy="772.7" r="3.2" fill="#1205fd"/>
<circle cx="115.9" cy="781" r="3.2" fill="#1205fd"/>
<circle cx="107.2" cy="785.3" r="3.2" fill="#1205fd"/>
<circle cx="124.5" cy="790.1" r="3.2" fill="#1205fd"/>
<circle cx="133.2" cy="790.1" r="3.2" fill="#1205fd"/>
<circle cx="115.9" cy="794" r="3.2" fill="#1205fd"/>
<circle cx="107.2" cy="796.9" r="3.2" fill="#1205fd"/>
<circle cx="115.9" cy="801.7" r="3.2" fill="#1205fd"/>
<circle cx="124.5" cy="803.1" r="3.2" fill="#1205fd"/>
<circle cx="107.2" cy="805.6" r="3.2" fill="#1205fd"/>
<circle cx="115.9" cy="809.5" r="3.2" fill="#1205fd"/>
<circle cx="124.5" cy="812.8" r="3.2" fill="#1205fd"/>
<circle cx="133.2" cy="815.9" r="3.2" fill="#1205fd"/>
<circle cx="115.9" cy="818.2" r="3.2" fill="#1205fd"/>
<circle cx="124.5" cy="822.1" r="3.2" fill="#1205fd"/>
<circle cx="120.2" cy="837.6" r="3.2" fill="#1205fd"/>
<path d="M106 880.9V791.8H134.4V880.9" fill="none" stroke="#1205fd" stroke-width="2.6" stroke-linejoin="miter"/>
<line x1="120.2" y1="764.3" x2="120.2" y2="815.3" stroke="#1205fd" stroke-width="1.2" opacity="0.7"/>
<line x1="112.2" y1="764.3" x2="128.2" y2="764.3" stroke="#1205fd" stroke-width="1.2" opacity="0.7"/>
<line x1="112.2" y1="815.3" x2="128.2" y2="815.3" stroke="#1205fd" stroke-width="1.2" opacity="0.7"/>
<path d="M160.4 741.14L164.2 734.46L168 741.14Z" fill="#ff1408"/>
<path d="M169.3 742.14L173.1 735.46L176.9 742.14Z" fill="#ff1408"/>
<path d="M169.3 772.74L173.1 766.06L176.9 772.74Z" fill="#ff1408"/>
<path d="M160.4 776.94L164.2 770.26L168 776.94Z" fill="#ff1408"/>
<path d="M152.2 782.84L156 776.16L159.8 782.84Z" fill="#ff1408"/>
<path d="M160.4 787.64L164.2 780.96L168 787.64Z" fill="#ff1408"/>
<path d="M169.3 787.64L173.1 780.96L176.9 787.64Z" fill="#ff1408"/>
<path d="M177.8 784.74L181.6 778.06L185.4 784.74Z" fill="#ff1408"/>
<path d="M177.8 791.54L181.6 784.86L185.4 791.54Z" fill="#ff1408"/>
<path d="M152.2 793.44L156 786.76L159.8 793.44Z" fill="#ff1408"/>
<path d="M160.4 794.44L164.2 787.76L168 794.44Z" fill="#ff1408"/>
<path d="M169.3 794.44L173.1 787.76L176.9 794.44Z" fill="#ff1408"/>
<path d="M160.4 803.14L164.2 796.46L168 803.14Z" fill="#ff1408"/>
<path d="M177.8 808.94L181.6 802.26L185.4 808.94Z" fill="#ff1408"/>
<path d="M160.4 813.84L164.2 807.16L168 813.84Z" fill="#ff1408"/>
<path d="M169.3 815.34L173.1 808.66L176.9 815.34Z" fill="#ff1408"/>
<path d="M152.2 825.44L156 818.76L159.8 825.44Z" fill="#ff1408"/>
<path d="M160.4 828.34L164.2 821.66L168 828.34Z" fill="#ff1408"/>
<path d="M169.3 830.24L173.1 823.56L176.9 830.24Z" fill="#ff1408"/>
<path d="M177.8 825.44L181.6 818.76L185.4 825.44Z" fill="#ff1408"/>
<path d="M164.8 840.94L168.6 834.26L172.4 840.94Z" fill="#ff1408"/>
<path d="M154.4 880.9V795.7H182.8V880.9" fill="none" stroke="#ff1408" stroke-width="2.6" stroke-linejoin="miter"/>
<line x1="168.6" y1="767.2" x2="168.6" y2="820.5" stroke="#ff1408" stroke-width="1.2" opacity="0.7"/>
<line x1="160.6" y1="767.2" x2="176.6" y2="767.2" stroke="#ff1408" stroke-width="1.2" opacity="0.7"/>
<line x1="160.6" y1="820.5" x2="176.6" y2="820.5" stroke="#ff1408" stroke-width="1.2" opacity="0.7"/>
<line x1="80.6" y1="880.9" x2="201.5" y2="880.9" stroke="#000" stroke-width="2"/>
<line x1="119.2" y1="880.9" x2="119.2" y2="887.7" stroke="#000" stroke-width="2"/>
<line x1="168.9" y1="880.9" x2="168.9" y2="887.7" stroke="#000" stroke-width="2"/>
<text x="143.6" y="703.8" font-size="14" font-weight="normal" text-anchor="middle" fill="#1a1a1a" stroke="#1a1a1a" stroke-width="0.15" stroke-linejoin="round">ns</text>
<line x1="121" y1="712.1" x2="166.8" y2="712.1" stroke="#000" stroke-width="2.6"/>
<text x="123.4" y="899.3" font-size="12.9" font-weight="bold" text-anchor="end" fill="#111" transform="rotate(-45 123.4 899.3)" stroke="#111" stroke-width="0.35" stroke-linejoin="round">Saline-SA</text>
<text x="173.1" y="899.3" font-size="12.9" font-weight="bold" text-anchor="end" fill="#111" transform="rotate(-45 173.1 899.3)" stroke="#111" stroke-width="0.35" stroke-linejoin="round">Propofol-SA</text>
<text x="254.6" y="690" font-size="16.2" font-weight="normal" text-anchor="start" fill="#111" stroke="#111" stroke-width="0.4" stroke-linejoin="round">J</text>
<line x1="316.7" y1="710.2" x2="316.7" y2="881.9" stroke="#000" stroke-width="2"/>
<line x1="310.2" y1="857" x2="316.7" y2="857" stroke="#000" stroke-width="2"/>
<text x="307.4" y="863.48" font-size="18" font-weight="bold" text-anchor="end" fill="#111" stroke="#111" stroke-width="0.45" stroke-linejoin="round">40</text>
<line x1="310.2" y1="808.4" x2="316.7" y2="808.4" stroke="#000" stroke-width="2"/>
<text x="307.4" y="814.88" font-size="18" font-weight="bold" text-anchor="end" fill="#111" stroke="#111" stroke-width="0.45" stroke-linejoin="round">60</text>
<line x1="310.2" y1="759.8" x2="316.7" y2="759.8" stroke="#000" stroke-width="2"/>
<text x="307.4" y="766.28" font-size="18" font-weight="bold" text-anchor="end" fill="#111" stroke="#111" stroke-width="0.45" stroke-linejoin="round">80</text>
<line x1="310.2" y1="711.2" x2="316.7" y2="711.2" stroke="#000" stroke-width="2"/>
<text x="307.4" y="717.68" font-size="18" font-weight="bold" text-anchor="end" fill="#111" stroke="#111" stroke-width="0.45" stroke-linejoin="round">100</text>
<text x="267" y="791.3" font-size="15.6" font-weight="bold" text-anchor="middle" fill="#111" transform="rotate(-90 267 791.3)" textLength="141" lengthAdjust="spacingAndGlyphs" stroke="#111" stroke-width="0.35" stroke-linejoin="round">Recognition index</text>
<circle cx="349.5" cy="760.5" r="3.2" fill="#1205fd"/>
<circle cx="336.4" cy="773.2" r="3.2" fill="#1205fd"/>
<circle cx="341.8" cy="774.9" r="3.2" fill="#1205fd"/>
<circle cx="351.8" cy="771.1" r="3.2" fill="#1205fd"/>
<circle cx="357.2" cy="775.3" r="3.2" fill="#1205fd"/>
<circle cx="362.7" cy="773.6" r="3.2" fill="#1205fd"/>
<circle cx="341.8" cy="782" r="3.2" fill="#1205fd"/>
<circle cx="351.8" cy="782.8" r="3.2" fill="#1205fd"/>
<circle cx="357.2" cy="787.8" r="3.2" fill="#1205fd"/>
<circle cx="341.8" cy="791.2" r="3.2" fill="#1205fd"/>
<circle cx="347.3" cy="791.2" r="3.2" fill="#1205fd"/>
<circle cx="336.4" cy="795.4" r="3.2" fill="#1205fd"/>
<circle cx="351.8" cy="792.8" r="3.2" fill="#1205fd"/>
<circle cx="357.2" cy="794.5" r="3.2" fill="#1205fd"/>
<circle cx="362.7" cy="796.2" r="3.2" fill="#1205fd"/>
<circle cx="341.8" cy="798.7" r="3.2" fill="#1205fd"/>
<circle cx="351.8" cy="800.4" r="3.2" fill="#1205fd"/>
<circle cx="357.2" cy="802.1" r="3.2" fill="#1205fd"/>
<circle cx="346.8" cy="805.1" r="3.2" fill="#1205fd"/>
<circle cx="347.3" cy="830.2" r="3.2" fill="#1205fd"/>
<circle cx="352.6" cy="830.2" r="3.2" fill="#1205fd"/>
<circle cx="349.5" cy="841.1" r="3.2" fill="#1205fd"/>
<path d="M334.4 880.9V794.9H364.1V880.9" fill="none" stroke="#1205fd" stroke-width="2.6" stroke-linejoin="miter"/>
<line x1="349.25" y1="773.2" x2="349.25" y2="813.8" stroke="#1205fd" stroke-width="1.2" opacity="0.7"/>
<line x1="341.25" y1="773.2" x2="357.25" y2="773.2" stroke="#1205fd" stroke-width="1.2" opacity="0.7"/>
<line x1="341.25" y1="813.8" x2="357.25" y2="813.8" stroke="#1205fd" stroke-width="1.2" opacity="0.7"/>
<path d="M394.1 798.74L397.9 792.06L401.7 798.74Z" fill="#ff1408"/>
<path d="M381.5 812.14L385.3 805.46L389.1 812.14Z" fill="#ff1408"/>
<path d="M389.9 810.74L393.7 804.06L397.5 810.74Z" fill="#ff1408"/>
<path d="M398.3 815.74L402.1 809.06L405.9 815.74Z" fill="#ff1408"/>
<path d="M389.9 821.84L393.7 815.16L397.5 821.84Z" fill="#ff1408"/>
<path d="M389.9 829.64L393.7 822.96L397.5 829.64Z" fill="#ff1408"/>
<path d="M398.3 828.54L402.1 821.86L405.9 828.54Z" fill="#ff1408"/>
<path d="M398.3 834.74L402.1 828.06L405.9 834.74Z" fill="#ff1408"/>
<path d="M406.6 843.94L410.4 837.26L414.2 843.94Z" fill="#ff1408"/>
<path d="M381.5 848.94L385.3 842.26L389.1 848.94Z" fill="#ff1408"/>
<path d="M389.9 853.94L393.7 847.26L397.5 853.94Z" fill="#ff1408"/>
<path d="M398.3 852.34L402.1 845.66L405.9 852.34Z" fill="#ff1408"/>
<path d="M381.5 858.14L385.3 851.46L389.1 858.14Z" fill="#ff1408"/>
<path d="M389.9 860.64L393.7 853.96L397.5 860.64Z" fill="#ff1408"/>
<path d="M398.3 859.04L402.1 852.36L405.9 859.04Z" fill="#ff1408"/>
<path d="M406.6 855.64L410.4 848.96L414.2 855.64Z" fill="#ff1408"/>
<path d="M381.5 865.74L385.3 859.06L389.1 865.74Z" fill="#ff1408"/>
<path d="M398.3 867.34L402.1 860.66L405.9 867.34Z" fill="#ff1408"/>
<path d="M389.9 874.04L393.7 867.36L397.5 874.04Z" fill="#ff1408"/>
<path d="M383.1 880.9V840.9H412.4V880.9" fill="none" stroke="#ff1408" stroke-width="2.6" stroke-linejoin="miter"/>
<line x1="397.75" y1="817.1" x2="397.75" y2="859" stroke="#ff1408" stroke-width="1.2" opacity="0.7"/>
<line x1="389.75" y1="817.1" x2="405.75" y2="817.1" stroke="#ff1408" stroke-width="1.2" opacity="0.7"/>
<line x1="389.75" y1="859" x2="405.75" y2="859" stroke="#ff1408" stroke-width="1.2" opacity="0.7"/>
<line x1="316.7" y1="880.9" x2="429.8" y2="880.9" stroke="#000" stroke-width="2"/>
<line x1="349.2" y1="880.9" x2="349.2" y2="887.7" stroke="#000" stroke-width="2"/>
<line x1="397.9" y1="880.9" x2="397.9" y2="887.7" stroke="#000" stroke-width="2"/>
<path d="M366.85 719.8L366.85 727.6M363.47 721.75L370.23 725.65M370.23 721.75L363.47 725.65" stroke="#111" stroke-width="2.11" stroke-linecap="round" fill="none"/>
<path d="M376.95 719.8L376.95 727.6M373.57 721.75L380.33 725.65M380.33 721.75L373.57 725.65" stroke="#111" stroke-width="2.11" stroke-linecap="round" fill="none"/>
<line x1="344.2" y1="733.8" x2="399.6" y2="733.8" stroke="#000" stroke-width="2.6"/>
<text x="353.4" y="899.3" font-size="12.9" font-weight="bold" text-anchor="end" fill="#111" transform="rotate(-45 353.4 899.3)" stroke="#111" stroke-width="0.35" stroke-linejoin="round">Saline-SA</text>
<text x="402.1" y="899.3" font-size="12.9" font-weight="bold" text-anchor="end" fill="#111" transform="rotate(-45 402.1 899.3)" stroke="#111" stroke-width="0.35" stroke-linejoin="round">Propofol-SA</text>
<text x="470.5" y="690" font-size="16.2" font-weight="normal" text-anchor="start" fill="#111" stroke="#111" stroke-width="0.4" stroke-linejoin="round">K</text>
<line x1="536.3" y1="710" x2="536.3" y2="881.9" stroke="#000" stroke-width="2"/>
<line x1="529.8" y1="880.9" x2="536.3" y2="880.9" stroke="#000" stroke-width="2"/>
<text x="527" y="887.38" font-size="18" font-weight="bold" text-anchor="end" fill="#111" stroke="#111" stroke-width="0.45" stroke-linejoin="round">0</text>
<line x1="529.8" y1="846.92" x2="536.3" y2="846.92" stroke="#000" stroke-width="2"/>
<text x="527" y="853.4" font-size="18" font-weight="bold" text-anchor="end" fill="#111" stroke="#111" stroke-width="0.45" stroke-linejoin="round">2</text>
<line x1="529.8" y1="812.94" x2="536.3" y2="812.94" stroke="#000" stroke-width="2"/>
<text x="527" y="819.42" font-size="18" font-weight="bold" text-anchor="end" fill="#111" stroke="#111" stroke-width="0.45" stroke-linejoin="round">4</text>
<line x1="529.8" y1="778.96" x2="536.3" y2="778.96" stroke="#000" stroke-width="2"/>
<text x="527" y="785.44" font-size="18" font-weight="bold" text-anchor="end" fill="#111" stroke="#111" stroke-width="0.45" stroke-linejoin="round">6</text>
<line x1="529.8" y1="744.98" x2="536.3" y2="744.98" stroke="#000" stroke-width="2"/>
<text x="527" y="751.46" font-size="18" font-weight="bold" text-anchor="end" fill="#111" stroke="#111" stroke-width="0.45" stroke-linejoin="round">8</text>
<line x1="529.8" y1="711" x2="536.3" y2="711" stroke="#000" stroke-width="2"/>
<text x="527" y="717.48" font-size="18" font-weight="bold" text-anchor="end" fill="#111" stroke="#111" stroke-width="0.45" stroke-linejoin="round">10</text>
<text x="496.4" y="791.7" font-size="15.3" font-weight="bold" text-anchor="middle" fill="#111" transform="rotate(-90 496.4 791.7)" textLength="112.5" lengthAdjust="spacingAndGlyphs" stroke="#111" stroke-width="0.35" stroke-linejoin="round">Velocity (cm/s)</text>
<circle cx="568.5" cy="750.3" r="3.2" fill="#1205fd"/>
<circle cx="566.2" cy="762.8" r="3.2" fill="#1205fd"/>
<circle cx="555.6" cy="767.3" r="3.2" fill="#1205fd"/>
<circle cx="560.9" cy="768.1" r="3.2" fill="#1205fd"/>
<circle cx="565.5" cy="769.6" r="3.2" fill="#1205fd"/>
<circle cx="571.6" cy="771.9" r="3.2" fill="#1205fd"/>
<circle cx="576.1" cy="767.3" r="3.2" fill="#1205fd"/>
<circle cx="581.4" cy="767.3" r="3.2" fill="#1205fd"/>
<circle cx="555.6" cy="781" r="3.2" fill="#1205fd"/>
<circle cx="560.9" cy="781" r="3.2" fill="#1205fd"/>
<circle cx="566.2" cy="780.2" r="3.2" fill="#1205fd"/>
<circle cx="571.6" cy="782.5" r="3.2" fill="#1205fd"/>
<circle cx="576.1" cy="783.2" r="3.2" fill="#1205fd"/>
<circle cx="581.4" cy="781" r="3.2" fill="#1205fd"/>
<circle cx="560.9" cy="788.6" r="3.2" fill="#1205fd"/>
<circle cx="565.5" cy="790.1" r="3.2" fill="#1205fd"/>
<circle cx="563.2" cy="798.4" r="3.2" fill="#1205fd"/>
<circle cx="568.5" cy="799.9" r="3.2" fill="#1205fd"/>
<circle cx="573.8" cy="798.4" r="3.2" fill="#1205fd"/>
<circle cx="568.5" cy="813.6" r="3.2" fill="#1205fd"/>
<circle cx="568.5" cy="829.2" r="3.2" fill="#1205fd"/>
<circle cx="568.5" cy="843.9" r="3.2" fill="#1205fd"/>
<path d="M553.7 880.9V787.1H583V880.9" fill="none" stroke="#1205fd" stroke-width="2.6" stroke-linejoin="miter"/>
<line x1="568.35" y1="763.5" x2="568.35" y2="807.1" stroke="#1205fd" stroke-width="1.2" opacity="0.7"/>
<line x1="560.35" y1="763.5" x2="576.35" y2="763.5" stroke="#1205fd" stroke-width="1.2" opacity="0.7"/>
<line x1="560.35" y1="807.1" x2="576.35" y2="807.1" stroke="#1205fd" stroke-width="1.2" opacity="0.7"/>
<path d="M600.7 758.54L604.5 751.86L608.3 758.54Z" fill="#ff1408"/>
<path d="M607.2 758.54L611 751.86L614.8 758.54Z" fill="#ff1408"/>
<path d="M600.7 766.84L604.5 760.16L608.3 766.84Z" fill="#ff1408"/>
<path d="M607.2 765.34L611 758.66L614.8 765.34Z" fill="#ff1408"/>
<path d="M619.8 764.54L623.6 757.86L627.4 764.54Z" fill="#ff1408"/>
<path d="M613.3 770.64L617.1 763.96L620.9 770.64Z" fill="#ff1408"/>
<path d="M607.2 773.64L611 766.96L614.8 773.64Z" fill="#ff1408"/>
<path d="M619.8 776.44L623.6 769.76L627.4 776.44Z" fill="#ff1408"/>
<path d="M613.3 778.24L617.1 771.56L620.9 778.24Z" fill="#ff1408"/>
<path d="M600.7 787.34L604.5 780.66L608.3 787.34Z" fill="#ff1408"/>
<path d="M607.2 785.04L611 778.36L614.8 785.04Z" fill="#ff1408"/>
<path d="M626.2 787.34L630 780.66L633.8 787.34Z" fill="#ff1408"/>
<path d="M607.2 791.94L611 785.26L614.8 791.94Z" fill="#ff1408"/>
<path d="M613.3 793.44L617.1 786.76L620.9 793.44Z" fill="#ff1408"/>
<path d="M619.8 791.94L623.6 785.26L627.4 791.94Z" fill="#ff1408"/>
<path d="M607.2 804.84L611 798.16L614.8 804.84Z" fill="#ff1408"/>
<path d="M619.8 801.74L623.6 795.06L627.4 801.74Z" fill="#ff1408"/>
<path d="M613.3 810.14L617.1 803.46L620.9 810.14Z" fill="#ff1408"/>
<path d="M613.3 827.54L617.1 820.86L620.9 827.54Z" fill="#ff1408"/>
<path d="M610.2 834.34L614 827.66L617.8 834.34Z" fill="#ff1408"/>
<path d="M616.6 834.34L620.4 827.66L624.2 834.34Z" fill="#ff1408"/>
<path d="M602.4 880.9V786.8H631.7V880.9" fill="none" stroke="#ff1408" stroke-width="2.6" stroke-linejoin="miter"/>
<line x1="617.05" y1="761.7" x2="617.05" y2="808.6" stroke="#ff1408" stroke-width="1.2" opacity="0.7"/>
<line x1="609.05" y1="761.7" x2="625.05" y2="761.7" stroke="#ff1408" stroke-width="1.2" opacity="0.7"/>
<line x1="609.05" y1="808.6" x2="625.05" y2="808.6" stroke="#ff1408" stroke-width="1.2" opacity="0.7"/>
<line x1="528.9" y1="880.9" x2="650.4" y2="880.9" stroke="#000" stroke-width="2"/>
<line x1="568.2" y1="880.9" x2="568.2" y2="887.7" stroke="#000" stroke-width="2"/>
<line x1="616.9" y1="880.9" x2="616.9" y2="887.7" stroke="#000" stroke-width="2"/>
<text x="591.8" y="711.5" font-size="14" font-weight="normal" text-anchor="middle" fill="#1a1a1a" stroke="#1a1a1a" stroke-width="0.15" stroke-linejoin="round">ns</text>
<line x1="566.5" y1="720.4" x2="617.2" y2="720.4" stroke="#000" stroke-width="2.6"/>
<text x="572.4" y="899.3" font-size="12.9" font-weight="bold" text-anchor="end" fill="#111" transform="rotate(-45 572.4 899.3)" stroke="#111" stroke-width="0.35" stroke-linejoin="round">Saline-SA</text>
<text x="621.1" y="899.3" font-size="12.9" font-weight="bold" text-anchor="end" fill="#111" transform="rotate(-45 621.1 899.3)" stroke="#111" stroke-width="0.35" stroke-linejoin="round">Propofol-SA</text>
</svg>
</body></html>
